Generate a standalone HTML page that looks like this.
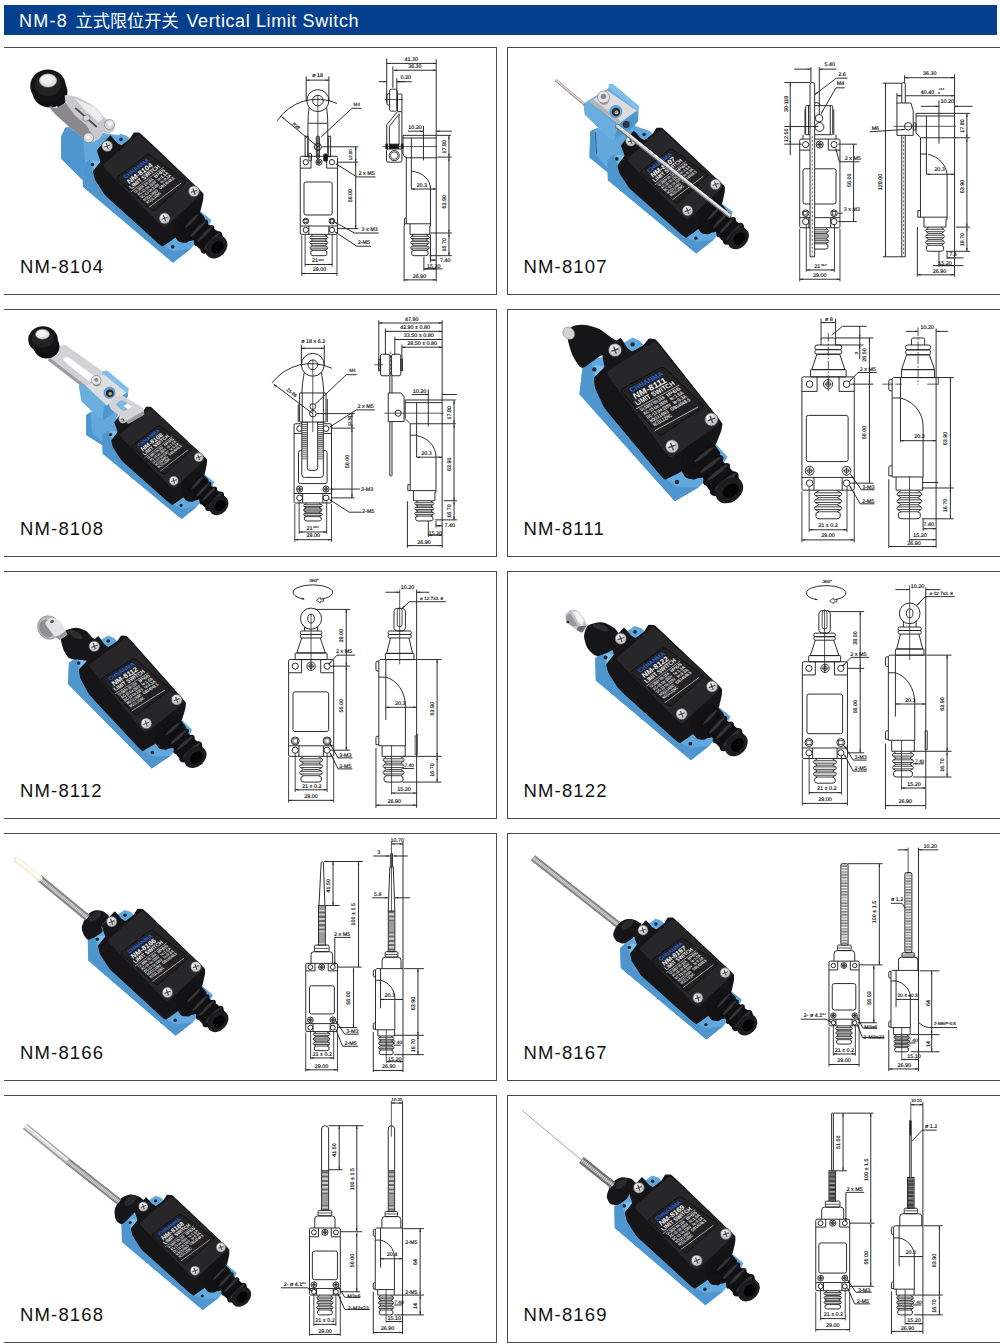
<!DOCTYPE html>
<html lang="zh"><head><meta charset="utf-8"><title>NM-8 立式限位开关 Vertical Limit Switch</title>
<style>
html,body{margin:0;padding:0;background:#fff;}
body{width:1000px;height:1343px;position:relative;overflow:hidden;font-family:"Liberation Sans","Noto Sans CJK SC",sans-serif;}
.hd{position:absolute;left:4px;top:5px;width:993px;height:30px;background:#04408d;color:#fff;font-size:18px;line-height:30px;white-space:nowrap;}
.hd span{position:absolute;top:1px;}
.hd .a{left:15px;letter-spacing:1.25px;}
.hd .b{left:71.5px;font-size:17.2px;top:0.5px;}
.hd .c{left:182.5px;letter-spacing:0.6px;}
.card{position:absolute;height:246px;border-top:1px solid #4a4a4a;border-bottom:1.5px solid #4a4a4a;box-sizing:content-box;}
.card.l{left:4px;width:492px;border-right:1px solid #4a4a4a;}
.card.r{left:507px;width:493px;border-left:1px solid #4a4a4a;}
.nm{position:absolute;font-size:18.5px;line-height:20px;color:#111;letter-spacing:1.15px;white-space:nowrap;}
svg{position:absolute;overflow:visible;}
svg text{font-family:"Liberation Sans",sans-serif;text-rendering:geometricPrecision;}
</style></head>
<body>
<div class="hd"><span class="a">NM-8 </span><span class="b">立式限位开关 </span><span class="c">Vertical Limit Switch</span></div>
<div class="card l" style="top:47px"></div>
<div class="card r" style="top:47px"></div>
<div class="card l" style="top:309px"></div>
<div class="card r" style="top:309px"></div>
<div class="card l" style="top:571px"></div>
<div class="card r" style="top:571px"></div>
<div class="card l" style="top:833px"></div>
<div class="card r" style="top:833px"></div>
<div class="card l" style="top:1095px"></div>
<div class="card r" style="top:1095px"></div>
<svg width="1000" height="1343" style="left:0;top:0" viewBox="0 0 1000 1343">
<polygon points="65.5,127.5 83.8,124.5 100.0,132.5 117.5,135.0 125.0,143.0 96.2,155.0 91.2,175.0 82.5,180.0 61.2,158.8 61.2,136.2" fill="#62a8dd" />
<polygon points="65.5,127.5 61.2,136.2 61.2,158.8 82.5,180.0 85.0,160.0 82.5,135.0" fill="#4f96cf" />
<polygon points="82.5,165.3 92.5,155.0 101.4,152.8 113.7,138.8 120.5,133.8 126.6,135.7 198.2,201.2 200.6,211.3 211.3,220.0 209.1,225.6 191.1,248.5 173.0,262.8 82.9,186.7" fill="#62a8dd" />
<polygon points="82.5,165.3 89.8,159.6 92.8,173.3 95.1,180.5 112.9,200.5 165.2,247.1 173.2,250.9 191.1,248.5 173.0,262.8 82.9,186.7" fill="#4f96cf" />
<polygon points="92.4,160.4 100.9,161.3 94.9,173.0 97.9,182.6 105.2,193.3 163.2,244.9 165.1,246.3 112.6,198.8 94.8,178.1" fill="#80bee9" />
<circle cx="92.4" cy="164.5" r="1.8" fill="#1c2a3a"/>
<circle cx="121.0" cy="139.4" r="1.8" fill="#1c2a3a"/>
<circle cx="172.7" cy="246.8" r="1.8" fill="#1c2a3a"/>
<path d="M93.0,172.0 Q92.8,171.2 93.6,170.2 L99.8,162.5 Q100.5,161.5 100.2,160.4 L97.1,151.5 Q96.7,150.3 98.1,148.8 L109.0,136.8 Q110.4,135.3 110.7,135.6 L113.4,138.4 Q113.7,138.8 114.0,139.2 L116.8,142.6 Q117.1,143.0 117.5,143.2 L120.8,145.1 Q121.3,145.4 122.1,144.7 L128.8,139.7 Q129.6,139.1 130.0,138.5 L133.3,133.2 Q133.7,132.5 134.3,132.5 L139.0,132.5 Q139.6,132.5 146.0,138.5 L197.1,187.2 Q203.5,193.3 203.5,193.9 L203.3,198.6 Q203.3,199.1 203.0,200.3 L200.8,209.8 Q200.5,210.9 199.0,212.8 L186.9,228.0 Q185.4,229.9 184.0,231.0 L172.7,239.5 Q171.3,240.5 170.4,241.2 L163.0,246.3 Q162.1,246.9 156.4,241.7 L110.5,200.2 Q104.8,195.0 103.8,193.4 L95.8,181.0 Q94.8,179.4 94.6,178.6 Z" fill="#161618" />
<path d="M105.8,169.4 Q102.1,165.6 104.3,163.7 L136.7,135.6 Q138.9,133.7 142.7,137.3 L198.3,189.4 Q202.1,193.0 199.8,195.1 L166.4,226.4 Q164.2,228.5 160.4,224.7 Z" fill="#27272a" />
<path d="M174.0,223.2 Q173.9,219.1 177.7,216.0 L185.2,209.9 Q189.0,206.8 191.1,207.5 L195.5,209.0 Q197.7,209.7 199.9,212.1 L204.3,216.9 Q206.5,219.2 201.9,225.2 L192.6,237.0 Q188.0,242.9 185.8,242.8 L181.3,242.6 Q179.1,242.5 177.9,240.8 L175.4,237.4 Q174.2,235.7 174.1,231.6 Z" fill="#131315" />
<path d="M188.0,230.8 Q184.7,225.0 187.3,222.5 L192.5,217.6 Q195.1,215.1 201.3,219.6 L213.9,228.6 Q220.1,233.1 221.6,234.8 L224.6,238.1 Q226.0,239.8 226.0,242.3 L225.8,247.3 Q225.7,249.9 223.6,251.4 L219.5,254.6 Q217.4,256.1 215.0,255.6 L210.3,254.7 Q207.9,254.2 205.4,252.7 L200.4,249.6 Q197.9,248.1 194.6,242.3 Z" fill="#0e0e10" />
<ellipse cx="191.1" cy="222.7" rx="12.3" ry="5.0" fill="#111113" transform="rotate(-46.1 191.1 222.7)"/>
<ellipse cx="191.7" cy="221.1" rx="9.8" ry="1.5" fill="#343437" transform="rotate(-46.1 191.7 221.1)"/>
<ellipse cx="197.7" cy="230.3" rx="13.9" ry="5.3" fill="#111113" transform="rotate(-46.1 197.7 230.3)"/>
<ellipse cx="198.3" cy="228.7" rx="11.1" ry="1.6" fill="#343437" transform="rotate(-46.1 198.3 228.7)"/>
<ellipse cx="204.2" cy="235.6" rx="13.6" ry="5.3" fill="#111113" transform="rotate(-46.1 204.2 235.6)"/>
<ellipse cx="204.9" cy="234.0" rx="10.9" ry="1.6" fill="#343437" transform="rotate(-46.1 204.9 234.0)"/>
<ellipse cx="211.5" cy="242.4" rx="14.2" ry="6.6" fill="#111113" transform="rotate(-46.1 211.5 242.4)"/>
<ellipse cx="212.1" cy="240.8" rx="11.4" ry="2.0" fill="#343437" transform="rotate(-46.1 212.1 240.8)"/>
<ellipse cx="216.5" cy="247.4" rx="12.4" ry="9.5" fill="#1d1d20" transform="rotate(-46.1 216.5 247.4)"/>
<ellipse cx="217.2" cy="248.2" rx="7.1" ry="5.3" fill="#050506" transform="rotate(-46.1 216.5 247.4)"/>
<path d="M118.0,180.3 Q115.7,178.3 117.7,176.8 L146.4,155.2 Q148.3,153.8 150.6,155.4 L184.5,179.8 Q186.9,181.5 184.9,183.3 L155.6,209.7 Q153.7,211.5 151.4,209.5 Z" fill="#222225" stroke="#0a0a0b" stroke-width="0.75"/>
<g transform="matrix(0.7988 -0.6017 0.7526 0.6585 115.71 178.31)">
<text x="6.1" y="6.6" font-size="5.55" fill="#2a66d0" textLength="30.6" lengthAdjust="spacingAndGlyphs" font-weight="bold">CHNANMA</text>
<text x="4.9" y="13.1" font-size="7.06" fill="#f4f4f4" textLength="30.2" lengthAdjust="spacingAndGlyphs" font-weight="bold" font-style="italic">NM-8104</text>
<text x="2.4" y="18.4" font-size="5.80" fill="#f0f0f0" textLength="36.3" lengthAdjust="spacingAndGlyphs" font-weight="bold">LIMIT SWITCH</text>
<line x1="0.0" y1="20.4" x2="40.8" y2="20.4" stroke="#d8d8d8" stroke-width="0.60"/>
<text x="2.0" y="24.5" font-size="4.13" fill="#e4e4e4" textLength="22.5" lengthAdjust="spacingAndGlyphs" font-weight="bold">Ui:380V Ith:10A</text>
<text x="26.9" y="24.5" font-size="4.13" fill="#e4e4e4" textLength="12.7" lengthAdjust="spacingAndGlyphs" font-weight="bold">IP65</text>
<text x="2.0" y="28.5" font-size="4.13" fill="#e4e4e4" textLength="22.5" lengthAdjust="spacingAndGlyphs" font-weight="bold">AC-15 Ue:250V</text>
<text x="26.9" y="28.5" font-size="4.13" fill="#e4e4e4" textLength="12.7" lengthAdjust="spacingAndGlyphs" font-weight="bold">Ie:1.5A</text>
<text x="2.0" y="32.5" font-size="4.13" fill="#e4e4e4" textLength="22.5" lengthAdjust="spacingAndGlyphs" font-weight="bold">DC-13 Ue:220V</text>
<text x="26.9" y="32.5" font-size="4.13" fill="#e4e4e4" textLength="12.7" lengthAdjust="spacingAndGlyphs" font-weight="bold">Ie:0.3A</text>
<text x="2.0" y="36.6" font-size="4.13" fill="#e4e4e4" textLength="17.1" lengthAdjust="spacingAndGlyphs" font-weight="bold">NO(13,14)NO</text>
<text x="21.6" y="36.6" font-size="4.13" fill="#e4e4e4" textLength="18.0" lengthAdjust="spacingAndGlyphs" font-weight="bold">GB14048.5</text>
<text x="2.0" y="40.6" font-size="4.13" fill="#e4e4e4" textLength="17.1" lengthAdjust="spacingAndGlyphs" font-weight="bold">NC(11,12)NC</text>
<line x1="0.0" y1="44.1" x2="40.8" y2="44.1" stroke="#d8d8d8" stroke-width="0.60"/>
</g>
<circle cx="107.2" cy="146.1" r="5.5" fill="#c4c4c6" stroke="#3a3a3a" stroke-width="0.6"/>
<circle cx="106.4" cy="145.3" r="3.4" fill="#ededee"/>
<path d="M104.1,147.2 L110.2,145.0 M106.1,143.1 L108.2,149.1" stroke="#4a4a4a" stroke-width="1.2" fill="none"/>
<circle cx="193.9" cy="191.3" r="5.5" fill="#c4c4c6" stroke="#3a3a3a" stroke-width="0.6"/>
<circle cx="193.1" cy="190.5" r="3.4" fill="#ededee"/>
<path d="M190.9,192.4 L196.9,190.2 M192.8,188.3 L195.0,194.3" stroke="#4a4a4a" stroke-width="1.2" fill="none"/>
<circle cx="164.6" cy="218.3" r="5.5" fill="#c4c4c6" stroke="#3a3a3a" stroke-width="0.6"/>
<circle cx="163.9" cy="217.4" r="3.4" fill="#ededee"/>
<path d="M161.6,219.3 L167.6,217.2 M163.5,215.3 L165.7,221.3" stroke="#4a4a4a" stroke-width="1.2" fill="none"/>
<ellipse cx="50.0" cy="92.0" rx="17.5" ry="15.5" fill="#0f0f11" transform="rotate(0 50.0 92.0)" />
<polygon points="56.2,103.8 65.5,95.0 75.0,100.0 72.5,112.5 60.0,112.5" fill="#121214" />
<path d="M64.7,96.2 Q64.5,94.5 67.1,95.0 L74.9,96.5 Q77.5,97.0 80.9,98.8 L91.1,104.2 Q94.5,106.0 96.4,108.3 L102.1,115.2 Q104.0,117.5 106.2,118.7 L112.6,122.3 Q114.8,123.5 114.8,124.7 L114.8,128.3 Q114.8,129.5 113.5,130.4 L110.0,133.3 Q108.8,134.2 107.8,133.8 L105.0,132.2 Q104.0,131.8 103.0,133.2 L100.2,137.6 Q99.2,139.0 97.8,139.7 L93.5,141.8 Q92.0,142.5 90.1,141.6 L84.4,138.7 Q82.5,137.8 79.6,135.3 L70.9,128.2 Q68.0,125.8 65.3,123.3 L57.4,116.2 Q54.8,113.8 53.5,112.2 L50.0,107.8 Q48.8,106.2 50.3,106.6 L55.0,107.7 Q56.5,108.0 58.3,107.0 L63.7,104.0 Q65.5,103.0 65.3,101.3 Z" fill="#c9c9cb" />
<polygon points="48.8,106.2 56.5,108.0 65.5,103.0 75.0,115.5 86.2,125.0 93.0,136.2 82.5,137.8 68.0,125.8 54.8,113.8" fill="#8a8a8e" />
<polygon points="75.0,98.8 94.5,107.0 103.0,118.0 98.8,122.5 85.0,110.0" fill="#ececee" />
<line x1="75.2" y1="107.8" x2="96.8" y2="127.0" stroke="#4a4a4e" stroke-width="1.75" />
<ellipse cx="86.5" cy="118.0" rx="3.8" ry="3.0" fill="#d8d4cc" transform="rotate(-30 86.5 118.0)" stroke="#555" stroke-width="0.5"/>
<circle cx="109.5" cy="124.5" r="5.0" fill="#d9d9db" stroke="#777" stroke-width="0.6"/>
<circle cx="110.0" cy="123.5" r="2.2" fill="#f6f6f6" />
<circle cx="88.5" cy="137.8" r="5.0" fill="#d9d9db" stroke="#777" stroke-width="0.6"/>
<circle cx="88.0" cy="137.2" r="2.2" fill="#f6f6f6" />
<ellipse cx="48.0" cy="86.0" rx="17.8" ry="16.5" fill="#141416" transform="rotate(0 48.0 86.0)" />
<ellipse cx="48.0" cy="85.0" rx="13.0" ry="11.0" fill="#232326" transform="rotate(0 48.0 85.0)" />
<ellipse cx="48.0" cy="80.5" rx="8.8" ry="6.8" fill="#e2dfdc" transform="rotate(0 48.0 80.5)" stroke="#777" stroke-width="0.5"/>
<ellipse cx="47.0" cy="79.5" rx="6.0" ry="4.2" fill="#f4f2ee" transform="rotate(0 47.0 79.5)" />
</svg>
<svg x="0" y="0" width="220" height="240" style="left:260px;top:50px" viewBox="0 0 1000 1091">
<rect x="183" y="483" width="169" height="355" rx="6" fill="none" stroke="#222" stroke-width="4.3"/>
<polyline points="232,483 232,537 183,537" fill="none" stroke="#222" stroke-width="4.3"/>
<polyline points="303,483 303,537 352,537" fill="none" stroke="#222" stroke-width="4.3"/>
<circle cx="208" cy="510" r="12" fill="none" stroke="#222" stroke-width="4.3"/>
<circle cx="327" cy="510" r="12" fill="none" stroke="#222" stroke-width="4.3"/>
<circle cx="268" cy="510" r="14" fill="none" stroke="#222" stroke-width="4.3"/>
<circle cx="268" cy="510" r="7" fill="none" stroke="#222" stroke-width="3.44"/>
<line x1="257" y1="510" x2="278" y2="510" stroke="#222" stroke-width="3.87"/>
<line x1="268" y1="500" x2="268" y2="520" stroke="#222" stroke-width="3.87"/>
<rect x="200" y="600" width="128" height="150" rx="9" fill="none" stroke="#222" stroke-width="4.3"/>
<circle cx="208" cy="778" r="13" fill="none" stroke="#222" stroke-width="4.3"/>
<rect x="200" y="771" width="14" height="14" rx="0" fill="none" stroke="#222" stroke-width="3.44"/>
<circle cx="208" cy="818" r="12" fill="none" stroke="#222" stroke-width="4.3"/>
<circle cx="327" cy="778" r="13" fill="none" stroke="#222" stroke-width="4.3"/>
<rect x="320" y="771" width="14" height="14" rx="0" fill="none" stroke="#222" stroke-width="3.44"/>
<circle cx="327" cy="818" r="12" fill="none" stroke="#222" stroke-width="4.3"/>
<line x1="183" y1="800" x2="352" y2="800" stroke="#222" stroke-width="4.3"/>
<line x1="222" y1="800" x2="222" y2="838" stroke="#222" stroke-width="4.3"/>
<line x1="313" y1="800" x2="313" y2="838" stroke="#222" stroke-width="4.3"/>
<path d="M240,840 L230,847 Q223,852 230,857 L240,864 M295,840 L305,847 Q312,852 305,857 L295,864 M240,864 L295,864 M230,847 L305,847 M230,857 L305,857 M240,864 L230,870 Q223,876 230,881 L240,888 M295,864 L305,870 Q312,876 305,881 L295,888 M240,888 L295,888 M230,871 L305,871 M230,880 L305,880 M240,888 L230,894 Q223,899 230,905 L240,911 M295,888 L305,894 Q312,899 305,905 L295,911 M240,911 L295,911 M230,895 L305,895 M230,904 L305,904 " fill="none" stroke="#222" stroke-width="3.87"/>
<path d="M240,911 L231,916 L231,928 Q231,935 243,935 L292,935 Q304,935 304,928 L304,916 L295,911" fill="none" stroke="#222" stroke-width="4.3"/>
<circle cx="263" cy="230" r="50" fill="none" stroke="#222" stroke-width="4.3"/>
<circle cx="263" cy="230" r="24" fill="none" stroke="#222" stroke-width="4.3"/>
<path d="M223,262 Q218,300 218,333 L218,485" fill="none" stroke="#222" stroke-width="4.3"/>
<path d="M303,262 Q308,300 308,333 L308,470" fill="none" stroke="#222" stroke-width="4.3"/>
<line x1="218" y1="333" x2="308" y2="333" stroke="#222" stroke-width="4.3"/>
<rect x="205" y="392" width="13" height="93" rx="0" fill="none" stroke="#222" stroke-width="4.3"/>
<rect x="310" y="392" width="11" height="93" rx="0" fill="none" stroke="#222" stroke-width="4.3"/>
<line x1="263" y1="205" x2="263" y2="520" stroke="#222" stroke-width="3.44"/>
<rect x="256" y="392" width="14" height="100" rx="4" fill="none" stroke="#222" stroke-width="4.3"/>
<line x1="263" y1="395" x2="263" y2="490" stroke="#222" stroke-width="8" stroke-dasharray="3 3"/>
<circle cx="263" cy="440" r="16" fill="none" stroke="#222" stroke-width="4.3"/>
<line x1="252" y1="450" x2="274" y2="430" stroke="#222" stroke-width="4.3"/>
<rect x="290" y="473" width="17" height="32" rx="3" fill="#111" stroke="#222" stroke-width="4.3"/>
<rect x="222" y="470" width="12" height="34" rx="5" fill="none" stroke="#222" stroke-width="4.3"/>
<path d="M78,322 A218,218 0 0 1 350,243" fill="none" stroke="#222" stroke-width="4.3"/>
<line x1="98" y1="303" x2="263" y2="440" stroke="#222" stroke-width="4.3"/>
<polygon points="98,303 111.6,310.1 107.5,315.0" fill="#222"/>
<text x="160" y="350" font-size="20" text-anchor="middle" fill="#111" stroke="#111" stroke-width="0.7" transform="rotate(40 160 350)">R38</text>
<line x1="210" y1="120" x2="210" y2="232" stroke="#222" stroke-width="4.3"/>
<line x1="313" y1="120" x2="313" y2="232" stroke="#222" stroke-width="4.3"/>
<line x1="210" y1="137" x2="313" y2="137" stroke="#222" stroke-width="4.3"/>
<polygon points="210,137 225.0,133.8 225.0,140.2" fill="#222"/>
<polygon points="313,137 298.0,140.2 298.0,133.8" fill="#222"/>
<text x="262" y="125" font-size="24.5" text-anchor="middle" fill="#111" stroke="#111" stroke-width="0.7">ø 18</text>
<polyline points="460,265 418,265 278,395" fill="none" stroke="#222" stroke-width="4.3"/>
<text x="440" y="255" font-size="21" text-anchor="middle" fill="#111" stroke="#111" stroke-width="0.7">M4</text>
<line x1="280" y1="440" x2="447" y2="440" stroke="#222" stroke-width="4.3"/>
<line x1="350" y1="510" x2="447" y2="510" stroke="#222" stroke-width="4.3"/>
<line x1="435" y1="440" x2="435" y2="510" stroke="#222" stroke-width="4.3"/>
<polygon points="435,440 438.2,455.0 431.8,455.0" fill="#222"/>
<polygon points="435,510 431.8,495.0 438.2,495.0" fill="#222"/>
<text x="420" y="476" font-size="20" text-anchor="middle" fill="#111" stroke="#111" stroke-width="0.7" transform="rotate(-90 420 476)">12.50</text>
<polyline points="345,517 440,577 525,577" fill="none" stroke="#222" stroke-width="4.3"/>
<polygon points="345,517 357.6,521.4 354.4,526.5" fill="#222"/>
<text x="485" y="568" font-size="24.5" text-anchor="middle" fill="#111" stroke="#111" stroke-width="0.7">2 x M5</text>
<line x1="435" y1="512" x2="435" y2="812" stroke="#222" stroke-width="4.3"/>
<polygon points="435,512 438.2,527.0 431.8,527.0" fill="#222"/>
<polygon points="435,812 431.8,797.0 438.2,797.0" fill="#222"/>
<text x="420" y="662" font-size="24.5" text-anchor="middle" fill="#111" stroke="#111" stroke-width="0.7" transform="rotate(-90 420 662)">56.00</text>
<line x1="350" y1="812" x2="447" y2="812" stroke="#222" stroke-width="4.3"/>
<polyline points="340,783 430,832 540,832" fill="none" stroke="#222" stroke-width="4.3"/>
<polygon points="340,783 352.9,786.6 350.0,791.9" fill="#222"/>
<text x="498" y="823" font-size="24.5" text-anchor="middle" fill="#111" stroke="#111" stroke-width="0.7">3 x M3</text>
<polyline points="340,826 440,892 505,892" fill="none" stroke="#222" stroke-width="4.3"/>
<polygon points="340,826 352.5,830.7 349.2,835.7" fill="#222"/>
<text x="472" y="883" font-size="24.5" text-anchor="middle" fill="#111" stroke="#111" stroke-width="0.7">2-M5</text>
<line x1="205" y1="840" x2="205" y2="985" stroke="#222" stroke-width="3.87"/>
<line x1="328" y1="840" x2="328" y2="985" stroke="#222" stroke-width="3.87"/>
<line x1="205" y1="975" x2="328" y2="975" stroke="#222" stroke-width="4.3"/>
<polygon points="205,975 220.0,971.8 220.0,978.2" fill="#222"/>
<polygon points="328,975 313.0,978.2 313.0,971.8" fill="#222"/>
<text x="250" y="965" font-size="24.5" text-anchor="middle" fill="#111" stroke="#111" stroke-width="0.7">21</text>
<text x="278" y="958" font-size="13" text-anchor="middle" fill="#111" stroke="#111" stroke-width="0.7">±0.2</text>
<line x1="190" y1="842" x2="190" y2="1027" stroke="#222" stroke-width="3.87"/>
<line x1="350" y1="842" x2="350" y2="1027" stroke="#222" stroke-width="3.87"/>
<line x1="190" y1="1016" x2="350" y2="1016" stroke="#222" stroke-width="4.3"/>
<polygon points="190,1016 205.0,1012.8 205.0,1019.2" fill="#222"/>
<polygon points="350,1016 335.0,1019.2 335.0,1012.8" fill="#222"/>
<text x="270" y="1005" font-size="24.5" text-anchor="middle" fill="#111" stroke="#111" stroke-width="0.7">29.00</text>
<line x1="801" y1="42" x2="801" y2="1052" stroke="#222" stroke-width="4.3"/>
<line x1="576" y1="38" x2="576" y2="240" stroke="#222" stroke-width="4.3"/>
<line x1="576" y1="61" x2="801" y2="61" stroke="#222" stroke-width="4.3"/>
<polygon points="576,61 591.0,57.8 591.0,64.2" fill="#222"/>
<polygon points="801,61 786.0,64.2 786.0,57.8" fill="#222"/>
<text x="688" y="50" font-size="24.5" text-anchor="middle" fill="#111" stroke="#111" stroke-width="0.7">41.30</text>
<line x1="604" y1="75" x2="604" y2="172" stroke="#222" stroke-width="4.3"/>
<line x1="608" y1="92" x2="801" y2="92" stroke="#222" stroke-width="4.3"/>
<polygon points="608,92 623.0,88.8 623.0,95.2" fill="#222"/>
<polygon points="801,92 786.0,95.2 786.0,88.8" fill="#222"/>
<text x="704" y="82" font-size="24.5" text-anchor="middle" fill="#111" stroke="#111" stroke-width="0.7">36.30</text>
<line x1="622" y1="128" x2="622" y2="270" stroke="#222" stroke-width="4.3"/>
<line x1="540" y1="144" x2="576" y2="144" stroke="#222" stroke-width="4.3"/>
<line x1="622" y1="144" x2="658" y2="144" stroke="#222" stroke-width="4.3"/>
<polygon points="576,144 561.0,147.2 561.0,140.8" fill="#222"/>
<polygon points="622,144 637.0,140.8 637.0,147.2" fill="#222"/>
<text x="662" y="133" font-size="24.5" text-anchor="middle" fill="#111" stroke="#111" stroke-width="0.7">0.20</text>
<line x1="622" y1="144" x2="690" y2="144" stroke="#222" stroke-width="4.3"/>
<rect x="589" y="178" width="35" height="100" rx="9" fill="none" stroke="#222" stroke-width="4.3"/>
<path d="M589,200 L581,200 Q577,200 577,205 L577,245 Q577,250 581,250 L589,250" fill="none" stroke="#222" stroke-width="4.3"/>
<rect x="625" y="200" width="20" height="80" rx="3" fill="none" stroke="#222" stroke-width="4.3"/>
<line x1="567" y1="225" x2="650" y2="225" stroke="#222" stroke-width="3.44"/>
<line x1="645" y1="280" x2="645" y2="430" stroke="#222" stroke-width="4.3"/>
<line x1="632" y1="288" x2="632" y2="430" stroke="#222" stroke-width="4.3"/>
<polyline points="625,280 576,340 576,430" fill="none" stroke="#222" stroke-width="4.3"/>
<polyline points="632,292 588,347 588,430" fill="none" stroke="#222" stroke-width="4.3"/>
<rect x="588" y="428" width="43" height="20" rx="0" fill="#111" stroke="#222" stroke-width="4.3"/>
<rect x="572" y="428" width="8" height="20" rx="0" fill="#111" stroke="#222" stroke-width="4.3"/>
<rect x="642" y="428" width="8" height="20" rx="0" fill="#111" stroke="#222" stroke-width="4.3"/>
<rect x="575" y="450" width="70" height="60" rx="8" fill="none" stroke="#222" stroke-width="4.3"/>
<circle cx="610" cy="480" r="23" fill="none" stroke="#222" stroke-width="4.3"/>
<circle cx="610" cy="480" r="17" fill="none" stroke="#222" stroke-width="3.44"/>
<line x1="557" y1="439" x2="805" y2="439" stroke="#222" stroke-width="3.44"/>
<line x1="650" y1="388" x2="868" y2="388" stroke="#222" stroke-width="4.3"/>
<line x1="650" y1="400" x2="801" y2="400" stroke="#222" stroke-width="4.3"/>
<path d="M650,388 L650,470 Q652,488 668,490" fill="none" stroke="#222" stroke-width="4.3"/>
<line x1="665" y1="490" x2="665" y2="790" stroke="#222" stroke-width="4.3"/>
<line x1="688" y1="400" x2="688" y2="632" stroke="#222" stroke-width="4.3"/>
<line x1="665" y1="490" x2="803" y2="490" stroke="#222" stroke-width="4.3"/>
<line x1="743" y1="345" x2="743" y2="502" stroke="#222" stroke-width="4.3"/>
<line x1="672" y1="369" x2="743" y2="369" stroke="#222" stroke-width="4.3"/>
<polygon points="743,369 728.0,372.2 728.0,365.8" fill="#222"/>
<line x1="801" y1="369" x2="872" y2="369" stroke="#222" stroke-width="4.3"/>
<polygon points="801,369 816.0,365.8 816.0,372.2" fill="#222"/>
<text x="705" y="358" font-size="24.5" text-anchor="middle" fill="#111" stroke="#111" stroke-width="0.7">10.20</text>
<line x1="805" y1="487" x2="872" y2="487" stroke="#222" stroke-width="4.3"/>
<line x1="859" y1="390" x2="859" y2="487" stroke="#222" stroke-width="4.3"/>
<polygon points="859,390 862.2,405.0 855.8,405.0" fill="#222"/>
<polygon points="859,487 855.8,472.0 862.2,472.0" fill="#222"/>
<text x="845" y="440" font-size="24.5" text-anchor="middle" fill="#111" stroke="#111" stroke-width="0.7" transform="rotate(-90 845 440)">17.80</text>
<path d="M688,550 C740,556 775,590 775,632" fill="none" stroke="#222" stroke-width="4.3"/>
<line x1="775" y1="632" x2="775" y2="800" stroke="#222" stroke-width="4.3"/>
<line x1="688" y1="632" x2="801" y2="632" stroke="#222" stroke-width="4.3"/>
<polygon points="688,632 703.0,628.8 703.0,635.2" fill="#222"/>
<polygon points="801,632 786.0,635.2 786.0,628.8" fill="#222"/>
<text x="735" y="622" font-size="24.5" text-anchor="middle" fill="#111" stroke="#111" stroke-width="0.7">20.3</text>
<polyline points="665,765 657,765 657,790 775,790" fill="none" stroke="#222" stroke-width="4.3"/>
<line x1="657" y1="790" x2="657" y2="800" stroke="#222" stroke-width="4.3"/>
<polyline points="682,790 682,838 772,838 772,800 775,800" fill="none" stroke="#222" stroke-width="4.3"/>
<path d="M699,840 L688,847 Q682,852 688,857 L699,864 M755,840 L766,847 Q772,852 766,857 L755,864 M699,864 L755,864 M688,847 L766,847 M688,857 L766,857 M699,864 L688,870 Q682,876 688,881 L699,888 M755,864 L766,870 Q772,876 766,881 L755,888 M699,888 L755,888 M688,871 L766,871 M688,880 L766,880 M699,888 L688,894 Q682,899 688,905 L699,911 M755,888 L766,894 Q772,899 766,905 L755,911 M699,911 L755,911 M688,895 L766,895 M688,904 L766,904 " fill="none" stroke="#222" stroke-width="3.87"/>
<path d="M699,911 L690,916 L690,928 Q690,935 702,935 L752,935 Q764,935 764,928 L764,916 L755,911" fill="none" stroke="#222" stroke-width="4.3"/>
<line x1="775" y1="832" x2="872" y2="832" stroke="#222" stroke-width="4.3"/>
<line x1="770" y1="935" x2="872" y2="935" stroke="#222" stroke-width="4.3"/>
<line x1="859" y1="489" x2="859" y2="832" stroke="#222" stroke-width="4.3"/>
<polygon points="859,489 862.2,504.0 855.8,504.0" fill="#222"/>
<polygon points="859,832 855.8,817.0 862.2,817.0" fill="#222"/>
<text x="845" y="690" font-size="24.5" text-anchor="middle" fill="#111" stroke="#111" stroke-width="0.7" transform="rotate(-90 845 690)">63.90</text>
<line x1="859" y1="834" x2="859" y2="935" stroke="#222" stroke-width="4.3"/>
<polygon points="859,834 862.2,849.0 855.8,849.0" fill="#222"/>
<polygon points="859,935 855.8,920.0 862.2,920.0" fill="#222"/>
<text x="845" y="885" font-size="24.5" text-anchor="middle" fill="#111" stroke="#111" stroke-width="0.7" transform="rotate(-90 845 885)">16.70</text>
<line x1="775" y1="838" x2="775" y2="965" stroke="#222" stroke-width="4.3"/>
<line x1="775" y1="955" x2="801" y2="955" stroke="#222" stroke-width="4.3"/>
<polygon points="775,955 790.0,951.8 790.0,958.2" fill="#222"/>
<polygon points="801,955 786.0,958.2 786.0,951.8" fill="#222"/>
<text x="842" y="962" font-size="24.5" text-anchor="middle" fill="#111" stroke="#111" stroke-width="0.7">7.40</text>
<line x1="745" y1="940" x2="745" y2="1003" stroke="#222" stroke-width="4.3"/>
<line x1="745" y1="995" x2="801" y2="995" stroke="#222" stroke-width="4.3"/>
<polygon points="745,995 760.0,991.8 760.0,998.2" fill="#222"/>
<polygon points="801,995 786.0,998.2 786.0,991.8" fill="#222"/>
<text x="790" y="993" font-size="24.5" text-anchor="middle" fill="#111" stroke="#111" stroke-width="0.7">15.20</text>
<line x1="745" y1="995" x2="830" y2="995" stroke="#222" stroke-width="4.3"/>
<line x1="655" y1="800" x2="655" y2="1052" stroke="#222" stroke-width="4.3"/>
<line x1="655" y1="1045" x2="801" y2="1045" stroke="#222" stroke-width="4.3"/>
<polygon points="655,1045 670.0,1041.8 670.0,1048.2" fill="#222"/>
<polygon points="801,1045 786.0,1048.2 786.0,1041.8" fill="#222"/>
<text x="725" y="1035" font-size="24.5" text-anchor="middle" fill="#111" stroke="#111" stroke-width="0.7">26.90</text>
</svg>
<svg width="1000" height="1343" style="left:0;top:0" viewBox="0 0 1000 1343">
<polygon points="590.2,131.2 598.0,127.5 614.5,139.5 624.5,136.2 635.8,126.2 647.0,130.0 657.0,140.0 627.0,167.5 617.0,180.0 589.5,157.5" fill="#62a8dd" />
<polygon points="590.2,131.2 595.0,129.5 596.0,155.0 617.0,180.0 589.5,157.5" fill="#4f96cf" />
<line x1="595.5" y1="132.5" x2="596.5" y2="153.8" stroke="#2f4a66" stroke-width="0.75" />
<polygon points="613.0,139.0 622.0,134.2 634.0,126.0 637.0,126.2 625.8,137.5 615.0,141.5" fill="#62a8dd" />
<polygon points="607.2,159.7 616.8,149.6 625.3,147.5 637.1,133.9 643.6,129.0 649.6,130.9 719.9,194.0 722.3,203.7 732.9,212.1 730.7,217.5 713.7,239.7 696.3,253.6 607.9,180.3" fill="#62a8dd" />
<polygon points="607.2,159.7 614.2,154.1 617.3,167.4 619.7,174.3 637.2,193.5 688.5,238.4 696.4,242.1 713.7,239.7 696.3,253.6 607.9,180.3" fill="#4f96cf" />
<polygon points="616.7,154.8 625.0,155.7 619.4,167.1 622.4,176.3 629.6,186.6 686.6,236.3 688.4,237.7 636.9,192.0 619.3,171.9" fill="#80bee9" />
<circle cx="616.9" cy="158.9" r="1.8" fill="#1c2a3a"/>
<circle cx="644.1" cy="134.5" r="1.8" fill="#1c2a3a"/>
<circle cx="695.8" cy="238.2" r="1.8" fill="#1c2a3a"/>
<path d="M617.5,166.1 Q617.3,165.3 618.1,164.3 L623.9,156.8 Q624.7,155.9 624.3,154.8 L621.2,146.2 Q620.8,145.1 622.1,143.7 L632.5,132.0 Q633.8,130.5 634.1,130.9 L636.7,133.6 Q637.1,133.9 637.4,134.3 L640.1,137.5 Q640.4,138.0 640.8,138.2 L644.1,140.0 Q644.5,140.3 645.3,139.6 L651.7,134.8 Q652.5,134.2 652.9,133.5 L656.0,128.4 Q656.4,127.8 657.0,127.8 L661.5,127.7 Q662.1,127.7 668.3,133.6 L718.6,180.4 Q724.9,186.3 724.9,186.8 L724.8,191.4 Q724.8,192.0 724.5,193.1 L722.5,202.2 Q722.3,203.4 720.8,205.2 L709.3,219.9 Q707.9,221.7 706.5,222.8 L695.7,231.0 Q694.4,232.1 693.5,232.7 L686.5,237.6 Q685.6,238.2 680.0,233.2 L634.9,193.3 Q629.2,188.3 628.3,186.8 L620.3,174.7 Q619.4,173.2 619.1,172.4 Z" fill="#161618" />
<path d="M629.9,163.5 Q626.2,159.9 628.4,158.0 L659.3,130.8 Q661.4,128.9 665.2,132.4 L719.8,182.6 Q723.5,186.0 721.4,188.1 L689.5,218.4 Q687.3,220.5 683.6,216.9 Z" fill="#27272a" />
<path d="M696.7,215.3 Q696.6,211.3 700.2,208.3 L707.4,202.4 Q711.0,199.4 713.1,200.1 L717.4,201.5 Q719.5,202.2 721.7,204.5 L726.0,209.1 Q728.2,211.4 723.8,217.1 L715.0,228.6 Q710.6,234.3 708.4,234.2 L704.1,234.1 Q702.0,234.0 700.7,232.3 L698.3,229.1 Q697.1,227.4 697.0,223.4 Z" fill="#131315" />
<path d="M710.4,222.6 Q707.2,217.0 709.6,214.6 L714.6,209.8 Q717.1,207.4 723.2,211.7 L735.4,220.4 Q741.6,224.8 743.0,226.4 L745.9,229.6 Q747.4,231.2 747.4,233.6 L747.3,238.5 Q747.3,240.9 745.3,242.4 L741.3,245.5 Q739.3,247.0 737.0,246.5 L732.4,245.6 Q730.1,245.1 727.6,243.7 L722.7,240.8 Q720.3,239.3 717.0,233.7 Z" fill="#0e0e10" />
<ellipse cx="713.3" cy="214.8" rx="11.9" ry="4.8" fill="#111113" transform="rotate(-46.6 713.3 214.8)"/>
<ellipse cx="713.9" cy="213.2" rx="9.5" ry="1.4" fill="#343437" transform="rotate(-46.6 713.9 213.2)"/>
<ellipse cx="719.8" cy="222.1" rx="13.5" ry="5.1" fill="#111113" transform="rotate(-46.6 719.8 222.1)"/>
<ellipse cx="720.3" cy="220.5" rx="10.8" ry="1.5" fill="#343437" transform="rotate(-46.6 720.3 220.5)"/>
<ellipse cx="726.2" cy="227.2" rx="13.1" ry="5.1" fill="#111113" transform="rotate(-46.6 726.2 227.2)"/>
<ellipse cx="726.8" cy="225.7" rx="10.5" ry="1.5" fill="#343437" transform="rotate(-46.6 726.8 225.7)"/>
<ellipse cx="733.4" cy="233.8" rx="13.8" ry="6.4" fill="#111113" transform="rotate(-46.6 733.4 233.8)"/>
<ellipse cx="733.9" cy="232.2" rx="11.0" ry="1.9" fill="#343437" transform="rotate(-46.6 733.9 232.2)"/>
<ellipse cx="738.3" cy="238.5" rx="12.0" ry="9.2" fill="#1d1d20" transform="rotate(-46.6 738.3 238.5)"/>
<ellipse cx="738.9" cy="239.3" rx="6.9" ry="5.1" fill="#050506" transform="rotate(-46.6 738.3 238.5)"/>
<path d="M641.8,174.0 Q639.6,172.1 641.5,170.7 L669.0,149.7 Q670.8,148.3 673.1,149.9 L706.3,173.4 Q708.6,175.0 706.7,176.7 L678.8,202.3 Q676.9,204.1 674.6,202.2 Z" fill="#222225" stroke="#0a0a0b" stroke-width="0.72"/>
<g transform="matrix(0.7948 -0.6069 0.7589 0.6512 639.60 172.11)">
<text x="5.9" y="6.4" font-size="5.40" fill="#2a66d0" textLength="29.5" lengthAdjust="spacingAndGlyphs" font-weight="bold">CHNANMA</text>
<text x="4.7" y="12.8" font-size="6.87" fill="#f4f4f4" textLength="29.1" lengthAdjust="spacingAndGlyphs" font-weight="bold" font-style="italic">NM-8107</text>
<text x="2.4" y="17.9" font-size="5.64" fill="#f0f0f0" textLength="35.0" lengthAdjust="spacingAndGlyphs" font-weight="bold">LIMIT SWITCH</text>
<line x1="0.0" y1="19.9" x2="39.3" y2="19.9" stroke="#d8d8d8" stroke-width="0.59"/>
<text x="2.0" y="23.8" font-size="4.02" fill="#e4e4e4" textLength="21.6" lengthAdjust="spacingAndGlyphs" font-weight="bold">Ui:380V Ith:10A</text>
<text x="25.9" y="23.8" font-size="4.02" fill="#e4e4e4" textLength="12.2" lengthAdjust="spacingAndGlyphs" font-weight="bold">IP65</text>
<text x="2.0" y="27.7" font-size="4.02" fill="#e4e4e4" textLength="21.6" lengthAdjust="spacingAndGlyphs" font-weight="bold">AC-15 Ue:250V</text>
<text x="25.9" y="27.7" font-size="4.02" fill="#e4e4e4" textLength="12.2" lengthAdjust="spacingAndGlyphs" font-weight="bold">Ie:1.5A</text>
<text x="2.0" y="31.7" font-size="4.02" fill="#e4e4e4" textLength="21.6" lengthAdjust="spacingAndGlyphs" font-weight="bold">DC-13 Ue:220V</text>
<text x="25.9" y="31.7" font-size="4.02" fill="#e4e4e4" textLength="12.2" lengthAdjust="spacingAndGlyphs" font-weight="bold">Ie:0.3A</text>
<text x="2.0" y="35.6" font-size="4.02" fill="#e4e4e4" textLength="16.5" lengthAdjust="spacingAndGlyphs" font-weight="bold">NO(13,14)NO</text>
<text x="20.8" y="35.6" font-size="4.02" fill="#e4e4e4" textLength="17.3" lengthAdjust="spacingAndGlyphs" font-weight="bold">GB14048.5</text>
<text x="2.0" y="39.5" font-size="4.02" fill="#e4e4e4" textLength="16.5" lengthAdjust="spacingAndGlyphs" font-weight="bold">NC(11,12)NC</text>
<line x1="0.0" y1="42.9" x2="39.3" y2="42.9" stroke="#d8d8d8" stroke-width="0.59"/>
</g>
<circle cx="630.8" cy="141.0" r="5.3" fill="#c4c4c6" stroke="#3a3a3a" stroke-width="0.6"/>
<circle cx="630.1" cy="140.2" r="3.3" fill="#ededee"/>
<path d="M627.9,142.1 L633.8,140.0 M629.8,138.1 L631.9,143.9" stroke="#4a4a4a" stroke-width="1.2" fill="none"/>
<circle cx="715.5" cy="184.4" r="5.3" fill="#c4c4c6" stroke="#3a3a3a" stroke-width="0.6"/>
<circle cx="714.8" cy="183.6" r="3.3" fill="#ededee"/>
<path d="M712.6,185.5 L718.4,183.4 M714.5,181.5 L716.6,187.4" stroke="#4a4a4a" stroke-width="1.2" fill="none"/>
<circle cx="687.6" cy="210.6" r="5.3" fill="#c4c4c6" stroke="#3a3a3a" stroke-width="0.6"/>
<circle cx="686.8" cy="209.8" r="3.3" fill="#ededee"/>
<path d="M684.6,211.6 L690.5,209.5 M686.5,207.7 L688.6,213.5" stroke="#4a4a4a" stroke-width="1.2" fill="none"/>
<polygon points="583.5,104.2 588.5,100.5 608.8,88.0 608.8,84.5 612.5,83.8 638.8,106.0 638.2,120.5 634.0,126.5 622.0,134.8 614.5,139.5 611.8,140.2 584.8,114.5" fill="#62a8dd" />
<polygon points="583.5,104.2 588.5,100.5 615.5,125.2 613.5,139.5 611.8,140.2 584.8,114.5" fill="#6aaee0" />
<polygon points="618.5,124.0 636.5,110.8 638.2,120.5 634.0,126.5 622.0,134.8 614.5,139.5" fill="#4f96cf" />
<polygon points="608.8,84.5 612.5,83.8 638.8,106.0 638.2,111.5 636.5,110.8 608.8,88.0" fill="#80bee9" />
<polygon points="589.5,101.5 607.5,90.5 636.5,110.8 618.5,124.0" fill="#dcdcde" />
<polygon points="589.5,101.5 593.2,99.2 620.8,121.2 618.5,124.0" fill="#b4b4b8" />
<circle cx="604.0" cy="100.0" r="5.0" fill="#9a9a9e" />
<circle cx="603.5" cy="97.0" r="6.0" fill="#e6e6e8" stroke="#777" stroke-width="0.6"/>
<circle cx="603.5" cy="96.5" r="2.8" fill="#8a8a8e" />
<circle cx="615.8" cy="111.5" r="6.5" fill="#5a9fd5" />
<circle cx="616.0" cy="112.0" r="4.2" fill="#2a2a2c" />
<circle cx="616.5" cy="112.5" r="2.0" fill="#c9a86a" />
<circle cx="626.2" cy="124.5" r="3.5" fill="#2a3848" />
<line x1="556.5" y1="80.8" x2="583.5" y2="103.5" stroke="#8a7f78" stroke-width="2.75" stroke-linecap="round"/>
<line x1="556.5" y1="80.5" x2="583.5" y2="103.2" stroke="#e6dcd2" stroke-width="1.50" stroke-linecap="round"/>
<line x1="617.2" y1="126.5" x2="729.5" y2="215.8" stroke="#6e6e72" stroke-width="4.25" stroke-linecap="round"/>
<line x1="617.2" y1="126.0" x2="729.5" y2="215.2" stroke="#d8d8da" stroke-width="2.50" stroke-linecap="round"/>
<line x1="618.0" y1="125.2" x2="729.0" y2="214.2" stroke="#fafafa" stroke-width="0.88" />
</svg>
<svg x="0" y="0" width="220" height="240" style="left:770px;top:50px" viewBox="0 0 1000 1091">
<rect x="135" y="405" width="183" height="403" rx="6" fill="none" stroke="#222" stroke-width="4.3"/>
<polyline points="188,405 188,455 135,455" fill="none" stroke="#222" stroke-width="4.3"/>
<polyline points="265,405 265,455 318,455" fill="none" stroke="#222" stroke-width="4.3"/>
<circle cx="162" cy="430" r="14" fill="none" stroke="#222" stroke-width="4.3"/>
<circle cx="291" cy="430" r="14" fill="none" stroke="#222" stroke-width="4.3"/>
<circle cx="226" cy="430" r="16" fill="none" stroke="#222" stroke-width="4.3"/>
<circle cx="226" cy="430" r="8" fill="none" stroke="#222" stroke-width="3.44"/>
<line x1="214" y1="430" x2="238" y2="430" stroke="#222" stroke-width="3.87"/>
<line x1="226" y1="418" x2="226" y2="442" stroke="#222" stroke-width="3.87"/>
<rect x="150" y="540" width="150" height="160" rx="9" fill="none" stroke="#222" stroke-width="4.3"/>
<circle cx="162" cy="742" r="15" fill="none" stroke="#222" stroke-width="4.3"/>
<rect x="153" y="734" width="16" height="16" rx="0" fill="none" stroke="#222" stroke-width="3.44"/>
<circle cx="162" cy="780" r="14" fill="none" stroke="#222" stroke-width="4.3"/>
<circle cx="291" cy="742" r="15" fill="none" stroke="#222" stroke-width="4.3"/>
<rect x="283" y="734" width="16" height="16" rx="0" fill="none" stroke="#222" stroke-width="3.44"/>
<circle cx="291" cy="780" r="14" fill="none" stroke="#222" stroke-width="4.3"/>
<line x1="135" y1="762" x2="318" y2="762" stroke="#222" stroke-width="4.3"/>
<line x1="177" y1="762" x2="177" y2="808" stroke="#222" stroke-width="4.3"/>
<line x1="276" y1="762" x2="276" y2="808" stroke="#222" stroke-width="4.3"/>
<path d="M199,810 L189,817 Q182,822 189,827 L199,834 M254,810 L264,817 Q271,822 264,827 L254,834 M199,834 L254,834 M189,817 L264,817 M189,827 L264,827 M199,834 L189,840 Q182,846 189,851 L199,858 M254,834 L264,840 Q271,846 264,851 L254,858 M199,858 L254,858 M189,841 L264,841 M189,850 L264,850 M199,858 L189,864 Q182,869 189,875 L199,881 M254,858 L264,864 Q271,869 264,875 L254,881 M199,881 L254,881 M189,865 L264,865 M189,874 L264,874 " fill="none" stroke="#222" stroke-width="3.87"/>
<path d="M199,881 L190,886 L190,898 Q190,905 202,905 L251,905 Q263,905 263,898 L263,886 L254,881" fill="none" stroke="#222" stroke-width="4.3"/>
<rect x="162" y="253" width="123" height="132" rx="4" fill="none" stroke="#222" stroke-width="4.3"/>
<line x1="175" y1="253" x2="175" y2="385" stroke="#222" stroke-width="4.3"/>
<line x1="274" y1="253" x2="274" y2="385" stroke="#222" stroke-width="4.3"/>
<path d="M190,253 Q210,225 232,253" fill="none" stroke="#222" stroke-width="4.3"/>
<circle cx="223" cy="310" r="17" fill="none" stroke="#222" stroke-width="4.3"/>
<circle cx="225" cy="350" r="20" fill="none" stroke="#222" stroke-width="4.3"/>
<line x1="159" y1="270" x2="159" y2="385" stroke="#222" stroke-width="4.3"/>
<line x1="290" y1="270" x2="290" y2="385" stroke="#222" stroke-width="4.3"/>
<line x1="150" y1="385" x2="150" y2="405" stroke="#222" stroke-width="4.3"/>
<line x1="300" y1="385" x2="300" y2="405" stroke="#222" stroke-width="4.3"/>
<path d="M182,940 L182,156 Q182,148 192,148 Q203,148 203,156 L203,940 Z" fill="#fff" stroke="#222" stroke-width="4.3"/>
<line x1="192" y1="390" x2="192" y2="935" stroke="#777" stroke-width="5" stroke-dasharray="10 8"/>
<line x1="186" y1="78" x2="186" y2="148" stroke="#222" stroke-width="4.3"/>
<line x1="224" y1="78" x2="224" y2="293" stroke="#222" stroke-width="4.3"/>
<line x1="110" y1="87" x2="186" y2="87" stroke="#222" stroke-width="4.3"/>
<polygon points="186,87 171.0,90.2 171.0,83.8" fill="#222"/>
<line x1="224" y1="87" x2="302" y2="87" stroke="#222" stroke-width="4.3"/>
<polygon points="224,87 239.0,83.8 239.0,90.2" fill="#222"/>
<text x="272" y="75" font-size="24.5" text-anchor="middle" fill="#111" stroke="#111" stroke-width="0.7">5.40</text>
<polyline points="352,128 302,128 203,203" fill="none" stroke="#222" stroke-width="4.3"/>
<polygon points="203,203 213.0,191.4 216.9,196.5" fill="#222"/>
<text x="327" y="118" font-size="24.5" text-anchor="middle" fill="#111" stroke="#111" stroke-width="0.7">2.6</text>
<polyline points="340,172 300,172 232,290" fill="none" stroke="#222" stroke-width="4.3"/>
<polygon points="232,290 236.7,275.4 242.3,278.6" fill="#222"/>
<text x="320" y="160" font-size="24.5" text-anchor="middle" fill="#111" stroke="#111" stroke-width="0.7">M4</text>
<line x1="65" y1="148" x2="182" y2="148" stroke="#222" stroke-width="4.3"/>
<line x1="65" y1="348" x2="220" y2="348" stroke="#222" stroke-width="4.3"/>
<line x1="65" y1="428" x2="145" y2="428" stroke="#222" stroke-width="4.3"/>
<line x1="92" y1="148" x2="92" y2="348" stroke="#222" stroke-width="4.3"/>
<polygon points="92,148 95.2,163.0 88.8,163.0" fill="#222"/>
<polygon points="92,348 88.8,333.0 95.2,333.0" fill="#222"/>
<text x="84" y="245" font-size="24.5" text-anchor="middle" fill="#111" stroke="#111" stroke-width="0.7" transform="rotate(-90 84 245)">30-118</text>
<line x1="92" y1="348" x2="92" y2="428" stroke="#222" stroke-width="4.3"/>
<polygon points="92,348 95.2,363.0 88.8,363.0" fill="#222"/>
<polygon points="92,428 88.8,413.0 95.2,413.0" fill="#222"/>
<text x="84" y="388" font-size="24.5" text-anchor="middle" fill="#111" stroke="#111" stroke-width="0.7" transform="rotate(-90 84 388)">12.50</text>
<line x1="92" y1="428" x2="92" y2="478" stroke="#222" stroke-width="4.3"/>
<polyline points="299,448 315,508 407,508" fill="none" stroke="#222" stroke-width="4.3"/>
<polygon points="299,448 306.0,461.7 299.8,463.3" fill="#222"/>
<text x="377" y="498" font-size="24.5" text-anchor="middle" fill="#111" stroke="#111" stroke-width="0.7">2 x M5</text>
<line x1="310" y1="428" x2="395" y2="428" stroke="#222" stroke-width="4.3"/>
<line x1="310" y1="780" x2="395" y2="780" stroke="#222" stroke-width="4.3"/>
<line x1="380" y1="428" x2="380" y2="780" stroke="#222" stroke-width="4.3"/>
<polygon points="380,428 383.2,443.0 376.8,443.0" fill="#222"/>
<polygon points="380,780 376.8,765.0 383.2,765.0" fill="#222"/>
<text x="366" y="592" font-size="24.5" text-anchor="middle" fill="#111" stroke="#111" stroke-width="0.7" transform="rotate(-90 366 592)">56.00</text>
<text x="372" y="730" font-size="24.5" text-anchor="middle" fill="#111" stroke="#111" stroke-width="0.7">3 x M3</text>
<line x1="310" y1="742" x2="330" y2="742" stroke="#222" stroke-width="4.3"/>
<line x1="165" y1="795" x2="165" y2="1008" stroke="#222" stroke-width="3.87"/>
<line x1="293" y1="795" x2="293" y2="1008" stroke="#222" stroke-width="3.87"/>
<line x1="165" y1="1000" x2="293" y2="1000" stroke="#222" stroke-width="4.3"/>
<polygon points="165,1000 180.0,996.8 180.0,1003.2" fill="#222"/>
<polygon points="293,1000 278.0,1003.2 278.0,996.8" fill="#222"/>
<text x="215" y="990" font-size="24.5" text-anchor="middle" fill="#111" stroke="#111" stroke-width="0.7">21</text>
<text x="245" y="982" font-size="13" text-anchor="middle" fill="#111" stroke="#111" stroke-width="0.7">±0.2</text>
<line x1="135" y1="812" x2="135" y2="1052" stroke="#222" stroke-width="3.87"/>
<line x1="318" y1="812" x2="318" y2="1052" stroke="#222" stroke-width="3.87"/>
<line x1="135" y1="1042" x2="318" y2="1042" stroke="#222" stroke-width="4.3"/>
<polygon points="135,1042 150.0,1038.8 150.0,1045.2" fill="#222"/>
<polygon points="318,1042 303.0,1045.2 303.0,1038.8" fill="#222"/>
<text x="226" y="1032" font-size="24.5" text-anchor="middle" fill="#111" stroke="#111" stroke-width="0.7">29.00</text>
<line x1="839" y1="110" x2="839" y2="1030" stroke="#222" stroke-width="4.3"/>
<line x1="612" y1="115" x2="612" y2="150" stroke="#222" stroke-width="4.3"/>
<line x1="612" y1="126" x2="839" y2="126" stroke="#222" stroke-width="4.3"/>
<polygon points="612,126 627.0,122.8 627.0,129.2" fill="#222"/>
<polygon points="839,126 824.0,129.2 824.0,122.8" fill="#222"/>
<text x="726" y="115" font-size="24.5" text-anchor="middle" fill="#111" stroke="#111" stroke-width="0.7">36.30</text>
<line x1="577" y1="195" x2="577" y2="245" stroke="#222" stroke-width="4.3"/>
<line x1="577" y1="208" x2="839" y2="208" stroke="#222" stroke-width="4.3"/>
<polygon points="577,208 592.0,204.8 592.0,211.2" fill="#222"/>
<polygon points="839,208 824.0,211.2 824.0,204.8" fill="#222"/>
<text x="716" y="198" font-size="24.5" text-anchor="middle" fill="#111" stroke="#111" stroke-width="0.7">40.40</text>
<text x="780" y="184" font-size="13" text-anchor="middle" fill="#111" stroke="#111" stroke-width="0.7">+0.1</text>
<text x="768" y="200" font-size="13" text-anchor="middle" fill="#111" stroke="#111" stroke-width="0.7">0</text>
<line x1="768" y1="230" x2="768" y2="426" stroke="#222" stroke-width="4.3"/>
<line x1="686" y1="256" x2="768" y2="256" stroke="#222" stroke-width="4.3"/>
<polygon points="768,256 753.0,259.2 753.0,252.8" fill="#222"/>
<line x1="839" y1="256" x2="921" y2="256" stroke="#222" stroke-width="4.3"/>
<polygon points="839,256 854.0,252.8 854.0,259.2" fill="#222"/>
<text x="806" y="243" font-size="24.5" text-anchor="middle" fill="#111" stroke="#111" stroke-width="0.7">10.20</text>
<path d="M599,940 L599,156 Q599,148 607,148 Q615,148 615,156 L615,940 Z" fill="#fff" stroke="#222" stroke-width="4.3"/>
<line x1="607" y1="395" x2="607" y2="935" stroke="#777" stroke-width="5" stroke-dasharray="10 8"/>
<line x1="512" y1="151" x2="599" y2="151" stroke="#222" stroke-width="4.3"/>
<line x1="512" y1="940" x2="599" y2="940" stroke="#222" stroke-width="4.3"/>
<line x1="525" y1="151" x2="525" y2="940" stroke="#222" stroke-width="4.3"/>
<polygon points="525,151 528.2,166.0 521.8,166.0" fill="#222"/>
<polygon points="525,940 521.8,925.0 528.2,925.0" fill="#222"/>
<text x="511" y="600" font-size="24.5" text-anchor="middle" fill="#111" stroke="#111" stroke-width="0.7" transform="rotate(-90 511 600)">128.00</text>
<polygon points="577,241 640,241 651,275 651,388 577,388" fill="#fff" stroke="#222" stroke-width="4.3"/>
<circle cx="628" cy="347" r="17" fill="none" stroke="#222" stroke-width="4.3"/>
<line x1="561" y1="347" x2="845" y2="347" stroke="#222" stroke-width="3.44"/>
<rect x="652" y="331" width="12" height="33" rx="5" fill="none" stroke="#222" stroke-width="4.3"/>
<polyline points="454,372 613,361" fill="none" stroke="#222" stroke-width="4.3"/>
<polygon points="613,361 598.3,365.2 597.8,358.8" fill="#222"/>
<text x="479" y="362" font-size="24.5" text-anchor="middle" fill="#111" stroke="#111" stroke-width="0.7">M6</text>
<line x1="664" y1="288" x2="910" y2="288" stroke="#222" stroke-width="4.3"/>
<line x1="664" y1="300" x2="839" y2="300" stroke="#222" stroke-width="4.3"/>
<polyline points="664,288 664,377 684,399" fill="none" stroke="#222" stroke-width="4.3"/>
<line x1="684" y1="399" x2="910" y2="399" stroke="#222" stroke-width="4.3"/>
<line x1="684" y1="399" x2="684" y2="760" stroke="#222" stroke-width="4.3"/>
<line x1="711" y1="300" x2="711" y2="565" stroke="#222" stroke-width="4.3"/>
<line x1="684" y1="473" x2="711" y2="473" stroke="#222" stroke-width="4.3"/>
<path d="M719,474 C765,485 800,520 805,565" fill="none" stroke="#222" stroke-width="4.3"/>
<line x1="805" y1="565" x2="805" y2="770" stroke="#222" stroke-width="4.3"/>
<line x1="711" y1="565" x2="839" y2="565" stroke="#222" stroke-width="4.3"/>
<polygon points="711,565 726.0,561.8 726.0,568.2" fill="#222"/>
<polygon points="839,565 824.0,568.2 824.0,561.8" fill="#222"/>
<text x="771" y="552" font-size="24.5" text-anchor="middle" fill="#111" stroke="#111" stroke-width="0.7">20.3</text>
<line x1="895" y1="290" x2="895" y2="399" stroke="#222" stroke-width="4.3"/>
<polygon points="895,290 898.2,305.0 891.8,305.0" fill="#222"/>
<polygon points="895,399 891.8,384.0 898.2,384.0" fill="#222"/>
<text x="882" y="345" font-size="24.5" text-anchor="middle" fill="#111" stroke="#111" stroke-width="0.7" transform="rotate(-90 882 345)">17.80</text>
<line x1="895" y1="401" x2="895" y2="805" stroke="#222" stroke-width="4.3"/>
<polygon points="895,401 898.2,416.0 891.8,416.0" fill="#222"/>
<polygon points="895,805 891.8,790.0 898.2,790.0" fill="#222"/>
<text x="882" y="620" font-size="24.5" text-anchor="middle" fill="#111" stroke="#111" stroke-width="0.7" transform="rotate(-90 882 620)">63.90</text>
<line x1="895" y1="807" x2="895" y2="915" stroke="#222" stroke-width="4.3"/>
<polygon points="895,807 898.2,822.0 891.8,822.0" fill="#222"/>
<polygon points="895,915 891.8,900.0 898.2,900.0" fill="#222"/>
<text x="882" y="862" font-size="24.5" text-anchor="middle" fill="#111" stroke="#111" stroke-width="0.7" transform="rotate(-90 882 862)">16.70</text>
<line x1="845" y1="805" x2="910" y2="805" stroke="#222" stroke-width="4.3"/>
<line x1="800" y1="915" x2="910" y2="915" stroke="#222" stroke-width="4.3"/>
<polyline points="684,730 672,730 672,760 805,760" fill="none" stroke="#222" stroke-width="4.3"/>
<polyline points="700,760 700,805 800,805 800,770 805,770" fill="none" stroke="#222" stroke-width="4.3"/>
<path d="M721,807 L710,815 Q702,820 710,826 L721,834 M779,807 L790,815 Q798,820 790,826 L779,834 M721,834 L779,834 M710,815 L790,815 M710,826 L790,826 M721,834 L710,842 Q702,848 710,853 L721,861 M779,834 L790,842 Q798,848 790,853 L779,861 M721,861 L779,861 M710,842 L790,842 M710,853 L790,853 M721,861 L710,869 Q702,874 710,880 L721,888 M779,861 L790,869 Q798,874 790,880 L779,888 M721,888 L779,888 M710,869 L790,869 M710,880 L790,880 " fill="none" stroke="#222" stroke-width="3.87"/>
<path d="M721,888 L711,894 L711,907 Q711,915 724,915 L776,915 Q789,915 789,907 L789,894 L779,888" fill="none" stroke="#222" stroke-width="4.3"/>
<line x1="805" y1="915" x2="805" y2="950" stroke="#222" stroke-width="4.3"/>
<line x1="805" y1="945" x2="839" y2="945" stroke="#222" stroke-width="4.3"/>
<polygon points="805,945 820.0,941.8 820.0,948.2" fill="#222"/>
<polygon points="839,945 824.0,948.2 824.0,941.8" fill="#222"/>
<text x="815" y="938" font-size="24.5" text-anchor="start" fill="#111" stroke="#111" stroke-width="0.7">7.4</text>
<line x1="768" y1="915" x2="768" y2="985" stroke="#222" stroke-width="4.3"/>
<line x1="768" y1="980" x2="839" y2="980" stroke="#222" stroke-width="4.3"/>
<polygon points="768,980 783.0,976.8 783.0,983.2" fill="#222"/>
<polygon points="839,980 824.0,983.2 824.0,976.8" fill="#222"/>
<text x="795" y="978" font-size="24.5" text-anchor="middle" fill="#111" stroke="#111" stroke-width="0.7">15.20</text>
<line x1="740" y1="980" x2="880" y2="980" stroke="#222" stroke-width="4.3"/>
<line x1="670" y1="805" x2="670" y2="1030" stroke="#222" stroke-width="4.3"/>
<line x1="670" y1="1022" x2="839" y2="1022" stroke="#222" stroke-width="4.3"/>
<polygon points="670,1022 685.0,1018.8 685.0,1025.2" fill="#222"/>
<polygon points="839,1022 824.0,1025.2 824.0,1018.8" fill="#222"/>
<text x="770" y="1012" font-size="24.5" text-anchor="middle" fill="#111" stroke="#111" stroke-width="0.7">26.90</text>
<line x1="839" y1="945" x2="880" y2="945" stroke="#222" stroke-width="4.3"/>
</svg>
<svg width="1000" height="1343" style="left:0;top:0" viewBox="0 0 1000 1343">
<polygon points="86.2,415.0 91.2,411.2 110.0,420.0 130.0,412.5 140.0,417.5 120.0,440.0 110.0,450.0 86.2,435.0" fill="#62a8dd" />
<polygon points="86.2,415.0 90.5,413.0 92.0,432.5 110.0,450.0 86.2,435.0" fill="#4f96cf" />
<polygon points="102.1,435.3 110.5,426.4 118.2,424.5 128.6,412.3 134.5,408.0 139.8,409.6 202.6,465.9 204.8,474.5 214.2,482.0 212.3,486.8 197.1,506.6 181.6,519.1 102.7,453.7" fill="#62a8dd" />
<polygon points="102.1,435.3 108.3,430.3 111.1,442.2 113.2,448.4 128.8,465.5 174.7,505.5 181.7,508.8 197.1,506.6 181.6,519.1 102.7,453.7" fill="#4f96cf" />
<polygon points="110.5,431.0 117.9,431.8 112.9,441.9 115.6,450.2 122.1,459.3 172.9,503.6 174.5,504.8 128.6,464.1 112.9,446.3" fill="#80bee9" />
<circle cx="110.6" cy="434.6" r="1.6" fill="#1c2a3a"/>
<circle cx="134.9" cy="412.8" r="1.6" fill="#1c2a3a"/>
<circle cx="181.1" cy="505.3" r="1.6" fill="#1c2a3a"/>
<path d="M111.3,441.0 Q111.1,440.3 111.7,439.5 L117.0,432.8 Q117.6,432.0 117.3,431.0 L114.5,423.3 Q114.1,422.4 115.3,421.1 L124.6,410.6 Q125.7,409.3 126.0,409.6 L128.4,412.0 Q128.6,412.3 128.9,412.7 L131.4,415.6 Q131.7,415.9 132.0,416.1 L134.9,417.8 Q135.3,418.0 136.0,417.4 L141.7,413.1 Q142.4,412.6 142.8,412.0 L145.5,407.4 Q145.9,406.8 146.4,406.8 L150.4,406.8 Q150.9,406.8 156.5,412.0 L201.4,453.7 Q207.0,459.0 207.0,459.5 L206.9,463.5 Q206.9,464.0 206.7,465.0 L204.9,473.2 Q204.7,474.2 203.4,475.8 L193.2,489.0 Q191.9,490.6 190.7,491.5 L181.1,498.9 Q179.9,499.8 179.1,500.4 L172.8,504.8 Q172.0,505.4 167.0,500.9 L126.7,465.3 Q121.7,460.8 120.8,459.5 L113.8,448.8 Q112.9,447.4 112.7,446.7 Z" fill="#161618" />
<path d="M122.3,438.7 Q119.0,435.5 120.9,433.8 L148.5,409.5 Q150.4,407.9 153.7,410.9 L202.5,455.7 Q205.8,458.7 203.9,460.6 L175.5,487.7 Q173.5,489.5 170.2,486.3 Z" fill="#27272a" />
<path d="M181.9,484.9 Q181.8,481.3 185.0,478.6 L191.4,473.3 Q194.6,470.7 196.5,471.3 L200.3,472.5 Q202.3,473.1 204.2,475.2 L208.1,479.3 Q210.0,481.3 206.1,486.5 L198.3,496.7 Q194.3,501.8 192.4,501.7 L188.6,501.6 Q186.6,501.5 185.5,500.1 L183.4,497.2 Q182.3,495.7 182.2,492.1 Z" fill="#131315" />
<path d="M194.2,491.3 Q191.3,486.4 193.5,484.2 L197.9,479.9 Q200.1,477.8 205.5,481.7 L216.5,489.4 Q221.9,493.3 223.2,494.7 L225.9,497.5 Q227.2,499.0 227.1,501.2 L227.1,505.5 Q227.0,507.7 225.3,509.0 L221.7,511.7 Q219.9,513.1 217.9,512.7 L213.8,511.9 Q211.7,511.5 209.5,510.2 L205.1,507.6 Q203.0,506.3 200.0,501.3 Z" fill="#0e0e10" />
<ellipse cx="196.7" cy="484.4" rx="10.6" ry="4.3" fill="#111113" transform="rotate(-46.7 196.7 484.4)"/>
<ellipse cx="197.2" cy="483.0" rx="8.5" ry="1.3" fill="#343437" transform="rotate(-46.7 197.2 483.0)"/>
<ellipse cx="202.5" cy="490.9" rx="12.0" ry="4.6" fill="#111113" transform="rotate(-46.7 202.5 490.9)"/>
<ellipse cx="203.0" cy="489.5" rx="9.6" ry="1.4" fill="#343437" transform="rotate(-46.7 203.0 489.5)"/>
<ellipse cx="208.3" cy="495.5" rx="11.7" ry="4.6" fill="#111113" transform="rotate(-46.7 208.3 495.5)"/>
<ellipse cx="208.8" cy="494.1" rx="9.4" ry="1.4" fill="#343437" transform="rotate(-46.7 208.8 494.1)"/>
<ellipse cx="214.6" cy="501.3" rx="12.3" ry="5.7" fill="#111113" transform="rotate(-46.7 214.6 501.3)"/>
<ellipse cx="215.2" cy="499.9" rx="9.8" ry="1.7" fill="#343437" transform="rotate(-46.7 215.2 499.9)"/>
<ellipse cx="219.0" cy="505.6" rx="10.7" ry="8.2" fill="#1d1d20" transform="rotate(-46.7 219.0 505.6)"/>
<ellipse cx="219.6" cy="506.3" rx="6.1" ry="4.6" fill="#050506" transform="rotate(-46.7 219.0 505.6)"/>
<path d="M132.9,448.1 Q130.9,446.4 132.6,445.1 L157.1,426.4 Q158.8,425.1 160.8,426.5 L190.5,447.5 Q192.5,448.9 190.8,450.4 L165.9,473.3 Q164.2,474.9 162.2,473.2 Z" fill="#222225" stroke="#0a0a0b" stroke-width="0.64"/>
<g transform="matrix(0.7942 -0.6077 0.7596 0.6504 130.94 446.40)">
<text x="5.3" y="5.7" font-size="4.82" fill="#2a66d0" textLength="26.3" lengthAdjust="spacingAndGlyphs" font-weight="bold">CHNANMA</text>
<text x="4.2" y="11.4" font-size="6.13" fill="#f4f4f4" textLength="25.9" lengthAdjust="spacingAndGlyphs" font-weight="bold" font-style="italic">NM-8108</text>
<text x="2.1" y="16.0" font-size="5.04" fill="#f0f0f0" textLength="31.2" lengthAdjust="spacingAndGlyphs" font-weight="bold">LIMIT SWITCH</text>
<line x1="0.0" y1="17.7" x2="35.1" y2="17.7" stroke="#d8d8d8" stroke-width="0.53"/>
<text x="1.8" y="21.2" font-size="3.59" fill="#e4e4e4" textLength="19.3" lengthAdjust="spacingAndGlyphs" font-weight="bold">Ui:380V Ith:10A</text>
<text x="23.1" y="21.2" font-size="3.59" fill="#e4e4e4" textLength="10.9" lengthAdjust="spacingAndGlyphs" font-weight="bold">IP65</text>
<text x="1.8" y="24.7" font-size="3.59" fill="#e4e4e4" textLength="19.3" lengthAdjust="spacingAndGlyphs" font-weight="bold">AC-15 Ue:250V</text>
<text x="23.1" y="24.7" font-size="3.59" fill="#e4e4e4" textLength="10.9" lengthAdjust="spacingAndGlyphs" font-weight="bold">Ie:1.5A</text>
<text x="1.8" y="28.2" font-size="3.59" fill="#e4e4e4" textLength="19.3" lengthAdjust="spacingAndGlyphs" font-weight="bold">DC-13 Ue:220V</text>
<text x="23.1" y="28.2" font-size="3.59" fill="#e4e4e4" textLength="10.9" lengthAdjust="spacingAndGlyphs" font-weight="bold">Ie:0.3A</text>
<text x="1.8" y="31.7" font-size="3.59" fill="#e4e4e4" textLength="14.7" lengthAdjust="spacingAndGlyphs" font-weight="bold">NO(13,14)NO</text>
<text x="18.6" y="31.7" font-size="3.59" fill="#e4e4e4" textLength="15.4" lengthAdjust="spacingAndGlyphs" font-weight="bold">GB14048.5</text>
<text x="1.8" y="35.2" font-size="3.59" fill="#e4e4e4" textLength="14.7" lengthAdjust="spacingAndGlyphs" font-weight="bold">NC(11,12)NC</text>
<line x1="0.0" y1="38.3" x2="35.1" y2="38.3" stroke="#d8d8d8" stroke-width="0.53"/>
</g>
<circle cx="123.1" cy="418.7" r="4.7" fill="#c4c4c6" stroke="#3a3a3a" stroke-width="0.5"/>
<circle cx="122.5" cy="418.0" r="2.9" fill="#ededee"/>
<path d="M120.5,419.6 L125.7,417.7 M122.2,416.1 L124.0,421.3" stroke="#4a4a4a" stroke-width="1.1" fill="none"/>
<circle cx="198.7" cy="457.3" r="4.7" fill="#c4c4c6" stroke="#3a3a3a" stroke-width="0.5"/>
<circle cx="198.0" cy="456.6" r="2.9" fill="#ededee"/>
<path d="M196.1,458.3 L201.3,456.4 M197.7,454.7 L199.6,459.9" stroke="#4a4a4a" stroke-width="1.1" fill="none"/>
<circle cx="173.8" cy="480.7" r="4.7" fill="#c4c4c6" stroke="#3a3a3a" stroke-width="0.5"/>
<circle cx="173.1" cy="479.9" r="2.9" fill="#ededee"/>
<path d="M171.2,481.6 L176.4,479.7 M172.8,478.1 L174.7,483.2" stroke="#4a4a4a" stroke-width="1.1" fill="none"/>
<polygon points="57.8,346.0 65.5,345.0 105.0,373.0 83.8,388.0 48.0,360.5 50.0,352.5" fill="#d2d2d4" />
<polygon points="48.0,360.5 50.0,358.0 85.0,385.0 83.8,388.0" fill="#9c9ca0" />
<path d="M69.4,365.4 Q61.5,359.0 63.0,358.4 L66.0,357.1 Q67.5,356.5 75.5,362.4 L91.5,374.1 Q99.5,380.0 97.9,381.1 L94.6,383.4 Q93.0,384.5 85.1,378.1 Z" fill="#fff" />
<polygon points="78.8,385.0 85.8,385.8 102.5,375.2 102.5,371.8 106.8,370.5 128.5,388.5 127.8,396.2 120.0,407.5 110.0,416.2 102.5,420.8 81.5,401.2" fill="#62a8dd" />
<polygon points="78.8,385.0 85.8,385.8 106.8,405.5 104.0,405.5 102.5,420.8 81.5,401.2" fill="#6aaee0" />
<polygon points="102.5,371.8 106.8,370.5 128.5,388.5 127.8,392.8 126.5,392.8 102.5,375.2" fill="#80bee9" />
<polygon points="106.8,405.5 126.5,392.8 127.8,396.2 120.0,407.5 110.0,416.2 102.5,420.8 104.0,405.5" fill="#4f96cf" />
<polygon points="85.8,385.8 104.0,374.5 126.5,392.8 106.8,405.5" fill="#dededf" />
<circle cx="96.8" cy="382.5" r="4.0" fill="#9a9a9e" />
<circle cx="96.2" cy="380.2" r="4.8" fill="#e8e8ea" stroke="#777" stroke-width="0.6"/>
<circle cx="96.2" cy="379.8" r="2.0" fill="#8a8a8e" />
<circle cx="109.5" cy="392.8" r="6.0" fill="#5a9fd5" />
<circle cx="109.8" cy="393.2" r="3.8" fill="#2a2a2c" />
<circle cx="110.2" cy="393.8" r="1.8" fill="#c9a86a" />
<polygon points="102.0,420.2 110.0,416.0 120.0,407.0 123.0,410.0 111.2,423.0 103.8,424.5" fill="#62a8dd" />
<path d="M108.7,403.6 Q108.2,402.5 110.1,401.3 L118.9,395.5 Q120.8,394.2 124.1,396.4 L139.9,406.1 Q143.2,408.2 143.4,409.2 L144.3,413.6 Q144.5,414.5 142.0,415.9 L130.5,422.4 Q128.0,423.8 127.5,423.2 L125.5,420.6 Q125.0,420.0 122.9,418.4 L113.1,411.1 Q111.0,409.5 110.6,408.4 Z" fill="#d4d4d6" />
<polygon points="125.0,420.0 128.0,423.8 144.5,414.5 143.2,411.2 126.5,420.8" fill="#9c9ca0" />
<path d="M117.3,405.9 Q115.2,404.0 117.0,402.9 L120.5,400.8 Q122.2,399.8 124.7,401.3 L129.6,404.4 Q132.0,406.0 129.9,407.4 L125.6,410.3 Q123.5,411.8 121.4,409.8 Z" fill="#7fb6e2" />
<polygon points="123.5,406.0 127.5,403.5 132.0,406.5 128.0,409.0" fill="#fff" />
<ellipse cx="46.5" cy="346.5" rx="13.0" ry="12.0" fill="#0f0f11" transform="rotate(0 46.5 346.5)" />
<ellipse cx="43.0" cy="339.5" rx="14.8" ry="13.2" fill="#141416" transform="rotate(0 43.0 339.5)" />
<ellipse cx="42.8" cy="338.5" rx="11.0" ry="9.0" fill="#232326" transform="rotate(0 42.8 338.5)" />
<ellipse cx="42.5" cy="334.2" rx="7.0" ry="5.0" fill="#e2dfdc" transform="rotate(0 42.5 334.2)" stroke="#777" stroke-width="0.5"/>
<ellipse cx="41.8" cy="333.5" rx="4.8" ry="3.2" fill="#f4f2ee" transform="rotate(0 41.8 333.5)" />
</svg>
<svg x="0" y="0" width="220" height="240" style="left:260px;top:312px" viewBox="0 0 1000 1091">
<rect x="155" y="508" width="170" height="360" rx="6" fill="none" stroke="#222" stroke-width="4.3"/>
<polyline points="204,508 204,552 155,552" fill="none" stroke="#222" stroke-width="4.3"/>
<polyline points="276,508 276,552 325,552" fill="none" stroke="#222" stroke-width="4.3"/>
<circle cx="180" cy="530" r="13" fill="none" stroke="#222" stroke-width="4.3"/>
<circle cx="300" cy="530" r="13" fill="none" stroke="#222" stroke-width="4.3"/>
<circle cx="240" cy="530" r="15" fill="none" stroke="#222" stroke-width="4.3"/>
<circle cx="240" cy="530" r="8" fill="none" stroke="#222" stroke-width="3.44"/>
<line x1="229" y1="530" x2="251" y2="530" stroke="#222" stroke-width="3.87"/>
<line x1="240" y1="519" x2="240" y2="541" stroke="#222" stroke-width="3.87"/>
<rect x="175" y="630" width="130" height="150" rx="9" fill="none" stroke="#222" stroke-width="4.3"/>
<circle cx="180" cy="805" r="14" fill="none" stroke="#222" stroke-width="4.3"/>
<line x1="169" y1="805" x2="190" y2="805" stroke="#222" stroke-width="3.87"/>
<line x1="180" y1="794" x2="180" y2="816" stroke="#222" stroke-width="3.87"/>
<circle cx="180" cy="805" r="7" fill="none" stroke="#222" stroke-width="3.01"/>
<circle cx="180" cy="845" r="13" fill="none" stroke="#222" stroke-width="4.3"/>
<circle cx="300" cy="805" r="14" fill="none" stroke="#222" stroke-width="4.3"/>
<line x1="290" y1="805" x2="311" y2="805" stroke="#222" stroke-width="3.87"/>
<line x1="300" y1="794" x2="300" y2="816" stroke="#222" stroke-width="3.87"/>
<circle cx="300" cy="805" r="7" fill="none" stroke="#222" stroke-width="3.01"/>
<circle cx="300" cy="845" r="13" fill="none" stroke="#222" stroke-width="4.3"/>
<line x1="155" y1="825" x2="325" y2="825" stroke="#222" stroke-width="4.3"/>
<line x1="194" y1="825" x2="194" y2="868" stroke="#222" stroke-width="4.3"/>
<line x1="286" y1="825" x2="286" y2="868" stroke="#222" stroke-width="4.3"/>
<path d="M212,870 L200,876 Q194,880 200,884 L212,890 M268,870 L280,876 Q286,880 280,884 L268,890 M212,890 L268,890 M200,876 L280,876 M200,884 L280,884 M212,890 L200,896 Q194,900 200,904 L212,910 M268,890 L280,896 Q286,900 280,904 L268,910 M212,910 L268,910 M200,896 L280,896 M200,904 L280,904 M212,910 L200,916 Q194,920 200,924 L212,930 M268,910 L280,916 Q286,920 280,924 L268,930 M212,930 L268,930 M200,916 L280,916 M200,924 L280,924 " fill="none" stroke="#222" stroke-width="3.87"/>
<path d="M212,930 L202,934 L202,944 Q202,950 214,950 L266,950 Q278,950 278,944 L278,934 L268,930" fill="none" stroke="#222" stroke-width="4.3"/>
<path d="M190,500 L190,740 Q190,752 202,752 L276,752 Q288,752 288,740 L288,500" fill="#fff" stroke="#222" stroke-width="4.3"/>
<path d="M215,500 L215,708 Q215,720 227,720 L250,720 Q262,720 262,708 L262,500" fill="none" stroke="#222" stroke-width="4.3"/>
<line x1="202" y1="500" x2="202" y2="672" stroke="#333" stroke-width="22" stroke-dasharray="4 5"/>
<line x1="275" y1="500" x2="275" y2="672" stroke="#333" stroke-width="22" stroke-dasharray="4 5"/>
<rect x="180" y="368" width="120" height="132" rx="3" fill="#fff" stroke="#222" stroke-width="4.3"/>
<line x1="192" y1="368" x2="192" y2="500" stroke="#222" stroke-width="4.3"/>
<line x1="288" y1="368" x2="288" y2="500" stroke="#222" stroke-width="4.3"/>
<line x1="174" y1="420" x2="174" y2="500" stroke="#222" stroke-width="4.3"/>
<line x1="306" y1="395" x2="306" y2="500" stroke="#222" stroke-width="4.3"/>
<circle cx="240" cy="430" r="13" fill="none" stroke="#222" stroke-width="4.3"/>
<circle cx="240" cy="462" r="15" fill="none" stroke="#222" stroke-width="4.3"/>
<circle cx="240" cy="240" r="52" fill="none" stroke="#222" stroke-width="4.3"/>
<circle cx="240" cy="240" r="22" fill="none" stroke="#222" stroke-width="4.3"/>
<path d="M201,275 Q192,320 190,368" fill="none" stroke="#222" stroke-width="4.3"/>
<path d="M279,275 Q288,320 290,368" fill="none" stroke="#222" stroke-width="4.3"/>
<line x1="240" y1="215" x2="240" y2="545" stroke="#222" stroke-width="3.44"/>
<path d="M55,322 A222,222 0 0 1 327,256" fill="none" stroke="#222" stroke-width="4.3"/>
<line x1="62" y1="328" x2="240" y2="462" stroke="#222" stroke-width="4.3"/>
<polygon points="62,328 75.9,334.5 72.1,339.6" fill="#222"/>
<text x="140" y="372" font-size="20" text-anchor="middle" fill="#111" stroke="#111" stroke-width="0.7" transform="rotate(38 140 372)">25-89</text>
<line x1="188" y1="150" x2="188" y2="245" stroke="#222" stroke-width="4.3"/>
<line x1="292" y1="150" x2="292" y2="245" stroke="#222" stroke-width="4.3"/>
<line x1="188" y1="165" x2="292" y2="165" stroke="#222" stroke-width="4.3"/>
<polygon points="188,165 203.0,161.8 203.0,168.2" fill="#222"/>
<polygon points="292,165 277.0,168.2 277.0,161.8" fill="#222"/>
<text x="242" y="140" font-size="24.5" text-anchor="middle" fill="#111" stroke="#111" stroke-width="0.7">ø 18 x 6.2</text>
<polyline points="440,285 392,285 250,420" fill="none" stroke="#222" stroke-width="4.3"/>
<text x="420" y="275" font-size="21" text-anchor="middle" fill="#111" stroke="#111" stroke-width="0.7">M4</text>
<polyline points="522,445 438,445 316,524" fill="none" stroke="#222" stroke-width="4.3"/>
<polygon points="316,524 326.9,513.2 330.3,518.5" fill="#222"/>
<text x="480" y="436" font-size="24.5" text-anchor="middle" fill="#111" stroke="#111" stroke-width="0.7">2 x M5</text>
<line x1="258" y1="462" x2="430" y2="462" stroke="#222" stroke-width="4.3"/>
<line x1="322" y1="528" x2="430" y2="528" stroke="#222" stroke-width="4.3"/>
<line x1="418" y1="462" x2="418" y2="528" stroke="#222" stroke-width="4.3"/>
<polygon points="418,462 421.2,477.0 414.8,477.0" fill="#222"/>
<polygon points="418,528 414.8,513.0 421.2,513.0" fill="#222"/>
<text x="412" y="496" font-size="19" text-anchor="middle" fill="#111" stroke="#111" stroke-width="0.7" transform="rotate(-90 412 496)">12.50</text>
<line x1="418" y1="530" x2="418" y2="845" stroke="#222" stroke-width="4.3"/>
<polygon points="418,530 421.2,545.0 414.8,545.0" fill="#222"/>
<polygon points="418,845 414.8,830.0 421.2,830.0" fill="#222"/>
<text x="404" y="680" font-size="24.5" text-anchor="middle" fill="#111" stroke="#111" stroke-width="0.7" transform="rotate(-90 404 680)">56.00</text>
<line x1="322" y1="845" x2="430" y2="845" stroke="#222" stroke-width="4.3"/>
<polyline points="320,805 455,805" fill="none" stroke="#222" stroke-width="4.3"/>
<polygon points="320,805 333.0,802.0 333.0,808.0" fill="#222"/>
<text x="487" y="813" font-size="24.5" text-anchor="middle" fill="#111" stroke="#111" stroke-width="0.7">3-M3</text>
<polyline points="316,852 405,910 462,910" fill="none" stroke="#222" stroke-width="4.3"/>
<polygon points="316,852 328.5,856.6 325.3,861.6" fill="#222"/>
<text x="492" y="915" font-size="24.5" text-anchor="middle" fill="#111" stroke="#111" stroke-width="0.7">2-M5</text>
<line x1="178" y1="860" x2="178" y2="1008" stroke="#222" stroke-width="3.87"/>
<line x1="303" y1="860" x2="303" y2="1008" stroke="#222" stroke-width="3.87"/>
<line x1="178" y1="1000" x2="303" y2="1000" stroke="#222" stroke-width="4.3"/>
<polygon points="178,1000 193.0,996.8 193.0,1003.2" fill="#222"/>
<polygon points="303,1000 288.0,1003.2 288.0,996.8" fill="#222"/>
<text x="225" y="990" font-size="24.5" text-anchor="middle" fill="#111" stroke="#111" stroke-width="0.7">21</text>
<text x="255" y="982" font-size="13" text-anchor="middle" fill="#111" stroke="#111" stroke-width="0.7">±0.2</text>
<line x1="158" y1="872" x2="158" y2="1045" stroke="#222" stroke-width="3.87"/>
<line x1="325" y1="872" x2="325" y2="1045" stroke="#222" stroke-width="3.87"/>
<line x1="158" y1="1035" x2="325" y2="1035" stroke="#222" stroke-width="4.3"/>
<polygon points="158,1035 173.0,1031.8 173.0,1038.2" fill="#222"/>
<polygon points="325,1035 310.0,1038.2 310.0,1031.8" fill="#222"/>
<text x="242" y="1025" font-size="24.5" text-anchor="middle" fill="#111" stroke="#111" stroke-width="0.7">29.00</text>
<line x1="828" y1="38" x2="828" y2="1072" stroke="#222" stroke-width="4.3"/>
<line x1="540" y1="38" x2="540" y2="270" stroke="#222" stroke-width="4.3"/>
<line x1="540" y1="50" x2="828" y2="50" stroke="#222" stroke-width="4.3"/>
<polygon points="540,50 555.0,46.8 555.0,53.2" fill="#222"/>
<polygon points="828,50 813.0,53.2 813.0,46.8" fill="#222"/>
<text x="690" y="40" font-size="24.5" text-anchor="middle" fill="#111" stroke="#111" stroke-width="0.7">47.90</text>
<line x1="570" y1="75" x2="570" y2="195" stroke="#222" stroke-width="4.3"/>
<line x1="570" y1="88" x2="828" y2="88" stroke="#222" stroke-width="4.3"/>
<polygon points="570,88 585.0,84.8 585.0,91.2" fill="#222"/>
<polygon points="828,88 813.0,91.2 813.0,84.8" fill="#222"/>
<text x="705" y="78" font-size="24.5" text-anchor="middle" fill="#111" stroke="#111" stroke-width="0.7">42.90 ± 0.80</text>
<line x1="613" y1="112" x2="613" y2="195" stroke="#222" stroke-width="4.3"/>
<line x1="613" y1="125" x2="828" y2="125" stroke="#222" stroke-width="4.3"/>
<polygon points="613,125 628.0,121.8 628.0,128.2" fill="#222"/>
<polygon points="828,125 813.0,128.2 813.0,121.8" fill="#222"/>
<text x="722" y="115" font-size="24.5" text-anchor="middle" fill="#111" stroke="#111" stroke-width="0.7">33.50 ± 0.80</text>
<line x1="645" y1="148" x2="645" y2="270" stroke="#222" stroke-width="4.3"/>
<line x1="645" y1="160" x2="828" y2="160" stroke="#222" stroke-width="4.3"/>
<polygon points="645,160 660.0,156.8 660.0,163.2" fill="#222"/>
<polygon points="828,160 813.0,163.2 813.0,156.8" fill="#222"/>
<text x="737" y="150" font-size="24.5" text-anchor="middle" fill="#111" stroke="#111" stroke-width="0.7">28.50 ± 0.80</text>
<rect x="548" y="192" width="42" height="98" rx="8" fill="none" stroke="#222" stroke-width="4.3"/>
<rect x="598" y="192" width="42" height="98" rx="8" fill="none" stroke="#222" stroke-width="4.3"/>
<line x1="590" y1="200" x2="598" y2="200" stroke="#222" stroke-width="4.3"/>
<line x1="590" y1="282" x2="598" y2="282" stroke="#222" stroke-width="4.3"/>
<rect x="540" y="215" width="8" height="50" rx="0" fill="none" stroke="#222" stroke-width="4.3"/>
<rect x="640" y="215" width="8" height="50" rx="0" fill="none" stroke="#222" stroke-width="4.3"/>
<line x1="520" y1="240" x2="560" y2="240" stroke="#222" stroke-width="3.44"/>
<line x1="594" y1="180" x2="594" y2="300" stroke="#222" stroke-width="3.44" stroke-dasharray="12 6"/>
<rect x="590" y="290" width="10" height="455" rx="2" fill="#fff" stroke="#222" stroke-width="4.3"/>
<polygon points="583,368 640,368 655,385 655,498 583,498" fill="#fff" stroke="#222" stroke-width="4.3"/>
<circle cx="628" cy="460" r="14" fill="none" stroke="#222" stroke-width="4.3"/>
<line x1="565" y1="460" x2="835" y2="460" stroke="#222" stroke-width="3.44"/>
<line x1="660" y1="400" x2="890" y2="400" stroke="#222" stroke-width="4.3"/>
<line x1="660" y1="412" x2="828" y2="412" stroke="#222" stroke-width="4.3"/>
<polyline points="660,400 660,485 683,508" fill="none" stroke="#222" stroke-width="4.3"/>
<line x1="683" y1="508" x2="890" y2="508" stroke="#222" stroke-width="4.3"/>
<line x1="683" y1="508" x2="683" y2="810" stroke="#222" stroke-width="4.3"/>
<line x1="712" y1="412" x2="712" y2="660" stroke="#222" stroke-width="4.3"/>
<line x1="683" y1="560" x2="712" y2="560" stroke="#222" stroke-width="4.3"/>
<path d="M712,562 C765,572 800,610 800,660" fill="none" stroke="#222" stroke-width="4.3"/>
<line x1="800" y1="660" x2="800" y2="820" stroke="#222" stroke-width="4.3"/>
<line x1="712" y1="660" x2="828" y2="660" stroke="#222" stroke-width="4.3"/>
<polygon points="712,660 727.0,656.8 727.0,663.2" fill="#222"/>
<polygon points="828,660 813.0,663.2 813.0,656.8" fill="#222"/>
<text x="757" y="650" font-size="24.5" text-anchor="middle" fill="#111" stroke="#111" stroke-width="0.7">20.3</text>
<line x1="765" y1="352" x2="765" y2="520" stroke="#222" stroke-width="4.3"/>
<line x1="690" y1="375" x2="765" y2="375" stroke="#222" stroke-width="4.3"/>
<polygon points="765,375 750.0,378.2 750.0,371.8" fill="#222"/>
<line x1="828" y1="375" x2="895" y2="375" stroke="#222" stroke-width="4.3"/>
<polygon points="828,375 843.0,371.8 843.0,378.2" fill="#222"/>
<text x="725" y="368" font-size="24.5" text-anchor="middle" fill="#111" stroke="#111" stroke-width="0.7">10.20</text>
<line x1="882" y1="402" x2="882" y2="508" stroke="#222" stroke-width="4.3"/>
<polygon points="882,402 885.2,417.0 878.8,417.0" fill="#222"/>
<polygon points="882,508 878.8,493.0 885.2,493.0" fill="#222"/>
<text x="868" y="458" font-size="24.5" text-anchor="middle" fill="#111" stroke="#111" stroke-width="0.7" transform="rotate(-90 868 458)">17.80</text>
<line x1="882" y1="510" x2="882" y2="858" stroke="#222" stroke-width="4.3"/>
<polygon points="882,510 885.2,525.0 878.8,525.0" fill="#222"/>
<polygon points="882,858 878.8,843.0 885.2,843.0" fill="#222"/>
<text x="868" y="692" font-size="24.5" text-anchor="middle" fill="#111" stroke="#111" stroke-width="0.7" transform="rotate(-90 868 692)">63.90</text>
<line x1="882" y1="860" x2="882" y2="945" stroke="#222" stroke-width="4.3"/>
<polygon points="882,860 885.2,875.0 878.8,875.0" fill="#222"/>
<polygon points="882,945 878.8,930.0 885.2,930.0" fill="#222"/>
<text x="868" y="905" font-size="24.5" text-anchor="middle" fill="#111" stroke="#111" stroke-width="0.7" transform="rotate(-90 868 905)">16.70</text>
<line x1="835" y1="858" x2="895" y2="858" stroke="#222" stroke-width="4.3"/>
<line x1="795" y1="945" x2="895" y2="945" stroke="#222" stroke-width="4.3"/>
<polyline points="683,785 672,785 672,812 800,812" fill="none" stroke="#222" stroke-width="4.3"/>
<polyline points="698,812 698,858 795,858 795,820 800,820" fill="none" stroke="#222" stroke-width="4.3"/>
<path d="M718,860 L707,866 Q699,871 707,876 L718,882 M776,860 L787,866 Q795,871 787,876 L776,882 M718,882 L776,882 M707,867 L787,867 M707,876 L787,876 M718,882 L707,889 Q699,894 707,899 L718,905 M776,882 L787,889 Q795,894 787,899 L776,905 M718,905 L776,905 M707,889 L787,889 M707,898 L787,898 M718,905 L707,911 Q699,916 707,921 L718,928 M776,905 L787,911 Q795,916 787,921 L776,928 M718,928 L776,928 M707,912 L787,912 M707,921 L787,921 " fill="none" stroke="#222" stroke-width="3.87"/>
<path d="M718,928 L708,932 L708,943 Q708,950 721,950 L773,950 Q786,950 786,943 L786,932 L776,928" fill="none" stroke="#222" stroke-width="4.3"/>
<line x1="800" y1="950" x2="800" y2="980" stroke="#222" stroke-width="4.3"/>
<line x1="800" y1="972" x2="828" y2="972" stroke="#222" stroke-width="4.3"/>
<polygon points="800,972 815.0,968.8 815.0,975.2" fill="#222"/>
<polygon points="828,972 813.0,975.2 813.0,968.8" fill="#222"/>
<text x="862" y="978" font-size="24.5" text-anchor="middle" fill="#111" stroke="#111" stroke-width="0.7">7.40</text>
<line x1="765" y1="950" x2="765" y2="1022" stroke="#222" stroke-width="4.3"/>
<line x1="765" y1="1015" x2="828" y2="1015" stroke="#222" stroke-width="4.3"/>
<polygon points="765,1015 780.0,1011.8 780.0,1018.2" fill="#222"/>
<polygon points="828,1015 813.0,1018.2 813.0,1011.8" fill="#222"/>
<text x="797" y="1012" font-size="24.5" text-anchor="middle" fill="#111" stroke="#111" stroke-width="0.7">15.20</text>
<line x1="670" y1="860" x2="670" y2="1072" stroke="#222" stroke-width="4.3"/>
<line x1="670" y1="1062" x2="828" y2="1062" stroke="#222" stroke-width="4.3"/>
<polygon points="670,1062 685.0,1058.8 685.0,1065.2" fill="#222"/>
<polygon points="828,1062 813.0,1065.2 813.0,1058.8" fill="#222"/>
<text x="745" y="1055" font-size="24.5" text-anchor="middle" fill="#111" stroke="#111" stroke-width="0.7">26.90</text>
</svg>
<svg width="1000" height="1343" style="left:0;top:0" viewBox="0 0 1000 1343">
<polygon points="582.4,368.6 596.0,358.0 607.0,357.0 624.0,342.4 633.0,337.6 640.0,341.0 715.0,432.0 716.2,444.4 727.6,456.8 724.0,463.0 698.8,487.2 674.8,501.2 579.4,394.2" fill="#62a8dd" />
<polygon points="582.4,368.6 592.0,363.0 593.4,380.0 595.0,389.0 613.0,416.0 668.0,481.0 677.0,487.0 698.8,487.2 674.8,501.2 579.4,394.2" fill="#4f96cf" />
<polygon points="595.0,364.4 605.0,367.0 596.0,380.0 598.0,392.0 605.0,406.0 666.0,478.0 668.0,480.0 613.0,414.0 595.0,386.0" fill="#80bee9" />
<circle cx="594.4" cy="369.4" r="2.2" fill="#1c2a3a"/>
<circle cx="632.6" cy="344.4" r="2.2" fill="#1c2a3a"/>
<circle cx="677.0" cy="482.0" r="2.2" fill="#1c2a3a"/>
<path d="M567.5,337.0 Q567.0,334.0 568.5,331.5 L570.5,328.1 Q572.0,325.6 575.9,325.2 L581.1,324.8 Q585.0,324.4 589.5,325.8 L595.5,327.6 Q600.0,329.0 603.9,332.0 L609.1,336.0 Q613.0,339.0 615.7,340.0 L619.3,341.4 Q622.0,342.4 616.3,346.0 L608.7,350.8 Q603.0,354.4 601.5,355.4 L599.5,356.6 Q598.0,357.6 593.5,360.8 L587.5,365.2 Q583.0,368.4 581.8,367.8 L580.2,367.0 Q579.0,366.4 577.1,363.3 L574.5,359.1 Q572.6,356.0 571.4,352.4 L569.8,347.6 Q568.6,344.0 568.1,341.0 Z" fill="#161618" />
<path d="M593.9,378.4 Q593.8,377.4 594.9,376.4 L603.5,368.2 Q604.6,367.2 604.3,365.8 L602.1,354.6 Q601.8,353.2 603.7,351.6 L618.7,339.2 Q620.6,337.6 620.9,338.1 L623.7,341.9 Q624.0,342.4 624.3,343.0 L627.1,347.4 Q627.4,348.0 627.9,348.4 L631.5,351.2 Q632.0,351.6 633.1,351.0 L641.9,346.2 Q643.0,345.6 643.6,344.9 L648.4,339.1 Q649.0,338.4 649.7,338.5 L655.3,339.3 Q656.0,339.4 662.7,347.8 L715.9,415.0 Q722.6,423.4 722.5,424.1 L721.5,429.7 Q721.4,430.4 720.9,431.8 L716.7,442.6 Q716.2,444.0 714.1,446.0 L697.1,462.0 Q695.0,464.0 693.1,465.0 L678.3,473.2 Q676.4,474.2 675.2,474.8 L665.6,479.6 Q664.4,480.2 658.4,473.0 L610.2,415.2 Q604.2,408.0 603.3,406.0 L595.7,389.6 Q594.8,387.6 594.7,386.6 Z" fill="#161618" />
<path d="M609.6,377.6 Q605.8,372.4 608.8,370.5 L652.0,342.7 Q655.0,340.8 659.0,345.7 L717.0,417.9 Q721.0,422.8 717.9,424.9 L672.9,456.5 Q669.8,458.6 666.0,453.4 Z" fill="#27272a" />
<path d="M682.4,454.0 Q683.0,449.0 688.0,446.0 L698.0,440.0 Q703.0,437.0 705.5,438.2 L710.5,440.7 Q713.0,442.0 715.2,445.2 L719.7,451.7 Q722.0,455.0 715.5,461.2 L702.5,473.7 Q696.0,480.0 693.3,479.5 L688.0,478.5 Q685.4,478.0 684.2,475.7 L681.8,471.2 Q680.6,469.0 681.2,464.0 Z" fill="#131315" />
<path d="M698.0,465.5 Q695.0,458.0 698.5,455.5 L705.5,450.5 Q709.0,448.0 715.7,454.5 L729.2,467.5 Q736.0,474.0 737.5,476.2 L740.5,480.7 Q742.0,483.0 741.5,486.0 L740.5,492.0 Q740.0,495.0 737.2,496.5 L731.7,499.5 Q729.0,501.0 726.2,500.0 L720.7,498.0 Q718.0,497.0 715.2,494.7 L709.7,490.2 Q707.0,488.0 704.0,480.5 Z" fill="#0e0e10" />
<ellipse cx="703.0" cy="456.4" rx="14.8" ry="6.0" fill="#111113" transform="rotate(-38.0 703.0 456.4)"/>
<ellipse cx="704.0" cy="454.6" rx="11.8" ry="1.8" fill="#343437" transform="rotate(-38.0 704.0 454.6)"/>
<ellipse cx="709.6" cy="466.6" rx="16.8" ry="6.4" fill="#111113" transform="rotate(-38.0 709.6 466.6)"/>
<ellipse cx="710.6" cy="464.8" rx="13.4" ry="1.9" fill="#343437" transform="rotate(-38.0 710.6 464.8)"/>
<ellipse cx="716.6" cy="474.2" rx="16.4" ry="6.4" fill="#111113" transform="rotate(-38.0 716.6 474.2)"/>
<ellipse cx="717.6" cy="472.4" rx="13.1" ry="1.9" fill="#343437" transform="rotate(-38.0 717.6 472.4)"/>
<ellipse cx="724.2" cy="483.6" rx="17.2" ry="8.0" fill="#111113" transform="rotate(-38.0 724.2 483.6)"/>
<ellipse cx="725.2" cy="481.8" rx="13.8" ry="2.4" fill="#343437" transform="rotate(-38.0 725.2 481.8)"/>
<ellipse cx="729.4" cy="490.4" rx="15.0" ry="11.5" fill="#1d1d20" transform="rotate(-38.0 729.4 490.4)"/>
<ellipse cx="730.2" cy="491.4" rx="8.6" ry="6.4" fill="#050506" transform="rotate(-38.0 729.4 490.4)"/>
<path d="M622.4,392.8 Q620.0,390.0 622.6,388.6 L660.4,367.8 Q663.0,366.4 665.5,368.8 L702.1,404.0 Q704.6,406.4 701.9,408.2 L662.7,434.6 Q660.0,436.4 657.6,433.6 Z" fill="#222225" stroke="#0a0a0b" stroke-width="0.90"/>
<g transform="matrix(0.8766 -0.4811 0.6529 0.7574 620.00 390.00)">
<text x="7.4" y="8.0" font-size="6.74" fill="#2a66d0" textLength="36.8" lengthAdjust="spacingAndGlyphs" font-weight="bold">CHNANMA</text>
<text x="5.9" y="15.9" font-size="8.58" fill="#f4f4f4" textLength="36.3" lengthAdjust="spacingAndGlyphs" font-weight="bold" font-style="italic">NM-8111</text>
<text x="2.9" y="22.4" font-size="7.05" fill="#f0f0f0" textLength="43.7" lengthAdjust="spacingAndGlyphs" font-weight="bold">LIMIT SWITCH</text>
<line x1="0.0" y1="24.8" x2="49.1" y2="24.8" stroke="#d8d8d8" stroke-width="0.74"/>
<text x="2.5" y="29.7" font-size="5.02" fill="#e4e4e4" textLength="27.0" lengthAdjust="spacingAndGlyphs" font-weight="bold">Ui:380V Ith:10A</text>
<text x="32.4" y="29.7" font-size="5.02" fill="#e4e4e4" textLength="15.2" lengthAdjust="spacingAndGlyphs" font-weight="bold">IP65</text>
<text x="2.5" y="34.6" font-size="5.02" fill="#e4e4e4" textLength="27.0" lengthAdjust="spacingAndGlyphs" font-weight="bold">AC-15 Ue:250V</text>
<text x="32.4" y="34.6" font-size="5.02" fill="#e4e4e4" textLength="15.2" lengthAdjust="spacingAndGlyphs" font-weight="bold">Ie:1.5A</text>
<text x="2.5" y="39.5" font-size="5.02" fill="#e4e4e4" textLength="27.0" lengthAdjust="spacingAndGlyphs" font-weight="bold">DC-13 Ue:220V</text>
<text x="32.4" y="39.5" font-size="5.02" fill="#e4e4e4" textLength="15.2" lengthAdjust="spacingAndGlyphs" font-weight="bold">Ie:0.3A</text>
<text x="2.5" y="44.4" font-size="5.02" fill="#e4e4e4" textLength="20.6" lengthAdjust="spacingAndGlyphs" font-weight="bold">NO(13,14)NO</text>
<text x="26.0" y="44.4" font-size="5.02" fill="#e4e4e4" textLength="21.6" lengthAdjust="spacingAndGlyphs" font-weight="bold">GB14048.5</text>
<text x="2.5" y="49.3" font-size="5.02" fill="#e4e4e4" textLength="20.6" lengthAdjust="spacingAndGlyphs" font-weight="bold">NC(11,12)NC</text>
<line x1="0.0" y1="53.6" x2="49.1" y2="53.6" stroke="#d8d8d8" stroke-width="0.74"/>
</g>
<circle cx="615.0" cy="350.0" r="6.6" fill="#c4c4c6" stroke="#3a3a3a" stroke-width="0.7"/>
<circle cx="614.1" cy="349.0" r="4.1" fill="#ededee"/>
<path d="M611.4,351.3 L618.6,348.7 M613.7,346.4 L616.3,353.6" stroke="#4a4a4a" stroke-width="1.5" fill="none"/>
<circle cx="711.4" cy="419.4" r="6.6" fill="#c4c4c6" stroke="#3a3a3a" stroke-width="0.7"/>
<circle cx="710.5" cy="418.4" r="4.1" fill="#ededee"/>
<path d="M707.8,420.7 L715.0,418.1 M710.1,415.8 L712.7,423.0" stroke="#4a4a4a" stroke-width="1.5" fill="none"/>
<circle cx="672.0" cy="446.4" r="6.6" fill="#c4c4c6" stroke="#3a3a3a" stroke-width="0.7"/>
<circle cx="671.1" cy="445.4" r="4.1" fill="#ededee"/>
<path d="M668.4,447.7 L675.6,445.1 M670.7,442.8 L673.3,450.0" stroke="#4a4a4a" stroke-width="1.5" fill="none"/>
<ellipse cx="568.8" cy="333.2" rx="5.5" ry="6.5" fill="#d4d2d0" transform="rotate(-40 568.8 333.2)" stroke="#777" stroke-width="0.5"/>
</svg>
<svg x="0" y="0" width="220" height="240" style="left:770px;top:312px" viewBox="0 0 1000 1091">
<rect x="145" y="295" width="238" height="515" rx="6" fill="none" stroke="#222" stroke-width="4.3"/>
<polyline points="214,295 214,361 145,361" fill="none" stroke="#222" stroke-width="4.3"/>
<polyline points="314,295 314,361 383,361" fill="none" stroke="#222" stroke-width="4.3"/>
<circle cx="180" cy="328" r="15" fill="none" stroke="#222" stroke-width="4.3"/>
<circle cx="348" cy="328" r="15" fill="none" stroke="#222" stroke-width="4.3"/>
<circle cx="264" cy="328" r="21" fill="none" stroke="#222" stroke-width="4.3"/>
<circle cx="264" cy="328" r="11" fill="none" stroke="#222" stroke-width="3.44"/>
<line x1="248" y1="328" x2="280" y2="328" stroke="#222" stroke-width="3.87"/>
<line x1="264" y1="312" x2="264" y2="344" stroke="#222" stroke-width="3.87"/>
<rect x="165" y="470" width="190" height="210" rx="9" fill="none" stroke="#222" stroke-width="4.3"/>
<circle cx="180" cy="722" r="20" fill="none" stroke="#222" stroke-width="4.3"/>
<line x1="165" y1="722" x2="195" y2="722" stroke="#222" stroke-width="3.87"/>
<line x1="180" y1="707" x2="180" y2="737" stroke="#222" stroke-width="3.87"/>
<circle cx="180" cy="722" r="10" fill="none" stroke="#222" stroke-width="3.01"/>
<circle cx="180" cy="778" r="15" fill="none" stroke="#222" stroke-width="4.3"/>
<circle cx="348" cy="722" r="20" fill="none" stroke="#222" stroke-width="4.3"/>
<line x1="333" y1="722" x2="363" y2="722" stroke="#222" stroke-width="3.87"/>
<line x1="348" y1="707" x2="348" y2="737" stroke="#222" stroke-width="3.87"/>
<circle cx="348" cy="722" r="10" fill="none" stroke="#222" stroke-width="3.01"/>
<circle cx="348" cy="778" r="15" fill="none" stroke="#222" stroke-width="4.3"/>
<line x1="145" y1="752" x2="383" y2="752" stroke="#222" stroke-width="4.3"/>
<line x1="200" y1="752" x2="200" y2="810" stroke="#222" stroke-width="4.3"/>
<line x1="328" y1="752" x2="328" y2="810" stroke="#222" stroke-width="4.3"/>
<path d="M223,812 L206,821 Q196,828 206,835 L223,844 M305,812 L322,821 Q332,828 322,835 L305,844 M223,844 L305,844 M206,822 L322,822 M206,834 L322,834 M223,844 L206,853 Q196,860 206,867 L223,876 M305,844 L322,853 Q332,860 322,867 L305,876 M223,876 L305,876 M206,854 L322,854 M206,866 L322,866 M223,876 L206,885 Q196,892 206,899 L223,908 M305,876 L322,885 Q332,892 322,899 L305,908 M223,908 L305,908 M206,886 L322,886 M206,898 L322,898 " fill="none" stroke="#222" stroke-width="3.87"/>
<path d="M223,908 L209,915 L209,930 Q209,940 226,940 L302,940 Q319,940 319,930 L319,915 L305,908" fill="none" stroke="#222" stroke-width="4.3"/>
<path d="M232,150 L232,126 Q232,118 240,118 L290,118 Q298,118 298,126 L298,150" fill="none" stroke="#222" stroke-width="4.3"/>
<rect x="204" y="150" width="122" height="21" rx="9.450000000000001" fill="none" stroke="#222" stroke-width="4.3"/>
<rect x="204" y="171" width="122" height="21" rx="9.450000000000001" fill="none" stroke="#222" stroke-width="4.3"/>
<polyline points="213,192 190,262 340,262 317,192" fill="none" stroke="#222" stroke-width="4.3"/>
<line x1="213" y1="192" x2="317" y2="192" stroke="#222" stroke-width="4.3"/>
<rect x="184" y="262" width="162" height="33" rx="3" fill="none" stroke="#222" stroke-width="4.3"/>
<line x1="265" y1="95" x2="265" y2="360" stroke="#222" stroke-width="3.44" stroke-dasharray="40 8 8 8"/>
<text x="268" y="40" font-size="24.5" text-anchor="middle" fill="#111" stroke="#111" stroke-width="0.7">ø 8</text>
<line x1="232" y1="48" x2="298" y2="48" stroke="#222" stroke-width="4.3"/>
<polygon points="232,48 247.0,44.8 247.0,51.2" fill="#222"/>
<polygon points="298,48 283.0,51.2 283.0,44.8" fill="#222"/>
<line x1="232" y1="30" x2="232" y2="125" stroke="#222" stroke-width="4.3"/>
<line x1="298" y1="30" x2="298" y2="125" stroke="#222" stroke-width="4.3"/>
<polyline points="280,105 330,65 440,65" fill="none" stroke="#222" stroke-width="4.3"/>
<line x1="298" y1="118" x2="470" y2="118" stroke="#222" stroke-width="4.3"/>
<line x1="298" y1="150" x2="425" y2="150" stroke="#222" stroke-width="4.3"/>
<line x1="408" y1="65" x2="408" y2="215" stroke="#222" stroke-width="4.3"/>
<polygon points="408,118 404.8,103.0 411.2,103.0" fill="#222"/>
<polygon points="408,150 411.2,165.0 404.8,165.0" fill="#222"/>
<text x="400" y="188" font-size="20" text-anchor="middle" fill="#111" stroke="#111" stroke-width="0.7" transform="rotate(-90 400 188)">3</text>
<line x1="452" y1="118" x2="452" y2="328" stroke="#222" stroke-width="4.3"/>
<polygon points="452,118 455.2,133.0 448.8,133.0" fill="#222"/>
<polygon points="452,328 448.8,313.0 455.2,313.0" fill="#222"/>
<text x="438" y="195" font-size="24.5" text-anchor="middle" fill="#111" stroke="#111" stroke-width="0.7" transform="rotate(-90 438 195)">26.50</text>
<line x1="365" y1="328" x2="470" y2="328" stroke="#222" stroke-width="4.3"/>
<polyline points="360,318 400,275 485,275" fill="none" stroke="#222" stroke-width="4.3"/>
<polygon points="360,318 366.7,306.4 371.1,310.5" fill="#222"/>
<text x="445" y="266" font-size="24.5" text-anchor="middle" fill="#111" stroke="#111" stroke-width="0.7">2 x M5</text>
<line x1="452" y1="328" x2="452" y2="778" stroke="#222" stroke-width="4.3"/>
<polygon points="452,328 455.2,343.0 448.8,343.0" fill="#222"/>
<polygon points="452,778 448.8,763.0 455.2,763.0" fill="#222"/>
<text x="436" y="548" font-size="24.5" text-anchor="middle" fill="#111" stroke="#111" stroke-width="0.7" transform="rotate(-90 436 548)">56.00</text>
<line x1="365" y1="778" x2="470" y2="778" stroke="#222" stroke-width="4.3"/>
<polyline points="366,738 415,808 475,808" fill="none" stroke="#222" stroke-width="4.3"/>
<polygon points="366,738 375.9,746.9 371.0,750.4" fill="#222"/>
<text x="447" y="805" font-size="24.5" text-anchor="middle" fill="#111" stroke="#111" stroke-width="0.7">3-M3</text>
<polyline points="362,790 410,872 475,872" fill="none" stroke="#222" stroke-width="4.3"/>
<polygon points="362,790 371.2,799.7 366.0,802.7" fill="#222"/>
<text x="446" y="868" font-size="24.5" text-anchor="middle" fill="#111" stroke="#111" stroke-width="0.7">2-M5</text>
<line x1="178" y1="795" x2="178" y2="1000" stroke="#222" stroke-width="3.87"/>
<line x1="350" y1="795" x2="350" y2="1000" stroke="#222" stroke-width="3.87"/>
<line x1="178" y1="990" x2="350" y2="990" stroke="#222" stroke-width="4.3"/>
<polygon points="178,990 193.0,986.8 193.0,993.2" fill="#222"/>
<polygon points="350,990 335.0,993.2 335.0,986.8" fill="#222"/>
<text x="264" y="978" font-size="24.5" text-anchor="middle" fill="#111" stroke="#111" stroke-width="0.7">21 ± 0.2</text>
<line x1="145" y1="815" x2="145" y2="1048" stroke="#222" stroke-width="3.87"/>
<line x1="383" y1="815" x2="383" y2="1048" stroke="#222" stroke-width="3.87"/>
<line x1="145" y1="1036" x2="383" y2="1036" stroke="#222" stroke-width="4.3"/>
<polygon points="145,1036 160.0,1032.8 160.0,1039.2" fill="#222"/>
<polygon points="383,1036 368.0,1039.2 368.0,1032.8" fill="#222"/>
<text x="264" y="1025" font-size="24.5" text-anchor="middle" fill="#111" stroke="#111" stroke-width="0.7">29.00</text>
<polyline points="755,298 561,298 555,304 555,750 696,750 696,519" fill="none" stroke="#222" stroke-width="4.3"/>
<line x1="555" y1="391" x2="593" y2="391" stroke="#222" stroke-width="4.3"/>
<line x1="593" y1="298" x2="593" y2="592" stroke="#222" stroke-width="4.3"/>
<path d="M593,391 C649,404 696,455 696,519" fill="none" stroke="#222" stroke-width="4.3"/>
<path d="M555,307 L544,307 Q540,307 540,316 L540,352 Q540,359 555,359" fill="none" stroke="#222" stroke-width="4.3"/>
<path d="M555,700 L544,700 Q540,700 540,709 L540,745 L555,745" fill="none" stroke="#222" stroke-width="4.3"/>
<polyline points="573,750 573,810 694,810 694,750" fill="none" stroke="#222" stroke-width="4.3"/>
<path d="M596,812 L581,821 Q572,828 581,835 L596,844 M671,812 L686,821 Q695,828 686,835 L671,844 M596,844 L671,844 M581,822 L686,822 M581,834 L686,834 M596,844 L581,853 Q572,860 581,867 L596,876 M671,844 L686,853 Q695,860 686,867 L671,876 M596,876 L671,876 M581,854 L686,854 M581,866 L686,866 M596,876 L581,885 Q572,892 581,899 L596,908 M671,876 L686,885 Q695,892 686,899 L671,908 M596,908 L671,908 M581,886 L686,886 M581,898 L686,898 " fill="none" stroke="#222" stroke-width="3.87"/>
<path d="M596,908 L584,915 L584,930 Q584,940 599,940 L668,940 Q683,940 683,930 L683,915 L671,908" fill="none" stroke="#222" stroke-width="4.3"/>
<line x1="755" y1="75" x2="755" y2="1072" stroke="#222" stroke-width="4.3"/>
<polyline points="755,298 765,298 765,330" fill="none" stroke="#222" stroke-width="3.44"/>
<path d="M643,150 L643,126 Q643,118 651,118 L695,118 Q703,118 703,126 L703,150" fill="none" stroke="#222" stroke-width="4.3"/>
<rect x="616" y="150" width="114" height="22" rx="10.125" fill="none" stroke="#222" stroke-width="4.3"/>
<rect x="616" y="172" width="114" height="22" rx="10.125" fill="none" stroke="#222" stroke-width="4.3"/>
<polyline points="621,195 598,262 748,262 725,195" fill="none" stroke="#222" stroke-width="4.3"/>
<line x1="621" y1="195" x2="725" y2="195" stroke="#222" stroke-width="4.3"/>
<rect x="598" y="262" width="150" height="36" rx="3" fill="none" stroke="#222" stroke-width="4.3"/>
<line x1="673" y1="70" x2="673" y2="330" stroke="#222" stroke-width="3.44" stroke-dasharray="40 8 8 8"/>
<line x1="618" y1="88" x2="673" y2="88" stroke="#222" stroke-width="4.3"/>
<line x1="755" y1="88" x2="810" y2="88" stroke="#222" stroke-width="4.3"/>
<polygon points="673,88 658.5,91.2 658.5,84.8" fill="#222"/>
<polygon points="755,88 770.0,84.8 770.0,91.2" fill="#222"/>
<text x="715" y="78" font-size="24.5" text-anchor="middle" fill="#111" stroke="#111" stroke-width="0.7">10.20</text>
<line x1="510" y1="328" x2="600" y2="328" stroke="#222" stroke-width="3.44" stroke-dasharray="50 10"/>
<line x1="715" y1="328" x2="770" y2="328" stroke="#222" stroke-width="3.44" stroke-dasharray="50 10"/>
<line x1="593" y1="585" x2="755" y2="585" stroke="#222" stroke-width="4.3"/>
<polygon points="593,585 607.8,581.8 607.8,588.2" fill="#222"/>
<polygon points="755,585 740.0,588.2 740.0,581.8" fill="#222"/>
<text x="680" y="575" font-size="24.5" text-anchor="middle" fill="#111" stroke="#111" stroke-width="0.7">20.3</text>
<line x1="755" y1="298" x2="835" y2="298" stroke="#222" stroke-width="4.3"/>
<line x1="690" y1="800" x2="835" y2="800" stroke="#222" stroke-width="4.3"/>
<line x1="690" y1="940" x2="835" y2="940" stroke="#222" stroke-width="4.3"/>
<line x1="690" y1="775" x2="765" y2="775" stroke="#222" stroke-width="4.3"/>
<line x1="820" y1="298" x2="820" y2="800" stroke="#222" stroke-width="4.3"/>
<polygon points="820,298 823.2,313.0 816.8,313.0" fill="#222"/>
<polygon points="820,800 816.8,785.0 823.2,785.0" fill="#222"/>
<text x="805" y="575" font-size="24.5" text-anchor="middle" fill="#111" stroke="#111" stroke-width="0.7" transform="rotate(-90 805 575)">63.90</text>
<line x1="820" y1="800" x2="820" y2="940" stroke="#222" stroke-width="4.3"/>
<polygon points="820,800 823.2,815.0 816.8,815.0" fill="#222"/>
<polygon points="820,940 816.8,925.0 823.2,925.0" fill="#222"/>
<text x="805" y="880" font-size="24.5" text-anchor="middle" fill="#111" stroke="#111" stroke-width="0.7" transform="rotate(-90 805 880)">16.70</text>
<line x1="696" y1="940" x2="696" y2="995" stroke="#222" stroke-width="4.3"/>
<line x1="696" y1="985" x2="755" y2="985" stroke="#222" stroke-width="4.3"/>
<polygon points="696,985 710.9,981.8 710.9,988.2" fill="#222"/>
<polygon points="755,985 740.0,988.2 740.0,981.8" fill="#222"/>
<text x="722" y="975" font-size="24.5" text-anchor="middle" fill="#111" stroke="#111" stroke-width="0.7">7.40</text>
<line x1="634" y1="745" x2="634" y2="1045" stroke="#222" stroke-width="3.44"/>
<line x1="634" y1="1035" x2="755" y2="1035" stroke="#222" stroke-width="4.3"/>
<polygon points="634,1035 648.5,1031.8 648.5,1038.2" fill="#222"/>
<polygon points="755,1035 740.0,1038.2 740.0,1031.8" fill="#222"/>
<text x="682" y="1025" font-size="24.5" text-anchor="middle" fill="#111" stroke="#111" stroke-width="0.7">15.20</text>
<line x1="540" y1="760" x2="540" y2="1072" stroke="#222" stroke-width="4.3"/>
<line x1="540" y1="1066" x2="755" y2="1066" stroke="#222" stroke-width="4.3"/>
<polygon points="540,1066 555.0,1062.8 555.0,1069.2" fill="#222"/>
<polygon points="755,1066 740.0,1069.2 740.0,1062.8" fill="#222"/>
<text x="655" y="1060" font-size="24.5" text-anchor="middle" fill="#111" stroke="#111" stroke-width="0.7">26.90</text>
</svg>
<svg width="1000" height="1343" style="left:0;top:0" viewBox="0 0 1000 1343">
<polygon points="68.9,662.9 79.4,653.6 88.3,652.4 101.2,639.7 108.2,635.4 114.1,637.9 180.3,709.9 182.0,720.0 192.0,729.8 189.5,735.0 170.4,755.9 151.7,768.4 68.0,684.1" fill="#62a8dd" />
<polygon points="68.9,662.9 76.4,657.9 78.5,671.8 80.4,679.2 96.6,700.7 145.0,752.0 152.7,756.6 170.4,755.9 151.7,768.4 68.0,684.1" fill="#4f96cf" />
<polygon points="78.9,659.0 87.2,660.7 80.7,671.7 83.0,681.5 89.5,692.8 143.2,749.6 145.0,751.2 96.4,699.1 80.2,676.7" fill="#80bee9" />
<circle cx="78.7" cy="663.1" r="1.8" fill="#1c2a3a"/>
<circle cx="108.3" cy="641.0" r="1.8" fill="#1c2a3a"/>
<circle cx="152.4" cy="752.5" r="1.8" fill="#1c2a3a"/>
<path d="M60.9,640.5 Q59.8,636.2 60.9,634.6 L62.4,632.4 Q63.5,630.8 67.2,629.7 L72.2,628.3 Q76.0,627.2 79.2,628.3 L83.5,629.7 Q86.8,630.8 88.4,632.9 L90.6,635.8 Q92.2,638.0 95.0,639.0 L98.5,640.5 Q101.2,641.5 98.0,644.4 L93.7,648.1 Q90.5,651.0 89.9,653.9 L89.1,657.6 Q88.5,660.5 85.6,660.4 L81.7,660.1 Q78.8,660.0 75.8,659.6 L71.8,659.1 Q68.8,658.8 67.2,656.3 L65.1,653.0 Q63.5,650.5 62.4,646.2 Z" fill="#161618" />
<ellipse cx="75.0" cy="634.5" rx="8.5" ry="3.0" fill="#2e2e31" transform="rotate(28 75.0 634.5)" />
<path d="M78.9,670.5 Q78.7,669.7 79.5,668.8 L86.1,661.8 Q86.9,660.9 86.6,659.7 L84.1,650.6 Q83.8,649.5 85.2,648.1 L96.7,637.3 Q98.2,635.9 98.5,636.3 L100.9,639.3 Q101.2,639.7 101.5,640.2 L104.0,643.7 Q104.3,644.2 104.7,644.5 L107.9,646.7 Q108.3,647.0 109.1,646.4 L116.0,642.1 Q116.8,641.6 117.3,641.0 L120.8,636.1 Q121.3,635.4 121.9,635.5 L126.5,635.9 Q127.0,636.0 132.9,642.6 L180.1,695.8 Q186.0,702.5 186.0,703.1 L185.5,707.7 Q185.4,708.3 185.1,709.4 L182.4,718.5 Q182.0,719.7 180.4,721.4 L167.6,735.2 Q166.0,737.0 164.5,737.9 L152.9,745.2 Q151.4,746.1 150.5,746.6 L143.0,751.0 Q142.0,751.5 136.7,745.8 L94.3,700.2 Q88.9,694.5 88.1,692.8 L81.0,679.7 Q80.1,678.0 80.0,677.2 Z" fill="#161618" />
<path d="M91.6,669.2 Q88.2,665.1 90.5,663.4 L124.0,638.9 Q126.3,637.2 129.8,641.1 L181.2,698.2 Q184.7,702.1 182.3,703.9 L147.5,731.6 Q145.2,733.5 141.8,729.4 Z" fill="#27272a" />
<path d="M155.1,729.2 Q155.3,725.1 159.2,722.4 L167.0,717.1 Q170.9,714.4 173.0,715.4 L177.2,717.2 Q179.3,718.2 181.3,720.7 L185.3,725.9 Q187.4,728.5 182.5,733.9 L172.6,744.7 Q167.7,750.1 165.5,749.8 L161.2,749.2 Q159.0,748.9 157.9,747.1 L155.7,743.5 Q154.6,741.6 154.7,737.5 Z" fill="#131315" />
<path d="M168.5,738.1 Q165.6,732.0 168.3,729.8 L173.7,725.5 Q176.4,723.3 182.3,728.3 L194.0,738.5 Q199.8,743.6 201.2,745.4 L203.9,749.0 Q205.2,750.8 205.0,753.2 L204.5,758.2 Q204.3,760.7 202.2,762.1 L197.9,764.7 Q195.7,766.1 193.4,765.4 L188.9,763.9 Q186.6,763.2 184.2,761.5 L179.5,758.0 Q177.1,756.2 174.2,750.2 Z" fill="#0e0e10" />
<ellipse cx="172.0" cy="730.4" rx="12.1" ry="4.9" fill="#111113" transform="rotate(-41.4 172.0 730.4)"/>
<ellipse cx="172.7" cy="728.9" rx="9.7" ry="1.5" fill="#343437" transform="rotate(-41.4 172.7 728.9)"/>
<ellipse cx="178.0" cy="738.5" rx="13.8" ry="5.2" fill="#111113" transform="rotate(-41.4 178.0 738.5)"/>
<ellipse cx="178.7" cy="737.0" rx="11.0" ry="1.6" fill="#343437" transform="rotate(-41.4 178.7 737.0)"/>
<ellipse cx="184.1" cy="744.5" rx="13.4" ry="5.2" fill="#111113" transform="rotate(-41.4 184.1 744.5)"/>
<ellipse cx="184.8" cy="743.0" rx="10.7" ry="1.6" fill="#343437" transform="rotate(-41.4 184.8 743.0)"/>
<ellipse cx="190.8" cy="751.9" rx="14.1" ry="6.6" fill="#111113" transform="rotate(-41.4 190.8 751.9)"/>
<ellipse cx="191.5" cy="750.4" rx="11.3" ry="2.0" fill="#343437" transform="rotate(-41.4 191.5 750.4)"/>
<ellipse cx="195.4" cy="757.3" rx="12.3" ry="9.4" fill="#1d1d20" transform="rotate(-41.4 195.4 757.3)"/>
<ellipse cx="196.1" cy="758.2" rx="7.0" ry="5.2" fill="#050506" transform="rotate(-41.4 195.4 757.3)"/>
<path d="M102.8,681.2 Q100.7,679.0 102.7,677.8 L132.3,659.2 Q134.3,657.9 136.5,659.8 L168.2,687.3 Q170.4,689.2 168.3,690.8 L138.0,714.1 Q135.9,715.6 133.8,713.4 Z" fill="#222225" stroke="#0a0a0b" stroke-width="0.74"/>
<g transform="matrix(0.8465 -0.5324 0.6930 0.7209 100.74 679.03)">
<text x="5.9" y="6.6" font-size="5.59" fill="#2a66d0" textLength="29.7" lengthAdjust="spacingAndGlyphs" font-weight="bold">CHNANMA</text>
<text x="4.8" y="13.2" font-size="7.11" fill="#f4f4f4" textLength="29.3" lengthAdjust="spacingAndGlyphs" font-weight="bold" font-style="italic">NM-8112</text>
<text x="2.4" y="18.5" font-size="5.84" fill="#f0f0f0" textLength="35.3" lengthAdjust="spacingAndGlyphs" font-weight="bold">LIMIT SWITCH</text>
<line x1="0.0" y1="20.6" x2="39.6" y2="20.6" stroke="#d8d8d8" stroke-width="0.61"/>
<text x="2.0" y="24.6" font-size="4.16" fill="#e4e4e4" textLength="21.8" lengthAdjust="spacingAndGlyphs" font-weight="bold">Ui:380V Ith:10A</text>
<text x="26.2" y="24.6" font-size="4.16" fill="#e4e4e4" textLength="12.3" lengthAdjust="spacingAndGlyphs" font-weight="bold">IP65</text>
<text x="2.0" y="28.7" font-size="4.16" fill="#e4e4e4" textLength="21.8" lengthAdjust="spacingAndGlyphs" font-weight="bold">AC-15 Ue:250V</text>
<text x="26.2" y="28.7" font-size="4.16" fill="#e4e4e4" textLength="12.3" lengthAdjust="spacingAndGlyphs" font-weight="bold">Ie:1.5A</text>
<text x="2.0" y="32.7" font-size="4.16" fill="#e4e4e4" textLength="21.8" lengthAdjust="spacingAndGlyphs" font-weight="bold">DC-13 Ue:220V</text>
<text x="26.2" y="32.7" font-size="4.16" fill="#e4e4e4" textLength="12.3" lengthAdjust="spacingAndGlyphs" font-weight="bold">Ie:0.3A</text>
<text x="2.0" y="36.8" font-size="4.16" fill="#e4e4e4" textLength="16.6" lengthAdjust="spacingAndGlyphs" font-weight="bold">NO(13,14)NO</text>
<text x="21.0" y="36.8" font-size="4.16" fill="#e4e4e4" textLength="17.4" lengthAdjust="spacingAndGlyphs" font-weight="bold">GB14048.5</text>
<text x="2.0" y="40.9" font-size="4.16" fill="#e4e4e4" textLength="16.6" lengthAdjust="spacingAndGlyphs" font-weight="bold">NC(11,12)NC</text>
<line x1="0.0" y1="44.4" x2="39.6" y2="44.4" stroke="#d8d8d8" stroke-width="0.61"/>
</g>
<circle cx="94.3" cy="646.3" r="5.4" fill="#c4c4c6" stroke="#3a3a3a" stroke-width="0.6"/>
<circle cx="93.6" cy="645.5" r="3.4" fill="#ededee"/>
<path d="M91.4,647.4 L97.3,645.2 M93.3,643.3 L95.4,649.3" stroke="#4a4a4a" stroke-width="1.2" fill="none"/>
<circle cx="176.7" cy="699.6" r="5.4" fill="#c4c4c6" stroke="#3a3a3a" stroke-width="0.6"/>
<circle cx="175.9" cy="698.8" r="3.4" fill="#ededee"/>
<path d="M173.7,700.7 L179.7,698.6 M175.6,696.7 L177.8,702.6" stroke="#4a4a4a" stroke-width="1.2" fill="none"/>
<circle cx="146.3" cy="723.4" r="5.4" fill="#c4c4c6" stroke="#3a3a3a" stroke-width="0.6"/>
<circle cx="145.5" cy="722.6" r="3.4" fill="#ededee"/>
<path d="M143.3,724.5 L149.2,722.3 M145.2,720.4 L147.3,726.4" stroke="#4a4a4a" stroke-width="1.2" fill="none"/>
<ellipse cx="48.8" cy="627.5" rx="11.0" ry="12.0" fill="#b9b9bd" transform="rotate(-30 48.8 627.5)" stroke="#777" stroke-width="0.5"/>
<ellipse cx="47.0" cy="628.5" rx="7.5" ry="9.0" fill="#8f8f94" transform="rotate(-30 47.0 628.5)" />
<path d="M47.0,626.6 Q44.5,623.2 46.0,621.8 L49.0,618.9 Q50.5,617.5 52.9,618.1 L57.6,619.4 Q60.0,620.0 61.9,623.6 L65.6,630.9 Q67.5,634.5 65.6,635.9 L61.9,638.6 Q60.0,640.0 58.6,639.1 L55.9,637.4 Q54.5,636.5 52.0,633.2 Z" fill="#e4e4e6" />
<polygon points="54.5,636.5 60.0,640.0 67.5,634.5 65.5,631.0 59.0,635.5" fill="#9a9a9e" />
<ellipse cx="52.0" cy="621.5" rx="2.0" ry="1.5" fill="#55555a" transform="rotate(-30 52.0 621.5)" />
</svg>
<svg x="0" y="0" width="220" height="240" style="left:260px;top:572px" viewBox="0 0 1000 1091">
<rect x="130" y="398" width="205" height="440" rx="6" fill="none" stroke="#222" stroke-width="4.3"/>
<polyline points="189,398 189,458 130,458" fill="none" stroke="#222" stroke-width="4.3"/>
<polyline points="276,398 276,458 335,458" fill="none" stroke="#222" stroke-width="4.3"/>
<circle cx="160" cy="428" r="14" fill="none" stroke="#222" stroke-width="4.3"/>
<circle cx="305" cy="428" r="14" fill="none" stroke="#222" stroke-width="4.3"/>
<circle cx="232" cy="428" r="19" fill="none" stroke="#222" stroke-width="4.3"/>
<circle cx="232" cy="428" r="10" fill="none" stroke="#222" stroke-width="3.44"/>
<line x1="218" y1="428" x2="247" y2="428" stroke="#222" stroke-width="3.87"/>
<line x1="232" y1="414" x2="232" y2="442" stroke="#222" stroke-width="3.87"/>
<rect x="150" y="545" width="162" height="180" rx="9" fill="none" stroke="#222" stroke-width="4.3"/>
<circle cx="160" cy="768" r="18" fill="none" stroke="#222" stroke-width="4.3"/>
<rect x="150" y="758" width="20" height="20" rx="0" fill="none" stroke="#222" stroke-width="3.44"/>
<circle cx="160" cy="810" r="14" fill="none" stroke="#222" stroke-width="4.3"/>
<circle cx="305" cy="768" r="18" fill="none" stroke="#222" stroke-width="4.3"/>
<rect x="295" y="758" width="20" height="20" rx="0" fill="none" stroke="#222" stroke-width="3.44"/>
<circle cx="305" cy="810" r="14" fill="none" stroke="#222" stroke-width="4.3"/>
<line x1="130" y1="790" x2="335" y2="790" stroke="#222" stroke-width="4.3"/>
<line x1="177" y1="790" x2="177" y2="838" stroke="#222" stroke-width="4.3"/>
<line x1="288" y1="790" x2="288" y2="838" stroke="#222" stroke-width="4.3"/>
<path d="M198,840 L184,848 Q175,854 184,861 L198,869 M267,840 L281,848 Q290,854 281,861 L267,869 M198,869 L267,869 M184,849 L281,849 M184,860 L281,860 M198,869 L184,877 Q175,883 184,889 L198,898 M267,869 L281,877 Q290,883 281,889 L267,898 M198,898 L267,898 M184,877 L281,877 M184,889 L281,889 M198,898 L184,906 Q175,912 184,918 L198,926 M267,898 L281,906 Q290,912 281,918 L267,926 M198,926 L267,926 M184,906 L281,906 M184,918 L281,918 " fill="none" stroke="#222" stroke-width="3.87"/>
<path d="M198,926 L186,933 L186,946 Q186,955 201,955 L264,955 Q279,955 279,946 L279,933 L267,926" fill="none" stroke="#222" stroke-width="4.3"/>
<rect x="183" y="268" width="98" height="16" rx="7.2" fill="none" stroke="#222" stroke-width="4.3"/>
<rect x="183" y="284" width="98" height="16" rx="7.2" fill="none" stroke="#222" stroke-width="4.3"/>
<polyline points="190,300 167,368 297,368 274,300" fill="none" stroke="#222" stroke-width="4.3"/>
<rect x="160" y="368" width="145" height="30" rx="3" fill="none" stroke="#222" stroke-width="4.3"/>
<circle cx="232" cy="212" r="48" fill="none" stroke="#222" stroke-width="4.3"/>
<ellipse cx="232" cy="212" rx="15" ry="20" fill="none" stroke="#222" stroke-width="4.3"/>
<polyline points="202,249 202,268" fill="none" stroke="#222" stroke-width="4.3"/>
<polyline points="262,249 262,268" fill="none" stroke="#222" stroke-width="4.3"/>
<line x1="232" y1="190" x2="232" y2="445" stroke="#222" stroke-width="3.44"/>
<text x="245" y="46" font-size="21" text-anchor="middle" fill="#111" stroke="#111" stroke-width="0.7">360°</text>
<path d="M280,123 A90,34 0 1 0 200,123" fill="none" stroke="#222" stroke-width="4.3"/>
<polygon points="204,124 189.4,124.8 191.4,117.0" fill="#222"/>
<polygon points="256,129 274,115 276,125 290,121 288,133 276,133 274,141" fill="#fff" stroke="#222" stroke-width="3.44"/>
<line x1="250" y1="170" x2="410" y2="170" stroke="#222" stroke-width="4.3"/>
<line x1="320" y1="428" x2="410" y2="428" stroke="#222" stroke-width="4.3"/>
<line x1="320" y1="810" x2="410" y2="810" stroke="#222" stroke-width="4.3"/>
<line x1="392" y1="170" x2="392" y2="428" stroke="#222" stroke-width="4.3"/>
<polygon points="392,170 395.2,185.0 388.8,185.0" fill="#222"/>
<polygon points="392,428 388.8,413.0 395.2,413.0" fill="#222"/>
<text x="378" y="290" font-size="24.5" text-anchor="middle" fill="#111" stroke="#111" stroke-width="0.7" transform="rotate(-90 378 290)">38.00</text>
<line x1="392" y1="430" x2="392" y2="810" stroke="#222" stroke-width="4.3"/>
<polygon points="392,430 395.2,445.0 388.8,445.0" fill="#222"/>
<polygon points="392,810 388.8,795.0 395.2,795.0" fill="#222"/>
<text x="378" y="608" font-size="24.5" text-anchor="middle" fill="#111" stroke="#111" stroke-width="0.7" transform="rotate(-90 378 608)">56.00</text>
<polyline points="312,420 350,378 432,378" fill="none" stroke="#222" stroke-width="4.3"/>
<polygon points="312,420 318.5,408.3 322.9,412.4" fill="#222"/>
<text x="382" y="368" font-size="24.5" text-anchor="middle" fill="#111" stroke="#111" stroke-width="0.7">2 x M5</text>
<polyline points="318,780 355,845 420,845" fill="none" stroke="#222" stroke-width="4.3"/>
<polygon points="318,780 327.0,789.8 321.8,792.8" fill="#222"/>
<text x="388" y="840" font-size="24.5" text-anchor="middle" fill="#111" stroke="#111" stroke-width="0.7">3-M3</text>
<polyline points="318,822 355,895 420,895" fill="none" stroke="#222" stroke-width="4.3"/>
<polygon points="318,822 326.6,832.2 321.2,835.0" fill="#222"/>
<text x="388" y="890" font-size="24.5" text-anchor="middle" fill="#111" stroke="#111" stroke-width="0.7">2-M5</text>
<line x1="160" y1="825" x2="160" y2="1000" stroke="#222" stroke-width="3.87"/>
<line x1="305" y1="825" x2="305" y2="1000" stroke="#222" stroke-width="3.87"/>
<line x1="160" y1="990" x2="305" y2="990" stroke="#222" stroke-width="4.3"/>
<polygon points="160,990 175.0,986.8 175.0,993.2" fill="#222"/>
<polygon points="305,990 290.0,993.2 290.0,986.8" fill="#222"/>
<text x="235" y="980" font-size="24.5" text-anchor="middle" fill="#111" stroke="#111" stroke-width="0.7">21 ± 0.2</text>
<line x1="130" y1="842" x2="130" y2="1048" stroke="#222" stroke-width="3.87"/>
<line x1="335" y1="842" x2="335" y2="1048" stroke="#222" stroke-width="3.87"/>
<line x1="130" y1="1038" x2="335" y2="1038" stroke="#222" stroke-width="4.3"/>
<polygon points="130,1038 145.0,1034.8 145.0,1041.2" fill="#222"/>
<polygon points="335,1038 320.0,1041.2 320.0,1034.8" fill="#222"/>
<text x="232" y="1028" font-size="24.5" text-anchor="middle" fill="#111" stroke="#111" stroke-width="0.7">29.00</text>
<line x1="712" y1="80" x2="712" y2="1072" stroke="#222" stroke-width="4.3"/>
<polyline points="712,398 546,398 540,404 540,790 661,790 661,610" fill="none" stroke="#222" stroke-width="4.3"/>
<line x1="540" y1="478" x2="572" y2="478" stroke="#222" stroke-width="4.3"/>
<line x1="572" y1="398" x2="572" y2="673" stroke="#222" stroke-width="4.3"/>
<path d="M572,478 C621,491 661,544 661,610" fill="none" stroke="#222" stroke-width="4.3"/>
<path d="M540,406 L531,406 Q527,406 527,414 L527,445 Q527,451 540,451" fill="none" stroke="#222" stroke-width="4.3"/>
<path d="M540,747 L531,747 Q527,747 527,755 L527,785 L540,785" fill="none" stroke="#222" stroke-width="4.3"/>
<polyline points="555,790 555,838 660,838 660,790" fill="none" stroke="#222" stroke-width="4.3"/>
<path d="M575,840 L563,848 Q555,854 563,861 L575,869 M640,840 L652,848 Q660,854 652,861 L640,869 M575,869 L640,869 M563,849 L652,849 M563,860 L652,860 M575,869 L563,877 Q555,883 563,889 L575,898 M640,869 L652,877 Q660,883 652,889 L640,898 M575,898 L640,898 M563,877 L652,877 M563,889 L652,889 M575,898 L563,906 Q555,912 563,918 L575,926 M640,898 L652,906 Q660,912 652,918 L640,926 M575,926 L640,926 M563,906 L652,906 M563,918 L652,918 " fill="none" stroke="#222" stroke-width="3.87"/>
<path d="M575,926 L564,933 L564,946 Q564,955 578,955 L637,955 Q650,955 650,946 L650,933 L640,926" fill="none" stroke="#222" stroke-width="4.3"/>
<rect x="582" y="268" width="106" height="16" rx="7.2" fill="none" stroke="#222" stroke-width="4.3"/>
<rect x="582" y="284" width="106" height="16" rx="7.2" fill="none" stroke="#222" stroke-width="4.3"/>
<polyline points="593,300 576,370 694,370 677,300" fill="none" stroke="#222" stroke-width="4.3"/>
<rect x="570" y="370" width="130" height="28" rx="3" fill="none" stroke="#222" stroke-width="4.3"/>
<rect x="609" y="165" width="52" height="103" rx="18.2" fill="none" stroke="#222" stroke-width="4.3"/>
<rect x="624" y="165" width="22" height="84" rx="10.4" fill="none" stroke="#222" stroke-width="3.655"/>
<line x1="635" y1="80" x2="635" y2="420" stroke="#222" stroke-width="3.44"/>
<line x1="570" y1="92" x2="635" y2="92" stroke="#222" stroke-width="4.3"/>
<polygon points="635,92 620.0,95.2 620.0,88.8" fill="#222"/>
<line x1="712" y1="92" x2="770" y2="92" stroke="#222" stroke-width="4.3"/>
<polygon points="712,92 727.0,88.8 727.0,95.2" fill="#222"/>
<text x="670" y="78" font-size="24.5" text-anchor="middle" fill="#111" stroke="#111" stroke-width="0.7">10.20</text>
<polyline points="845,135 680,135 646,165" fill="none" stroke="#222" stroke-width="4.3"/>
<polygon points="646,165 655.1,152.7 659.4,157.5" fill="#222"/>
<text x="780" y="128" font-size="21" text-anchor="middle" fill="#111" stroke="#111" stroke-width="0.7">ø 12.7x3. 8</text>
<line x1="572" y1="615" x2="712" y2="615" stroke="#222" stroke-width="4.3"/>
<polygon points="572,615 587.4,611.8 587.4,618.2" fill="#222"/>
<polygon points="712,615 697.0,618.2 697.0,611.8" fill="#222"/>
<text x="637" y="604" font-size="24.5" text-anchor="middle" fill="#111" stroke="#111" stroke-width="0.7">20.3</text>
<line x1="715" y1="398" x2="825" y2="398" stroke="#222" stroke-width="4.3"/>
<line x1="650" y1="838" x2="825" y2="838" stroke="#222" stroke-width="4.3"/>
<line x1="650" y1="955" x2="825" y2="955" stroke="#222" stroke-width="4.3"/>
<line x1="805" y1="398" x2="805" y2="838" stroke="#222" stroke-width="4.3"/>
<polygon points="805,398 808.2,413.0 801.8,413.0" fill="#222"/>
<polygon points="805,838 801.8,823.0 808.2,823.0" fill="#222"/>
<text x="791" y="622" font-size="24.5" text-anchor="middle" fill="#111" stroke="#111" stroke-width="0.7" transform="rotate(-90 791 622)">63.90</text>
<line x1="805" y1="840" x2="805" y2="955" stroke="#222" stroke-width="4.3"/>
<polygon points="805,840 808.2,855.0 801.8,855.0" fill="#222"/>
<polygon points="805,955 801.8,940.0 808.2,940.0" fill="#222"/>
<text x="791" y="900" font-size="24.5" text-anchor="middle" fill="#111" stroke="#111" stroke-width="0.7" transform="rotate(-90 791 900)">16.70</text>
<line x1="712" y1="740" x2="720" y2="740" stroke="#222" stroke-width="4.3"/>
<rect x="705" y="745" width="10" height="85" rx="0" fill="none" stroke="#222" stroke-width="3.44"/>
<text x="678" y="888" font-size="22" text-anchor="middle" fill="#111" stroke="#111" stroke-width="0.7">7.40</text>
<line x1="650" y1="893" x2="700" y2="893" stroke="#222" stroke-width="4.3"/>
<polygon points="650,893 665.0,889.8 665.0,896.2" fill="#222"/>
<line x1="598" y1="790" x2="598" y2="1012" stroke="#222" stroke-width="3.44"/>
<line x1="598" y1="1005" x2="712" y2="1005" stroke="#222" stroke-width="4.3"/>
<polygon points="598,1005 613.0,1001.8 613.0,1008.2" fill="#222"/>
<polygon points="712,1005 697.0,1008.2 697.0,1001.8" fill="#222"/>
<text x="655" y="995" font-size="24.5" text-anchor="middle" fill="#111" stroke="#111" stroke-width="0.7">15.20</text>
<line x1="527" y1="800" x2="527" y2="1072" stroke="#222" stroke-width="4.3"/>
<line x1="527" y1="1060" x2="712" y2="1060" stroke="#222" stroke-width="4.3"/>
<polygon points="527,1060 542.0,1056.8 542.0,1063.2" fill="#222"/>
<polygon points="712,1060 697.0,1063.2 697.0,1056.8" fill="#222"/>
<text x="610" y="1052" font-size="24.5" text-anchor="middle" fill="#111" stroke="#111" stroke-width="0.7">26.90</text>
</svg>
<svg width="1000" height="1343" style="left:0;top:0" viewBox="0 0 1000 1343">
<polygon points="595.2,658.3 605.5,647.7 614.8,645.5 627.5,631.1 634.6,626.0 641.0,628.1 716.6,696.8 719.2,707.2 730.5,716.4 728.2,722.1 709.7,745.6 690.9,760.3 595.8,680.4" fill="#62a8dd" />
<polygon points="595.2,658.3 602.7,652.4 606.0,666.7 608.5,674.1 627.3,695.0 682.6,743.9 691.0,748.0 709.7,745.6 690.9,760.3 595.8,680.4" fill="#4f96cf" />
<polygon points="605.4,653.2 614.3,654.3 608.2,666.4 611.5,676.3 619.2,687.4 680.5,741.6 682.5,743.1 627.1,693.3 608.1,671.6" fill="#80bee9" />
<circle cx="605.5" cy="657.5" r="1.9" fill="#1c2a3a"/>
<circle cx="635.1" cy="631.8" r="1.9" fill="#1c2a3a"/>
<circle cx="690.4" cy="743.7" r="1.9" fill="#1c2a3a"/>
<path d="M584.5,639.8 Q583.5,636.0 584.5,632.8 L586.0,628.5 Q587.0,625.2 591.4,624.1 L597.1,622.6 Q601.5,621.5 605.2,623.1 L610.2,625.4 Q614.0,627.0 616.0,629.7 L618.5,633.3 Q620.5,636.0 619.4,639.4 L617.9,643.9 Q616.8,647.2 613.8,649.0 L609.8,651.5 Q606.8,653.2 603.5,654.3 L599.2,655.7 Q596.0,656.8 593.3,654.3 L589.7,651.0 Q587.0,648.5 586.0,644.8 Z" fill="#161618" />
<ellipse cx="600.8" cy="627.5" rx="8.5" ry="3.0" fill="#2e2e31" transform="rotate(20 600.8 627.5)" />
<path d="M606.2,665.3 Q606.0,664.4 606.8,663.4 L613.2,655.5 Q614.0,654.5 613.6,653.3 L610.2,644.1 Q609.8,642.9 611.2,641.4 L622.5,629.0 Q624.0,627.5 624.3,627.8 L627.1,630.8 Q627.5,631.1 627.8,631.6 L630.7,635.1 Q631.1,635.5 631.5,635.8 L635.0,637.8 Q635.5,638.0 636.3,637.4 L643.3,632.3 Q644.1,631.7 644.6,631.0 L647.9,625.5 Q648.4,624.8 649.0,624.8 L653.9,624.9 Q654.5,624.9 661.2,631.2 L715.3,682.2 Q722.1,688.6 722.0,689.2 L721.9,694.1 Q721.9,694.7 721.6,695.9 L719.4,705.6 Q719.2,706.9 717.6,708.8 L705.1,724.4 Q703.5,726.3 702.1,727.4 L690.4,736.1 Q688.9,737.2 688.0,737.8 L680.3,743.0 Q679.4,743.7 673.3,738.2 L624.8,694.7 Q618.8,689.2 617.7,687.6 L609.2,674.6 Q608.2,673.0 608.0,672.1 Z" fill="#161618" />
<path d="M619.6,662.7 Q615.7,658.8 618.0,656.8 L651.5,628.1 Q653.8,626.2 657.8,629.9 L716.6,684.5 Q720.6,688.3 718.2,690.5 L683.7,722.5 Q681.3,724.7 677.4,720.7 Z" fill="#27272a" />
<path d="M691.5,719.3 Q691.4,715.0 695.3,711.8 L703.1,705.6 Q707.0,702.4 709.3,703.2 L713.9,704.8 Q716.2,705.5 718.5,708.0 L723.2,713.0 Q725.5,715.5 720.7,721.6 L711.2,733.8 Q706.4,739.8 704.1,739.7 L699.4,739.5 Q697.1,739.4 695.8,737.6 L693.2,734.0 Q691.8,732.3 691.7,727.9 Z" fill="#131315" />
<path d="M706.3,727.3 Q702.8,721.2 705.5,718.7 L710.8,713.6 Q713.5,711.1 720.1,715.8 L733.3,725.3 Q739.9,730.1 741.5,731.8 L744.6,735.3 Q746.2,737.0 746.1,739.7 L746.0,744.9 Q746.0,747.5 743.8,749.1 L739.5,752.3 Q737.3,753.9 734.8,753.3 L729.9,752.3 Q727.4,751.7 724.7,750.1 L719.5,747.0 Q716.8,745.4 713.3,739.3 Z" fill="#0e0e10" />
<ellipse cx="709.4" cy="718.9" rx="12.8" ry="5.2" fill="#111113" transform="rotate(-46.1 709.4 718.9)"/>
<ellipse cx="710.1" cy="717.3" rx="10.2" ry="1.6" fill="#343437" transform="rotate(-46.1 710.1 717.3)"/>
<ellipse cx="716.4" cy="726.9" rx="14.5" ry="5.5" fill="#111113" transform="rotate(-46.1 716.4 726.9)"/>
<ellipse cx="717.0" cy="725.2" rx="11.6" ry="1.7" fill="#343437" transform="rotate(-46.1 717.0 725.2)"/>
<ellipse cx="723.3" cy="732.5" rx="14.1" ry="5.5" fill="#111113" transform="rotate(-46.1 723.3 732.5)"/>
<ellipse cx="723.9" cy="730.9" rx="11.3" ry="1.7" fill="#343437" transform="rotate(-46.1 723.9 730.9)"/>
<ellipse cx="731.0" cy="739.6" rx="14.8" ry="6.9" fill="#111113" transform="rotate(-46.1 731.0 739.6)"/>
<ellipse cx="731.6" cy="738.0" rx="11.9" ry="2.1" fill="#343437" transform="rotate(-46.1 731.6 738.0)"/>
<ellipse cx="736.3" cy="744.8" rx="12.9" ry="9.9" fill="#1d1d20" transform="rotate(-46.1 736.3 744.8)"/>
<ellipse cx="737.0" cy="745.7" rx="7.4" ry="5.5" fill="#050506" transform="rotate(-46.1 736.3 744.8)"/>
<path d="M632.4,674.2 Q630.0,672.1 632.1,670.6 L661.8,648.5 Q663.9,647.0 666.3,648.8 L702.1,674.5 Q704.5,676.2 702.4,678.1 L672.2,705.1 Q670.1,706.9 667.7,704.8 Z" fill="#222225" stroke="#0a0a0b" stroke-width="0.78"/>
<g transform="matrix(0.8035 -0.5953 0.7548 0.6559 630.04 672.09)">
<text x="6.3" y="6.9" font-size="5.84" fill="#2a66d0" textLength="31.6" lengthAdjust="spacingAndGlyphs" font-weight="bold">CHNANMA</text>
<text x="5.1" y="13.8" font-size="7.43" fill="#f4f4f4" textLength="31.2" lengthAdjust="spacingAndGlyphs" font-weight="bold" font-style="italic">NM-8122</text>
<text x="2.5" y="19.4" font-size="6.11" fill="#f0f0f0" textLength="37.5" lengthAdjust="spacingAndGlyphs" font-weight="bold">LIMIT SWITCH</text>
<line x1="0.0" y1="21.5" x2="42.1" y2="21.5" stroke="#d8d8d8" stroke-width="0.64"/>
<text x="2.1" y="25.8" font-size="4.35" fill="#e4e4e4" textLength="23.2" lengthAdjust="spacingAndGlyphs" font-weight="bold">Ui:380V Ith:10A</text>
<text x="27.8" y="25.8" font-size="4.35" fill="#e4e4e4" textLength="13.1" lengthAdjust="spacingAndGlyphs" font-weight="bold">IP65</text>
<text x="2.1" y="30.0" font-size="4.35" fill="#e4e4e4" textLength="23.2" lengthAdjust="spacingAndGlyphs" font-weight="bold">AC-15 Ue:250V</text>
<text x="27.8" y="30.0" font-size="4.35" fill="#e4e4e4" textLength="13.1" lengthAdjust="spacingAndGlyphs" font-weight="bold">Ie:1.5A</text>
<text x="2.1" y="34.2" font-size="4.35" fill="#e4e4e4" textLength="23.2" lengthAdjust="spacingAndGlyphs" font-weight="bold">DC-13 Ue:220V</text>
<text x="27.8" y="34.2" font-size="4.35" fill="#e4e4e4" textLength="13.1" lengthAdjust="spacingAndGlyphs" font-weight="bold">Ie:0.3A</text>
<text x="2.1" y="38.5" font-size="4.35" fill="#e4e4e4" textLength="17.7" lengthAdjust="spacingAndGlyphs" font-weight="bold">NO(13,14)NO</text>
<text x="22.3" y="38.5" font-size="4.35" fill="#e4e4e4" textLength="18.5" lengthAdjust="spacingAndGlyphs" font-weight="bold">GB14048.5</text>
<text x="2.1" y="42.7" font-size="4.35" fill="#e4e4e4" textLength="17.7" lengthAdjust="spacingAndGlyphs" font-weight="bold">NC(11,12)NC</text>
<line x1="0.0" y1="46.5" x2="42.1" y2="46.5" stroke="#d8d8d8" stroke-width="0.64"/>
</g>
<circle cx="620.7" cy="638.6" r="5.7" fill="#c4c4c6" stroke="#3a3a3a" stroke-width="0.6"/>
<circle cx="619.9" cy="637.8" r="3.5" fill="#ededee"/>
<path d="M617.6,639.8 L623.8,637.5 M619.6,635.5 L621.9,641.8" stroke="#4a4a4a" stroke-width="1.3" fill="none"/>
<circle cx="712.0" cy="686.5" r="5.7" fill="#c4c4c6" stroke="#3a3a3a" stroke-width="0.6"/>
<circle cx="711.2" cy="685.6" r="3.5" fill="#ededee"/>
<path d="M708.8,687.6 L715.1,685.4 M710.8,683.4 L713.1,689.6" stroke="#4a4a4a" stroke-width="1.3" fill="none"/>
<circle cx="681.6" cy="714.0" r="5.7" fill="#c4c4c6" stroke="#3a3a3a" stroke-width="0.6"/>
<circle cx="680.9" cy="713.2" r="3.5" fill="#ededee"/>
<path d="M678.5,715.2 L684.8,712.9 M680.5,710.9 L682.8,717.2" stroke="#4a4a4a" stroke-width="1.3" fill="none"/>
<path d="M565.3,617.1 Q564.8,614.8 566.5,613.2 L569.0,611.1 Q570.8,609.5 572.8,609.8 L575.5,610.2 Q577.5,610.5 579.6,613.0 L582.4,616.5 Q584.5,619.0 585.4,621.2 L586.6,624.2 Q587.5,626.5 585.9,628.4 L583.8,630.9 Q582.2,632.8 580.5,631.9 L578.0,630.6 Q576.2,629.8 573.3,627.6 L569.4,624.7 Q566.5,622.5 566.0,620.2 Z" fill="#c4c4c8" />
<polygon points="572.5,611.5 578.0,612.0 584.0,620.0 582.0,625.8 578.2,622.0" fill="#f4f4f6" />
<polygon points="566.0,616.5 570.0,613.0 577.5,625.5 572.5,626.5 567.0,622.0" fill="#98989c" />
<polygon points="578.2,626.5 586.5,625.5 582.2,632.8 576.5,630.0" fill="#6c6c72" />
<ellipse cx="567.8" cy="622.0" rx="1.5" ry="1.2" fill="#333" transform="rotate(0 567.8 622.0)" />
</svg>
<svg x="0" y="0" width="220" height="240" style="left:770px;top:572px" viewBox="0 0 1000 1091">
<rect x="147" y="408" width="205" height="440" rx="6" fill="none" stroke="#222" stroke-width="4.3"/>
<polyline points="206,408 206,468 147,468" fill="none" stroke="#222" stroke-width="4.3"/>
<polyline points="293,408 293,468 352,468" fill="none" stroke="#222" stroke-width="4.3"/>
<circle cx="177" cy="438" r="14" fill="none" stroke="#222" stroke-width="4.3"/>
<circle cx="322" cy="438" r="14" fill="none" stroke="#222" stroke-width="4.3"/>
<circle cx="250" cy="438" r="19" fill="none" stroke="#222" stroke-width="4.3"/>
<circle cx="250" cy="438" r="10" fill="none" stroke="#222" stroke-width="3.44"/>
<line x1="235" y1="438" x2="264" y2="438" stroke="#222" stroke-width="3.87"/>
<line x1="250" y1="424" x2="250" y2="452" stroke="#222" stroke-width="3.87"/>
<rect x="168" y="555" width="162" height="180" rx="9" fill="none" stroke="#222" stroke-width="4.3"/>
<circle cx="177" cy="775" r="18" fill="none" stroke="#222" stroke-width="4.3"/>
<rect x="167" y="765" width="20" height="20" rx="0" fill="none" stroke="#222" stroke-width="3.44"/>
<circle cx="177" cy="822" r="14" fill="none" stroke="#222" stroke-width="4.3"/>
<circle cx="322" cy="775" r="18" fill="none" stroke="#222" stroke-width="4.3"/>
<rect x="312" y="765" width="20" height="20" rx="0" fill="none" stroke="#222" stroke-width="3.44"/>
<circle cx="322" cy="822" r="14" fill="none" stroke="#222" stroke-width="4.3"/>
<line x1="147" y1="800" x2="352" y2="800" stroke="#222" stroke-width="4.3"/>
<line x1="194" y1="800" x2="194" y2="848" stroke="#222" stroke-width="4.3"/>
<line x1="305" y1="800" x2="305" y2="848" stroke="#222" stroke-width="4.3"/>
<path d="M215,850 L201,858 Q192,864 201,870 L215,878 M284,850 L298,858 Q307,864 298,870 L284,878 M215,878 L284,878 M201,858 L298,858 M201,869 L298,869 M215,878 L201,885 Q192,891 201,897 L215,905 M284,878 L298,885 Q307,891 298,897 L284,905 M215,905 L284,905 M201,886 L298,886 M201,897 L298,897 M215,905 L201,913 Q192,919 201,925 L215,932 M284,905 L298,913 Q307,919 298,925 L284,932 M215,932 L284,932 M201,913 L298,913 M201,924 L298,924 " fill="none" stroke="#222" stroke-width="3.87"/>
<path d="M215,932 L203,939 L203,952 Q203,960 218,960 L281,960 Q296,960 296,952 L296,939 L284,932" fill="none" stroke="#222" stroke-width="4.3"/>
<rect x="199" y="278" width="98" height="16" rx="7.2" fill="none" stroke="#222" stroke-width="4.3"/>
<rect x="199" y="294" width="98" height="16" rx="7.2" fill="none" stroke="#222" stroke-width="4.3"/>
<polyline points="206,310 183,380 313,380 290,310" fill="none" stroke="#222" stroke-width="4.3"/>
<rect x="176" y="380" width="145" height="28" rx="3" fill="none" stroke="#222" stroke-width="4.3"/>
<rect x="222" y="175" width="52" height="103" rx="18.2" fill="none" stroke="#222" stroke-width="4.3"/>
<rect x="237" y="175" width="22" height="84" rx="10.4" fill="none" stroke="#222" stroke-width="3.655"/>
<line x1="248" y1="170" x2="248" y2="455" stroke="#222" stroke-width="3.44"/>
<text x="260" y="52" font-size="21" text-anchor="middle" fill="#111" stroke="#111" stroke-width="0.7">360°</text>
<path d="M296,126 A90,34 0 1 0 214,126" fill="none" stroke="#222" stroke-width="4.3"/>
<polygon points="219,127 204.4,127.8 206.4,120.0" fill="#222"/>
<polygon points="271,132 289,118 291,128 305,124 303,136 291,136 289,144" fill="#fff" stroke="#222" stroke-width="3.44"/>
<line x1="265" y1="180" x2="428" y2="180" stroke="#222" stroke-width="4.3"/>
<line x1="355" y1="438" x2="428" y2="438" stroke="#222" stroke-width="4.3"/>
<line x1="355" y1="822" x2="428" y2="822" stroke="#222" stroke-width="4.3"/>
<line x1="410" y1="180" x2="410" y2="438" stroke="#222" stroke-width="4.3"/>
<polygon points="410,180 413.2,195.0 406.8,195.0" fill="#222"/>
<polygon points="410,438 406.8,423.0 413.2,423.0" fill="#222"/>
<text x="396" y="300" font-size="24.5" text-anchor="middle" fill="#111" stroke="#111" stroke-width="0.7" transform="rotate(-90 396 300)">38.00</text>
<line x1="410" y1="440" x2="410" y2="822" stroke="#222" stroke-width="4.3"/>
<polygon points="410,440 413.2,455.0 406.8,455.0" fill="#222"/>
<polygon points="410,822 406.8,807.0 413.2,807.0" fill="#222"/>
<text x="396" y="612" font-size="24.5" text-anchor="middle" fill="#111" stroke="#111" stroke-width="0.7" transform="rotate(-90 396 612)">56.00</text>
<polyline points="330,428 368,388 450,388" fill="none" stroke="#222" stroke-width="4.3"/>
<polygon points="330,428 336.8,416.5 341.1,420.6" fill="#222"/>
<text x="402" y="380" font-size="24.5" text-anchor="middle" fill="#111" stroke="#111" stroke-width="0.7">2 x M5</text>
<polyline points="338,790 378,855 440,855" fill="none" stroke="#222" stroke-width="4.3"/>
<polygon points="338,790 347.4,799.5 342.3,802.6" fill="#222"/>
<text x="412" y="850" font-size="24.5" text-anchor="middle" fill="#111" stroke="#111" stroke-width="0.7">3-M3</text>
<polyline points="338,830 378,905 440,905" fill="none" stroke="#222" stroke-width="4.3"/>
<polygon points="338,830 346.8,840.1 341.5,842.9" fill="#222"/>
<text x="412" y="900" font-size="24.5" text-anchor="middle" fill="#111" stroke="#111" stroke-width="0.7">2-M5</text>
<line x1="178" y1="835" x2="178" y2="1012" stroke="#222" stroke-width="3.87"/>
<line x1="325" y1="835" x2="325" y2="1012" stroke="#222" stroke-width="3.87"/>
<line x1="178" y1="1003" x2="325" y2="1003" stroke="#222" stroke-width="4.3"/>
<polygon points="178,1003 193.0,999.8 193.0,1006.2" fill="#222"/>
<polygon points="325,1003 310.0,1006.2 310.0,999.8" fill="#222"/>
<text x="258" y="992" font-size="24.5" text-anchor="middle" fill="#111" stroke="#111" stroke-width="0.7">21 ± 0.2</text>
<line x1="147" y1="852" x2="147" y2="1062" stroke="#222" stroke-width="3.87"/>
<line x1="352" y1="852" x2="352" y2="1062" stroke="#222" stroke-width="3.87"/>
<line x1="147" y1="1052" x2="352" y2="1052" stroke="#222" stroke-width="4.3"/>
<polygon points="147,1052 162.0,1048.8 162.0,1055.2" fill="#222"/>
<polygon points="352,1052 337.0,1055.2 337.0,1048.8" fill="#222"/>
<text x="250" y="1040" font-size="24.5" text-anchor="middle" fill="#111" stroke="#111" stroke-width="0.7">29.00</text>
<line x1="708" y1="70" x2="708" y2="1078" stroke="#222" stroke-width="4.3"/>
<polyline points="708,378 544,378 538,384 538,765 658,765 658,595" fill="none" stroke="#222" stroke-width="4.3"/>
<line x1="538" y1="458" x2="570" y2="458" stroke="#222" stroke-width="4.3"/>
<line x1="570" y1="378" x2="570" y2="657" stroke="#222" stroke-width="4.3"/>
<path d="M570,458 C618,472 658,526 658,595" fill="none" stroke="#222" stroke-width="4.3"/>
<path d="M538,386 L529,386 Q525,386 525,393 L525,424 Q525,430 538,430" fill="none" stroke="#222" stroke-width="4.3"/>
<path d="M538,722 L529,722 Q525,722 525,730 L525,760 L538,760" fill="none" stroke="#222" stroke-width="4.3"/>
<polyline points="553,765 553,815 656,815 656,765" fill="none" stroke="#222" stroke-width="4.3"/>
<path d="M573,817 L560,825 Q552,831 560,838 L573,846 M636,817 L649,825 Q657,831 649,838 L636,846 M573,846 L636,846 M560,826 L649,826 M560,837 L649,837 M573,846 L560,854 Q552,860 560,866 L573,874 M636,846 L649,854 Q657,860 649,866 L636,874 M573,874 L636,874 M560,854 L649,854 M560,866 L649,866 M573,874 L560,883 Q552,889 560,895 L573,903 M636,874 L649,883 Q657,889 649,895 L636,903 M573,903 L636,903 M560,883 L649,883 M560,895 L649,895 " fill="none" stroke="#222" stroke-width="3.87"/>
<path d="M573,903 L562,910 L562,923 Q562,932 576,932 L634,932 Q647,932 647,923 L647,910 L636,903" fill="none" stroke="#222" stroke-width="4.3"/>
<rect x="582" y="250" width="106" height="16" rx="7.2" fill="none" stroke="#222" stroke-width="4.3"/>
<rect x="582" y="266" width="106" height="16" rx="7.2" fill="none" stroke="#222" stroke-width="4.3"/>
<polyline points="593,282 576,350 694,350 677,282" fill="none" stroke="#222" stroke-width="4.3"/>
<rect x="570" y="350" width="130" height="28" rx="3" fill="none" stroke="#222" stroke-width="4.3"/>
<circle cx="635" cy="188" r="47" fill="none" stroke="#222" stroke-width="4.3"/>
<ellipse cx="635" cy="188" rx="15" ry="20" fill="none" stroke="#222" stroke-width="4.3"/>
<polyline points="606,225 606,250" fill="none" stroke="#222" stroke-width="4.3"/>
<polyline points="664,225 664,250" fill="none" stroke="#222" stroke-width="4.3"/>
<line x1="635" y1="60" x2="635" y2="400" stroke="#222" stroke-width="3.44"/>
<line x1="570" y1="80" x2="635" y2="80" stroke="#222" stroke-width="4.3"/>
<polygon points="635,80 620.0,83.2 620.0,76.8" fill="#222"/>
<line x1="708" y1="80" x2="775" y2="80" stroke="#222" stroke-width="4.3"/>
<polygon points="708,80 723.0,76.8 723.0,83.2" fill="#222"/>
<text x="670" y="72" font-size="24.5" text-anchor="middle" fill="#111" stroke="#111" stroke-width="0.7">10.20</text>
<polyline points="840,112 705,112 668,152" fill="none" stroke="#222" stroke-width="4.3"/>
<polygon points="668,152 675.8,138.8 680.5,143.2" fill="#222"/>
<text x="778" y="106" font-size="21" text-anchor="middle" fill="#111" stroke="#111" stroke-width="0.7">ø 12.7x3. 8</text>
<line x1="570" y1="600" x2="708" y2="600" stroke="#222" stroke-width="4.3"/>
<polygon points="570,600 584.9,596.8 584.9,603.2" fill="#222"/>
<polygon points="708,600 693.0,603.2 693.0,596.8" fill="#222"/>
<text x="637" y="590" font-size="24.5" text-anchor="middle" fill="#111" stroke="#111" stroke-width="0.7">20.3</text>
<line x1="712" y1="378" x2="825" y2="378" stroke="#222" stroke-width="4.3"/>
<line x1="650" y1="815" x2="825" y2="815" stroke="#222" stroke-width="4.3"/>
<line x1="650" y1="932" x2="825" y2="932" stroke="#222" stroke-width="4.3"/>
<line x1="805" y1="378" x2="805" y2="815" stroke="#222" stroke-width="4.3"/>
<polygon points="805,378 808.2,393.0 801.8,393.0" fill="#222"/>
<polygon points="805,815 801.8,800.0 808.2,800.0" fill="#222"/>
<text x="791" y="600" font-size="24.5" text-anchor="middle" fill="#111" stroke="#111" stroke-width="0.7" transform="rotate(-90 791 600)">63.90</text>
<line x1="805" y1="817" x2="805" y2="932" stroke="#222" stroke-width="4.3"/>
<polygon points="805,817 808.2,832.0 801.8,832.0" fill="#222"/>
<polygon points="805,932 801.8,917.0 808.2,917.0" fill="#222"/>
<text x="791" y="877" font-size="24.5" text-anchor="middle" fill="#111" stroke="#111" stroke-width="0.7" transform="rotate(-90 791 877)">16.70</text>
<rect x="705" y="722" width="10" height="85" rx="0" fill="none" stroke="#222" stroke-width="3.44"/>
<text x="680" y="868" font-size="22" text-anchor="middle" fill="#111" stroke="#111" stroke-width="0.7">7.40</text>
<line x1="650" y1="872" x2="700" y2="872" stroke="#222" stroke-width="4.3"/>
<polygon points="650,872 665.0,868.8 665.0,875.2" fill="#222"/>
<line x1="598" y1="765" x2="598" y2="990" stroke="#222" stroke-width="3.44"/>
<line x1="598" y1="982" x2="708" y2="982" stroke="#222" stroke-width="4.3"/>
<polygon points="598,982 613.0,978.8 613.0,985.2" fill="#222"/>
<polygon points="708,982 693.0,985.2 693.0,978.8" fill="#222"/>
<text x="655" y="972" font-size="24.5" text-anchor="middle" fill="#111" stroke="#111" stroke-width="0.7">15.20</text>
<line x1="525" y1="780" x2="525" y2="1078" stroke="#222" stroke-width="4.3"/>
<line x1="525" y1="1062" x2="708" y2="1062" stroke="#222" stroke-width="4.3"/>
<polygon points="525,1062 540.0,1058.8 540.0,1065.2" fill="#222"/>
<polygon points="708,1062 693.0,1065.2 693.0,1058.8" fill="#222"/>
<text x="615" y="1052" font-size="24.5" text-anchor="middle" fill="#111" stroke="#111" stroke-width="0.7">26.90</text>
</svg>
<svg width="1000" height="1343" style="left:0;top:0" viewBox="0 0 1000 1343">
<polygon points="87.8,939.9 97.5,930.0 106.1,928.1 118.0,914.6 124.6,909.9 130.6,911.8 200.1,976.4 202.4,986.1 212.8,994.8 210.6,1000.1 193.2,1022.0 175.6,1035.7 88.2,960.6" fill="#62a8dd" />
<polygon points="87.8,939.9 94.8,934.4 97.8,947.8 100.0,954.8 117.3,974.4 168.0,1020.4 175.9,1024.2 193.2,1022.0 175.6,1035.7 88.2,960.6" fill="#4f96cf" />
<polygon points="97.4,935.2 105.6,936.2 99.9,947.5 102.8,956.9 109.8,967.3 166.1,1018.2 167.9,1019.6 117.1,972.8 99.7,952.4" fill="#80bee9" />
<circle cx="97.4" cy="939.3" r="1.8" fill="#1c2a3a"/>
<circle cx="125.1" cy="915.3" r="1.8" fill="#1c2a3a"/>
<circle cx="175.3" cy="1020.2" r="1.8" fill="#1c2a3a"/>
<path d="M81.9,929.6 Q81.2,927.5 82.8,923.8 L84.8,918.8 Q86.2,915.0 88.7,913.5 L92.0,911.5 Q94.5,910.0 97.0,910.2 L100.5,910.5 Q103.0,910.8 105.1,912.5 L107.9,914.8 Q110.0,916.5 107.4,919.4 L103.9,923.1 Q101.2,926.0 101.8,927.7 L102.5,930.0 Q103.0,931.8 100.5,933.5 L97.0,935.8 Q94.5,937.5 92.4,938.3 L89.6,939.4 Q87.5,940.2 86.3,938.5 L84.7,936.2 Q83.5,934.5 82.8,932.4 Z" fill="#161618" />
<ellipse cx="95.0" cy="916.5" rx="7.5" ry="3.5" fill="#2a2a2d" transform="rotate(-40 95.0 916.5)" />
<path d="M98.0,946.5 Q97.8,945.7 98.6,944.8 L104.6,937.4 Q105.3,936.4 104.9,935.4 L101.9,926.7 Q101.6,925.6 102.9,924.1 L113.5,912.6 Q114.8,911.2 115.1,911.5 L117.7,914.3 Q118.0,914.6 118.3,915.0 L121.0,918.3 Q121.3,918.7 121.7,919.0 L125.0,920.9 Q125.4,921.1 126.2,920.5 L132.7,915.8 Q133.5,915.2 133.9,914.5 L137.0,909.4 Q137.4,908.8 138.0,908.8 L142.5,908.9 Q143.1,908.9 149.3,914.8 L199.0,962.7 Q205.2,968.7 205.1,969.3 L205.0,973.8 Q205.0,974.4 204.7,975.5 L202.6,984.7 Q202.3,985.8 200.8,987.6 L189.1,1002.1 Q187.6,1004.0 186.3,1005.0 L175.3,1013.0 Q174.0,1014.1 173.1,1014.7 L166.0,1019.5 Q165.1,1020.1 159.5,1015.0 L115.0,974.1 Q109.4,969.0 108.5,967.5 L100.7,955.3 Q99.7,953.7 99.5,952.9 Z" fill="#161618" />
<path d="M110.4,944.2 Q106.8,940.5 109.0,938.6 L140.3,911.9 Q142.5,910.1 146.2,913.6 L200.1,964.9 Q203.8,968.4 201.6,970.4 L169.2,1000.3 Q167.0,1002.3 163.4,998.6 Z" fill="#27272a" />
<path d="M176.6,997.3 Q176.5,993.3 180.1,990.4 L187.4,984.5 Q191.1,981.6 193.2,982.3 L197.4,983.8 Q199.6,984.5 201.7,986.9 L206.0,991.6 Q208.1,993.9 203.6,999.6 L194.7,1010.9 Q190.2,1016.6 188.0,1016.5 L183.7,1016.3 Q181.5,1016.1 180.3,1014.5 L178.0,1011.1 Q176.8,1009.5 176.7,1005.4 Z" fill="#131315" />
<path d="M190.2,1004.8 Q187.0,999.2 189.5,996.8 L194.5,992.1 Q197.0,989.7 203.1,994.2 L215.2,1003.1 Q221.3,1007.6 222.7,1009.2 L225.6,1012.5 Q227.1,1014.1 227.0,1016.6 L226.8,1021.4 Q226.8,1023.9 224.7,1025.4 L220.7,1028.3 Q218.7,1029.8 216.4,1029.3 L211.8,1028.3 Q209.5,1027.8 207.1,1026.3 L202.2,1023.3 Q199.8,1021.8 196.6,1016.2 Z" fill="#0e0e10" />
<ellipse cx="193.2" cy="997.1" rx="11.9" ry="4.8" fill="#111113" transform="rotate(-45.7 193.2 997.1)"/>
<ellipse cx="193.8" cy="995.5" rx="9.5" ry="1.4" fill="#343437" transform="rotate(-45.7 193.8 995.5)"/>
<ellipse cx="199.5" cy="1004.5" rx="13.5" ry="5.1" fill="#111113" transform="rotate(-45.7 199.5 1004.5)"/>
<ellipse cx="200.1" cy="1003.0" rx="10.8" ry="1.5" fill="#343437" transform="rotate(-45.7 200.1 1003.0)"/>
<ellipse cx="205.9" cy="1009.8" rx="13.2" ry="5.1" fill="#111113" transform="rotate(-45.7 205.9 1009.8)"/>
<ellipse cx="206.5" cy="1008.3" rx="10.5" ry="1.5" fill="#343437" transform="rotate(-45.7 206.5 1008.3)"/>
<ellipse cx="213.0" cy="1016.5" rx="13.8" ry="6.4" fill="#111113" transform="rotate(-45.7 213.0 1016.5)"/>
<ellipse cx="213.6" cy="1014.9" rx="11.0" ry="1.9" fill="#343437" transform="rotate(-45.7 213.6 1014.9)"/>
<ellipse cx="217.8" cy="1021.4" rx="12.0" ry="9.2" fill="#1d1d20" transform="rotate(-45.7 217.8 1021.4)"/>
<ellipse cx="218.5" cy="1022.2" rx="6.9" ry="5.1" fill="#050506" transform="rotate(-45.7 217.8 1021.4)"/>
<path d="M122.2,954.9 Q120.0,953.0 121.9,951.6 L149.7,931.0 Q151.6,929.6 153.9,931.3 L186.8,955.4 Q189.0,957.1 187.1,958.8 L158.8,984.0 Q156.8,985.7 154.6,983.7 Z" fill="#222225" stroke="#0a0a0b" stroke-width="0.72"/>
<g transform="matrix(0.8042 -0.5943 0.7475 0.6642 120.02 952.97)">
<text x="5.9" y="6.4" font-size="5.42" fill="#2a66d0" textLength="29.5" lengthAdjust="spacingAndGlyphs" font-weight="bold">CHNANMA</text>
<text x="4.7" y="12.8" font-size="6.90" fill="#f4f4f4" textLength="29.1" lengthAdjust="spacingAndGlyphs" font-weight="bold" font-style="italic">NM-8166</text>
<text x="2.4" y="18.0" font-size="5.67" fill="#f0f0f0" textLength="35.0" lengthAdjust="spacingAndGlyphs" font-weight="bold">LIMIT SWITCH</text>
<line x1="0.0" y1="20.0" x2="39.3" y2="20.0" stroke="#d8d8d8" stroke-width="0.59"/>
<text x="2.0" y="23.9" font-size="4.04" fill="#e4e4e4" textLength="21.6" lengthAdjust="spacingAndGlyphs" font-weight="bold">Ui:380V Ith:10A</text>
<text x="25.9" y="23.9" font-size="4.04" fill="#e4e4e4" textLength="12.2" lengthAdjust="spacingAndGlyphs" font-weight="bold">IP65</text>
<text x="2.0" y="27.8" font-size="4.04" fill="#e4e4e4" textLength="21.6" lengthAdjust="spacingAndGlyphs" font-weight="bold">AC-15 Ue:250V</text>
<text x="25.9" y="27.8" font-size="4.04" fill="#e4e4e4" textLength="12.2" lengthAdjust="spacingAndGlyphs" font-weight="bold">Ie:1.5A</text>
<text x="2.0" y="31.8" font-size="4.04" fill="#e4e4e4" textLength="21.6" lengthAdjust="spacingAndGlyphs" font-weight="bold">DC-13 Ue:220V</text>
<text x="25.9" y="31.8" font-size="4.04" fill="#e4e4e4" textLength="12.2" lengthAdjust="spacingAndGlyphs" font-weight="bold">Ie:0.3A</text>
<text x="2.0" y="35.7" font-size="4.04" fill="#e4e4e4" textLength="16.5" lengthAdjust="spacingAndGlyphs" font-weight="bold">NO(13,14)NO</text>
<text x="20.8" y="35.7" font-size="4.04" fill="#e4e4e4" textLength="17.3" lengthAdjust="spacingAndGlyphs" font-weight="bold">GB14048.5</text>
<text x="2.0" y="39.7" font-size="4.04" fill="#e4e4e4" textLength="16.5" lengthAdjust="spacingAndGlyphs" font-weight="bold">NC(11,12)NC</text>
<line x1="0.0" y1="43.1" x2="39.3" y2="43.1" stroke="#d8d8d8" stroke-width="0.59"/>
</g>
<circle cx="111.7" cy="921.6" r="5.3" fill="#c4c4c6" stroke="#3a3a3a" stroke-width="0.6"/>
<circle cx="111.0" cy="920.8" r="3.3" fill="#ededee"/>
<path d="M108.8,922.7 L114.6,920.6 M110.6,918.7 L112.8,924.6" stroke="#4a4a4a" stroke-width="1.2" fill="none"/>
<circle cx="195.8" cy="966.7" r="5.3" fill="#c4c4c6" stroke="#3a3a3a" stroke-width="0.6"/>
<circle cx="195.1" cy="965.9" r="3.3" fill="#ededee"/>
<path d="M192.9,967.8 L198.7,965.6 M194.8,963.8 L196.9,969.6" stroke="#4a4a4a" stroke-width="1.2" fill="none"/>
<circle cx="167.5" cy="992.4" r="5.3" fill="#c4c4c6" stroke="#3a3a3a" stroke-width="0.6"/>
<circle cx="166.7" cy="991.6" r="3.3" fill="#ededee"/>
<path d="M164.5,993.4 L170.4,991.3 M166.4,989.5 L168.5,995.3" stroke="#4a4a4a" stroke-width="1.2" fill="none"/>
<line x1="39.2" y1="878.0" x2="87.5" y2="917.8" stroke="#8c8c8c" stroke-width="7.00" />
<line x1="39.2" y1="878.0" x2="87.5" y2="917.8" stroke="#d2d2d2" stroke-width="3.15" />
<line x1="39.2" y1="878.0" x2="87.5" y2="917.8" stroke="#555" stroke-width="7.00" stroke-dasharray="0.5 1.1" opacity="0.45"/>
<line x1="16.5" y1="859.8" x2="39.2" y2="878.0" stroke="#f4eedc" stroke-width="6.25" stroke-linecap="round"/>
<line x1="17.0" y1="859.2" x2="38.8" y2="877.0" stroke="#fffdf4" stroke-width="2.50" stroke-linecap="round"/>
</svg>
<svg x="0" y="0" width="220" height="240" style="left:260px;top:834px" viewBox="0 0 1000 1091">
<rect x="208" y="588" width="144" height="310" rx="6" fill="none" stroke="#222" stroke-width="4.3"/>
<polyline points="250,588 250,622 208,622" fill="none" stroke="#222" stroke-width="4.3"/>
<polyline points="310,588 310,622 352,622" fill="none" stroke="#222" stroke-width="4.3"/>
<circle cx="229" cy="605" r="11" fill="none" stroke="#222" stroke-width="4.3"/>
<circle cx="331" cy="605" r="11" fill="none" stroke="#222" stroke-width="4.3"/>
<circle cx="280" cy="605" r="14" fill="none" stroke="#222" stroke-width="4.3"/>
<circle cx="280" cy="605" r="7" fill="none" stroke="#222" stroke-width="3.44"/>
<line x1="270" y1="605" x2="290" y2="605" stroke="#222" stroke-width="3.87"/>
<line x1="280" y1="595" x2="280" y2="615" stroke="#222" stroke-width="3.87"/>
<rect x="225" y="690" width="113" height="128" rx="9" fill="none" stroke="#222" stroke-width="4.3"/>
<circle cx="229" cy="845" r="13" fill="none" stroke="#222" stroke-width="4.3"/>
<line x1="219" y1="845" x2="239" y2="845" stroke="#222" stroke-width="3.87"/>
<line x1="229" y1="835" x2="229" y2="855" stroke="#222" stroke-width="3.87"/>
<circle cx="229" cy="845" r="6" fill="none" stroke="#222" stroke-width="3.01"/>
<circle cx="229" cy="880" r="11" fill="none" stroke="#222" stroke-width="4.3"/>
<circle cx="331" cy="845" r="13" fill="none" stroke="#222" stroke-width="4.3"/>
<line x1="321" y1="845" x2="341" y2="845" stroke="#222" stroke-width="3.87"/>
<line x1="331" y1="835" x2="331" y2="855" stroke="#222" stroke-width="3.87"/>
<circle cx="331" cy="845" r="6" fill="none" stroke="#222" stroke-width="3.01"/>
<circle cx="331" cy="880" r="11" fill="none" stroke="#222" stroke-width="4.3"/>
<line x1="208" y1="862" x2="352" y2="862" stroke="#222" stroke-width="4.3"/>
<line x1="241" y1="862" x2="241" y2="898" stroke="#222" stroke-width="4.3"/>
<line x1="319" y1="862" x2="319" y2="898" stroke="#222" stroke-width="4.3"/>
<path d="M255,900 L245,906 Q239,911 245,915 L255,921 M305,900 L315,906 Q321,911 315,915 L305,921 M255,921 L305,921 M245,906 L315,906 M245,915 L315,915 M255,921 L245,927 Q239,932 245,937 L255,942 M305,921 L315,927 Q321,932 315,937 L305,942 M255,942 L305,942 M245,928 L315,928 M245,936 L315,936 M255,942 L245,948 Q239,953 245,958 L255,964 M305,942 L315,948 Q321,953 315,958 L305,964 M255,964 L305,964 M245,949 L315,949 M245,957 L315,957 " fill="none" stroke="#222" stroke-width="3.87"/>
<path d="M255,964 L247,968 L247,979 Q247,985 257,985 L303,985 Q313,985 313,979 L313,968 L305,964" fill="none" stroke="#222" stroke-width="4.3"/>
<path d="M232,588 L232,549 Q232,535 246,535 L316,535 Q330,535 330,549 L330,588" fill="none" stroke="#222" stroke-width="4.3"/>
<rect x="248" y="505" width="66" height="30" rx="5" fill="none" stroke="#222" stroke-width="4.3"/>
<line x1="251" y1="520" x2="311" y2="520" stroke="#222" stroke-width="3.44"/>
<rect x="266" y="325" width="31" height="180" rx="0" fill="#fff" stroke="#222" stroke-width="4.3"/>
<line x1="282" y1="325" x2="282" y2="505" stroke="#3a3a3a" stroke-width="29" stroke-dasharray="3 3"/>
<path d="M268,325 L278,130 Q283,122 288,130 L295,325" fill="none" stroke="#222" stroke-width="4.3"/>
<line x1="290" y1="125" x2="468" y2="125" stroke="#222" stroke-width="4.3"/>
<line x1="298" y1="325" x2="362" y2="325" stroke="#222" stroke-width="4.3"/>
<line x1="332" y1="125" x2="332" y2="325" stroke="#222" stroke-width="4.3"/>
<polygon points="332,125 335.2,140.0 328.8,140.0" fill="#222"/>
<polygon points="332,325 328.8,310.0 335.2,310.0" fill="#222"/>
<text x="318" y="235" font-size="24.5" text-anchor="middle" fill="#111" stroke="#111" stroke-width="0.7" transform="rotate(-90 318 235)">41.50</text>
<line x1="448" y1="125" x2="448" y2="605" stroke="#222" stroke-width="4.3"/>
<polygon points="448,125 451.2,140.0 444.8,140.0" fill="#222"/>
<polygon points="448,605 444.8,590.0 451.2,590.0" fill="#222"/>
<text x="434" y="365" font-size="24.5" text-anchor="middle" fill="#111" stroke="#111" stroke-width="0.7" transform="rotate(-90 434 365)">100 ± 1.5</text>
<line x1="350" y1="605" x2="462" y2="605" stroke="#222" stroke-width="4.3"/>
<polyline points="340,596 340,470 412,470" fill="none" stroke="#222" stroke-width="4.3"/>
<polygon points="340,596 336.8,581.0 343.2,581.0" fill="#222"/>
<text x="373" y="462" font-size="24.5" text-anchor="middle" fill="#111" stroke="#111" stroke-width="0.7">2 x M5</text>
<line x1="425" y1="610" x2="425" y2="880" stroke="#222" stroke-width="4.3"/>
<polygon points="425,610 428.2,625.0 421.8,625.0" fill="#222"/>
<polygon points="425,880 421.8,865.0 428.2,865.0" fill="#222"/>
<text x="411" y="745" font-size="24.5" text-anchor="middle" fill="#111" stroke="#111" stroke-width="0.7" transform="rotate(-90 411 745)">56.00</text>
<line x1="350" y1="880" x2="440" y2="880" stroke="#222" stroke-width="4.3"/>
<polyline points="345,850 385,910 450,910" fill="none" stroke="#222" stroke-width="4.3"/>
<polygon points="345,850 354.7,859.2 349.7,862.5" fill="#222"/>
<text x="420" y="905" font-size="24.5" text-anchor="middle" fill="#111" stroke="#111" stroke-width="0.7">3-M3</text>
<polyline points="345,888 375,965 445,965" fill="none" stroke="#222" stroke-width="4.3"/>
<polygon points="345,888 352.5,899.0 346.9,901.2" fill="#222"/>
<text x="412" y="960" font-size="24.5" text-anchor="middle" fill="#111" stroke="#111" stroke-width="0.7">2-M5</text>
<line x1="230" y1="895" x2="230" y2="1025" stroke="#222" stroke-width="3.87"/>
<line x1="335" y1="895" x2="335" y2="1025" stroke="#222" stroke-width="3.87"/>
<line x1="230" y1="1018" x2="335" y2="1018" stroke="#222" stroke-width="4.3"/>
<polygon points="230,1018 245.0,1014.8 245.0,1021.2" fill="#222"/>
<polygon points="335,1018 320.0,1021.2 320.0,1014.8" fill="#222"/>
<text x="283" y="1008" font-size="24.5" text-anchor="middle" fill="#111" stroke="#111" stroke-width="0.7">21 ± 0.2</text>
<line x1="208" y1="902" x2="208" y2="1080" stroke="#222" stroke-width="3.87"/>
<line x1="352" y1="902" x2="352" y2="1080" stroke="#222" stroke-width="3.87"/>
<line x1="208" y1="1072" x2="352" y2="1072" stroke="#222" stroke-width="4.3"/>
<polygon points="208,1072 223.0,1068.8 223.0,1075.2" fill="#222"/>
<polygon points="352,1072 337.0,1075.2 337.0,1068.8" fill="#222"/>
<text x="280" y="1062" font-size="24.5" text-anchor="middle" fill="#111" stroke="#111" stroke-width="0.7">29.00</text>
<line x1="650" y1="35" x2="650" y2="1082" stroke="#222" stroke-width="4.3"/>
<polyline points="650,612 531,612 525,618 525,890 613,890 613,748" fill="none" stroke="#222" stroke-width="4.3"/>
<line x1="525" y1="665" x2="548" y2="665" stroke="#222" stroke-width="4.3"/>
<line x1="548" y1="612" x2="548" y2="792" stroke="#222" stroke-width="4.3"/>
<path d="M548,665 C584,673 613,706 613,748" fill="none" stroke="#222" stroke-width="4.3"/>
<path d="M525,618 L519,618 Q515,618 515,623 L515,645 Q515,650 525,650" fill="none" stroke="#222" stroke-width="4.3"/>
<path d="M525,859 L519,859 Q515,859 515,865 L515,887 L525,887" fill="none" stroke="#222" stroke-width="4.3"/>
<polyline points="536,890 536,918 612,918 612,890" fill="none" stroke="#222" stroke-width="4.3"/>
<path d="M550,920 L541,926 Q535,930 541,935 L550,941 M597,920 L606,926 Q612,930 606,935 L597,941 M550,941 L597,941 M541,926 L606,926 M541,935 L606,935 M550,941 L541,947 Q535,951 541,956 L550,962 M597,941 L606,947 Q612,951 606,956 L597,962 M550,962 L597,962 M541,947 L606,947 M541,955 L606,955 M550,962 L541,967 Q535,972 541,976 L550,982 M597,962 L606,967 Q612,972 606,976 L597,982 M550,982 L597,982 M541,968 L606,968 M541,976 L606,976 " fill="none" stroke="#222" stroke-width="3.87"/>
<path d="M550,982 L542,987 L542,997 Q542,1003 552,1003 L595,1003 Q605,1003 605,997 L605,987 L597,982" fill="none" stroke="#222" stroke-width="4.3"/>
<line x1="598" y1="35" x2="598" y2="150" stroke="#222" stroke-width="3.44"/>
<line x1="598" y1="45" x2="650" y2="45" stroke="#222" stroke-width="4.3"/>
<polygon points="598,45 613.0,41.8 613.0,48.2" fill="#222"/>
<polygon points="650,45 635.0,48.2 635.0,41.8" fill="#222"/>
<text x="624" y="35" font-size="24.5" text-anchor="middle" fill="#111" stroke="#111" stroke-width="0.7">10.70</text>
<line x1="515" y1="100" x2="590" y2="100" stroke="#222" stroke-width="4.3"/>
<polygon points="590,100 575.0,103.2 575.0,96.8" fill="#222"/>
<line x1="606" y1="100" x2="672" y2="100" stroke="#222" stroke-width="4.3"/>
<polygon points="606,100 621.0,96.8 621.0,103.2" fill="#222"/>
<text x="540" y="92" font-size="24.5" text-anchor="middle" fill="#111" stroke="#111" stroke-width="0.7">3</text>
<line x1="510" y1="290" x2="583" y2="290" stroke="#222" stroke-width="4.3"/>
<polygon points="583,290 568.0,293.2 568.0,286.8" fill="#222"/>
<line x1="613" y1="290" x2="682" y2="290" stroke="#222" stroke-width="4.3"/>
<polygon points="613,290 628.0,286.8 628.0,293.2" fill="#222"/>
<text x="535" y="280" font-size="24.5" text-anchor="middle" fill="#111" stroke="#111" stroke-width="0.7">5.8</text>
<line x1="594" y1="88" x2="594" y2="150" stroke="#222" stroke-width="4.3"/>
<line x1="602" y1="88" x2="602" y2="150" stroke="#222" stroke-width="4.3"/>
<path d="M590,150 L583,350 M606,150 L613,350 M590,150 L606,150" fill="none" stroke="#222" stroke-width="4.3"/>
<line x1="598" y1="150" x2="598" y2="350" stroke="#222" stroke-width="3.44"/>
<rect x="583" y="350" width="30" height="185" rx="0" fill="#fff" stroke="#222" stroke-width="4.3"/>
<line x1="598" y1="350" x2="598" y2="535" stroke="#3a3a3a" stroke-width="28" stroke-dasharray="3 3"/>
<path d="M555,612 L555,574 Q555,560 569,560 L627,560 Q641,560 641,574 L641,612" fill="none" stroke="#222" stroke-width="4.3"/>
<rect x="569" y="535" width="58" height="25" rx="5" fill="none" stroke="#222" stroke-width="4.3"/>
<line x1="572" y1="548" x2="624" y2="548" stroke="#222" stroke-width="3.44"/>
<line x1="548" y1="752" x2="650" y2="752" stroke="#222" stroke-width="4.3"/>
<polygon points="548,752 563.1,748.8 563.1,755.2" fill="#222"/>
<polygon points="650,752 635.0,755.2 635.0,748.8" fill="#222"/>
<text x="590" y="742" font-size="24.5" text-anchor="middle" fill="#111" stroke="#111" stroke-width="0.7">20.3</text>
<line x1="655" y1="612" x2="745" y2="612" stroke="#222" stroke-width="4.3"/>
<line x1="610" y1="915" x2="745" y2="915" stroke="#222" stroke-width="4.3"/>
<line x1="610" y1="1003" x2="745" y2="1003" stroke="#222" stroke-width="4.3"/>
<line x1="718" y1="612" x2="718" y2="915" stroke="#222" stroke-width="4.3"/>
<polygon points="718,612 721.2,627.0 714.8,627.0" fill="#222"/>
<polygon points="718,915 714.8,900.0 721.2,900.0" fill="#222"/>
<text x="704" y="770" font-size="24.5" text-anchor="middle" fill="#111" stroke="#111" stroke-width="0.7" transform="rotate(-90 704 770)">63.90</text>
<line x1="718" y1="917" x2="718" y2="1003" stroke="#222" stroke-width="4.3"/>
<polygon points="718,917 721.2,932.0 714.8,932.0" fill="#222"/>
<polygon points="718,1003 714.8,988.0 721.2,988.0" fill="#222"/>
<text x="704" y="962" font-size="24.5" text-anchor="middle" fill="#111" stroke="#111" stroke-width="0.7" transform="rotate(-90 704 962)">16.70</text>
<text x="625" y="955" font-size="22" text-anchor="middle" fill="#111" stroke="#111" stroke-width="0.7">7.40</text>
<line x1="608" y1="960" x2="640" y2="960" stroke="#222" stroke-width="4.3"/>
<line x1="574" y1="890" x2="574" y2="1040" stroke="#222" stroke-width="3.44"/>
<line x1="574" y1="1035" x2="650" y2="1035" stroke="#222" stroke-width="4.3"/>
<polygon points="574,1035 588.7,1031.8 588.7,1038.2" fill="#222"/>
<polygon points="650,1035 635.0,1038.2 635.0,1031.8" fill="#222"/>
<text x="612" y="1030" font-size="24.5" text-anchor="middle" fill="#111" stroke="#111" stroke-width="0.7">15.20</text>
<line x1="515" y1="900" x2="515" y2="1082" stroke="#222" stroke-width="4.3"/>
<line x1="515" y1="1075" x2="650" y2="1075" stroke="#222" stroke-width="4.3"/>
<polygon points="515,1075 530.0,1071.8 530.0,1078.2" fill="#222"/>
<polygon points="650,1075 635.0,1078.2 635.0,1071.8" fill="#222"/>
<text x="585" y="1065" font-size="24.5" text-anchor="middle" fill="#111" stroke="#111" stroke-width="0.7">26.90</text>
</svg>
<svg width="1000" height="1343" style="left:0;top:0" viewBox="0 0 1000 1343">
<polygon points="620.1,948.2 629.3,938.5 637.7,936.5 649.1,923.4 655.4,918.7 661.2,920.5 729.3,982.0 731.7,991.4 741.8,999.6 739.8,1004.8 723.2,1026.2 706.4,1039.6 620.8,968.1" fill="#62a8dd" />
<polygon points="620.1,948.2 626.8,942.8 629.9,955.7 632.1,962.4 649.1,981.1 698.8,1024.9 706.4,1028.5 723.2,1026.2 706.4,1039.6 620.8,968.1" fill="#4f96cf" />
<polygon points="629.3,943.5 637.3,944.4 631.9,955.4 634.8,964.4 641.8,974.3 697.0,1022.8 698.7,1024.1 648.9,979.6 631.8,960.1" fill="#80bee9" />
<circle cx="629.4" cy="947.4" r="1.7" fill="#1c2a3a"/>
<circle cx="655.9" cy="924.0" r="1.7" fill="#1c2a3a"/>
<circle cx="705.9" cy="1024.6" r="1.7" fill="#1c2a3a"/>
<path d="M613.5,936.5 Q612.5,934.5 614.0,931.2 L616.0,926.8 Q617.5,923.5 620.4,922.0 L624.1,920.0 Q627.0,918.5 629.9,919.0 L633.6,919.7 Q636.5,920.2 638.3,921.7 L640.7,923.6 Q642.5,925.0 640.7,927.1 L638.3,929.9 Q636.5,932.0 635.6,933.7 L634.4,936.0 Q633.5,937.8 630.6,939.7 L626.7,942.3 Q623.8,944.2 621.4,943.3 L618.1,942.0 Q615.8,941.0 614.8,939.0 Z" fill="#161618" />
<ellipse cx="627.5" cy="924.5" rx="7.5" ry="3.5" fill="#2a2a2d" transform="rotate(-40 627.5 924.5)" />
<path d="M630.1,954.4 Q629.9,953.6 630.6,952.7 L636.3,945.5 Q637.0,944.6 636.6,943.5 L633.6,935.2 Q633.2,934.2 634.5,932.7 L644.6,921.5 Q645.9,920.1 646.2,920.4 L648.7,923.1 Q649.1,923.4 649.4,923.8 L652.0,926.9 Q652.3,927.3 652.7,927.5 L655.9,929.3 Q656.3,929.6 657.0,929.0 L663.2,924.3 Q664.0,923.7 664.4,923.1 L667.4,918.1 Q667.8,917.5 668.3,917.5 L672.7,917.5 Q673.3,917.5 679.4,923.2 L728.1,968.8 Q734.2,974.5 734.1,975.1 L734.0,979.5 Q734.0,980.1 733.8,981.2 L731.9,990.0 Q731.6,991.1 730.2,992.8 L719.0,1007.0 Q717.6,1008.8 716.3,1009.8 L705.8,1017.7 Q704.5,1018.7 703.7,1019.3 L696.8,1024.1 Q696.0,1024.7 690.5,1019.8 L646.9,980.8 Q641.4,976.0 640.4,974.5 L632.8,962.8 Q631.8,961.4 631.6,960.6 Z" fill="#161618" />
<path d="M642.1,952.0 Q638.5,948.5 640.6,946.7 L670.6,920.5 Q672.7,918.7 676.3,922.0 L729.2,970.9 Q732.9,974.3 730.7,976.3 L699.8,1005.5 Q697.6,1007.5 694.1,1003.9 Z" fill="#27272a" />
<path d="M706.8,1002.5 Q706.7,998.6 710.2,995.8 L717.2,990.0 Q720.7,987.2 722.7,987.9 L726.9,989.2 Q728.9,989.9 731.0,992.1 L735.2,996.6 Q737.3,998.9 733.1,1004.4 L724.5,1015.4 Q720.2,1021.0 718.1,1020.9 L714.0,1020.7 Q711.9,1020.6 710.7,1019.0 L708.3,1015.8 Q707.1,1014.3 707.0,1010.3 Z" fill="#131315" />
<path d="M720.1,1009.6 Q716.9,1004.2 719.3,1001.9 L724.1,997.3 Q726.5,995.0 732.5,999.2 L744.3,1007.7 Q750.3,1011.9 751.7,1013.5 L754.5,1016.6 Q755.9,1018.1 755.9,1020.5 L755.8,1025.2 Q755.8,1027.6 753.8,1029.0 L750.0,1031.9 Q748.0,1033.4 745.8,1032.9 L741.3,1032.0 Q739.1,1031.6 736.7,1030.1 L732.0,1027.3 Q729.6,1025.9 726.4,1020.5 Z" fill="#0e0e10" />
<ellipse cx="722.9" cy="1002.1" rx="11.5" ry="4.7" fill="#111113" transform="rotate(-46.4 722.9 1002.1)"/>
<ellipse cx="723.5" cy="1000.6" rx="9.2" ry="1.4" fill="#343437" transform="rotate(-46.4 723.5 1000.6)"/>
<ellipse cx="729.1" cy="1009.2" rx="13.0" ry="5.0" fill="#111113" transform="rotate(-46.4 729.1 1009.2)"/>
<ellipse cx="729.7" cy="1007.7" rx="10.4" ry="1.5" fill="#343437" transform="rotate(-46.4 729.7 1007.7)"/>
<ellipse cx="735.4" cy="1014.2" rx="12.7" ry="5.0" fill="#111113" transform="rotate(-46.4 735.4 1014.2)"/>
<ellipse cx="736.0" cy="1012.7" rx="10.2" ry="1.5" fill="#343437" transform="rotate(-46.4 736.0 1012.7)"/>
<ellipse cx="742.3" cy="1020.6" rx="13.4" ry="6.2" fill="#111113" transform="rotate(-46.4 742.3 1020.6)"/>
<ellipse cx="742.9" cy="1019.1" rx="10.7" ry="1.9" fill="#343437" transform="rotate(-46.4 742.9 1019.1)"/>
<ellipse cx="747.1" cy="1025.2" rx="11.6" ry="8.9" fill="#1d1d20" transform="rotate(-46.4 747.1 1025.2)"/>
<ellipse cx="747.7" cy="1026.0" rx="6.7" ry="5.0" fill="#050506" transform="rotate(-46.4 747.1 1025.2)"/>
<path d="M653.6,962.2 Q651.5,960.4 653.3,959.0 L680.0,938.8 Q681.8,937.4 684.0,939.0 L716.2,961.9 Q718.4,963.5 716.5,965.2 L689.4,989.8 Q687.5,991.5 685.4,989.7 Z" fill="#222225" stroke="#0a0a0b" stroke-width="0.70"/>
<g transform="matrix(0.7976 -0.6032 0.7570 0.6535 651.47 960.38)">
<text x="5.7" y="6.2" font-size="5.24" fill="#2a66d0" textLength="28.5" lengthAdjust="spacingAndGlyphs" font-weight="bold">CHNANMA</text>
<text x="4.6" y="12.4" font-size="6.67" fill="#f4f4f4" textLength="28.1" lengthAdjust="spacingAndGlyphs" font-weight="bold" font-style="italic">NM-8167</text>
<text x="2.3" y="17.4" font-size="5.48" fill="#f0f0f0" textLength="33.8" lengthAdjust="spacingAndGlyphs" font-weight="bold">LIMIT SWITCH</text>
<line x1="0.0" y1="19.3" x2="38.0" y2="19.3" stroke="#d8d8d8" stroke-width="0.57"/>
<text x="1.9" y="23.1" font-size="3.91" fill="#e4e4e4" textLength="20.9" lengthAdjust="spacingAndGlyphs" font-weight="bold">Ui:380V Ith:10A</text>
<text x="25.1" y="23.1" font-size="3.91" fill="#e4e4e4" textLength="11.8" lengthAdjust="spacingAndGlyphs" font-weight="bold">IP65</text>
<text x="1.9" y="26.9" font-size="3.91" fill="#e4e4e4" textLength="20.9" lengthAdjust="spacingAndGlyphs" font-weight="bold">AC-15 Ue:250V</text>
<text x="25.1" y="26.9" font-size="3.91" fill="#e4e4e4" textLength="11.8" lengthAdjust="spacingAndGlyphs" font-weight="bold">Ie:1.5A</text>
<text x="1.9" y="30.7" font-size="3.91" fill="#e4e4e4" textLength="20.9" lengthAdjust="spacingAndGlyphs" font-weight="bold">DC-13 Ue:220V</text>
<text x="25.1" y="30.7" font-size="3.91" fill="#e4e4e4" textLength="11.8" lengthAdjust="spacingAndGlyphs" font-weight="bold">Ie:0.3A</text>
<text x="1.9" y="34.6" font-size="3.91" fill="#e4e4e4" textLength="16.0" lengthAdjust="spacingAndGlyphs" font-weight="bold">NO(13,14)NO</text>
<text x="20.1" y="34.6" font-size="3.91" fill="#e4e4e4" textLength="16.7" lengthAdjust="spacingAndGlyphs" font-weight="bold">GB14048.5</text>
<text x="1.9" y="38.4" font-size="3.91" fill="#e4e4e4" textLength="16.0" lengthAdjust="spacingAndGlyphs" font-weight="bold">NC(11,12)NC</text>
<line x1="0.0" y1="41.7" x2="38.0" y2="41.7" stroke="#d8d8d8" stroke-width="0.57"/>
</g>
<circle cx="643.0" cy="930.2" r="5.1" fill="#c4c4c6" stroke="#3a3a3a" stroke-width="0.5"/>
<circle cx="642.3" cy="929.4" r="3.2" fill="#ededee"/>
<path d="M640.2,931.2 L645.8,929.2 M642.0,927.4 L644.0,933.0" stroke="#4a4a4a" stroke-width="1.2" fill="none"/>
<circle cx="725.1" cy="972.7" r="5.1" fill="#c4c4c6" stroke="#3a3a3a" stroke-width="0.5"/>
<circle cx="724.4" cy="971.9" r="3.2" fill="#ededee"/>
<path d="M722.3,973.7 L727.9,971.7 M724.1,969.9 L726.1,975.5" stroke="#4a4a4a" stroke-width="1.2" fill="none"/>
<circle cx="697.9" cy="997.9" r="5.1" fill="#c4c4c6" stroke="#3a3a3a" stroke-width="0.5"/>
<circle cx="697.2" cy="997.1" r="3.2" fill="#ededee"/>
<path d="M695.1,998.9 L700.7,996.8 M696.9,995.0 L698.9,1000.7" stroke="#4a4a4a" stroke-width="1.2" fill="none"/>
<line x1="533.0" y1="857.8" x2="617.8" y2="924.5" stroke="#8c8c8c" stroke-width="6.75" />
<line x1="533.0" y1="857.8" x2="617.8" y2="924.5" stroke="#d2d2d2" stroke-width="3.04" />
<line x1="533.0" y1="857.8" x2="617.8" y2="924.5" stroke="#555" stroke-width="6.75" stroke-dasharray="0.5 1.1" opacity="0.45"/>
</svg>
<svg x="0" y="0" width="220" height="240" style="left:770px;top:834px" viewBox="0 0 1000 1091">
<rect x="268" y="578" width="137" height="294" rx="6" fill="none" stroke="#222" stroke-width="4.3"/>
<polyline points="308,578 308,618 268,618" fill="none" stroke="#222" stroke-width="4.3"/>
<polyline points="365,578 365,618 405,618" fill="none" stroke="#222" stroke-width="4.3"/>
<circle cx="288" cy="598" r="10" fill="none" stroke="#222" stroke-width="4.3"/>
<circle cx="385" cy="598" r="10" fill="none" stroke="#222" stroke-width="4.3"/>
<circle cx="336" cy="598" r="13" fill="none" stroke="#222" stroke-width="4.3"/>
<circle cx="336" cy="598" r="7" fill="none" stroke="#222" stroke-width="3.44"/>
<line x1="327" y1="598" x2="346" y2="598" stroke="#222" stroke-width="3.87"/>
<line x1="336" y1="588" x2="336" y2="608" stroke="#222" stroke-width="3.87"/>
<rect x="283" y="680" width="107" height="120" rx="9" fill="none" stroke="#222" stroke-width="4.3"/>
<circle cx="288" cy="825" r="12" fill="none" stroke="#222" stroke-width="4.3"/>
<line x1="279" y1="825" x2="297" y2="825" stroke="#222" stroke-width="3.87"/>
<line x1="288" y1="816" x2="288" y2="834" stroke="#222" stroke-width="3.87"/>
<circle cx="288" cy="825" r="6" fill="none" stroke="#222" stroke-width="3.01"/>
<circle cx="288" cy="858" r="10" fill="none" stroke="#222" stroke-width="4.3"/>
<circle cx="385" cy="825" r="12" fill="none" stroke="#222" stroke-width="4.3"/>
<line x1="376" y1="825" x2="394" y2="825" stroke="#222" stroke-width="3.87"/>
<line x1="385" y1="816" x2="385" y2="834" stroke="#222" stroke-width="3.87"/>
<circle cx="385" cy="825" r="6" fill="none" stroke="#222" stroke-width="3.01"/>
<circle cx="385" cy="858" r="10" fill="none" stroke="#222" stroke-width="4.3"/>
<line x1="268" y1="842" x2="405" y2="842" stroke="#222" stroke-width="4.3"/>
<line x1="300" y1="842" x2="300" y2="872" stroke="#222" stroke-width="4.3"/>
<line x1="373" y1="842" x2="373" y2="872" stroke="#222" stroke-width="4.3"/>
<path d="M311,874 L302,880 Q295,884 302,889 L311,894 M362,874 L371,880 Q378,884 371,889 L362,894 M311,894 L362,894 M302,880 L371,880 M302,888 L371,888 M311,894 L302,900 Q295,904 302,909 L311,914 M362,894 L371,900 Q378,904 371,909 L362,914 M311,914 L362,914 M302,900 L371,900 M302,908 L371,908 M311,914 L302,920 Q295,925 302,929 L311,935 M362,914 L371,920 Q378,925 371,929 L362,935 M311,935 L362,935 M302,921 L371,921 M302,929 L371,929 " fill="none" stroke="#222" stroke-width="3.87"/>
<path d="M311,935 L303,939 L303,949 Q303,955 314,955 L359,955 Q370,955 370,949 L370,939 L362,935" fill="none" stroke="#222" stroke-width="4.3"/>
<path d="M291,578 L291,544 Q291,530 305,530 L371,530 Q385,530 385,544 L385,578" fill="none" stroke="#222" stroke-width="4.3"/>
<rect x="307" y="505" width="62" height="25" rx="5" fill="none" stroke="#222" stroke-width="4.3"/>
<line x1="310" y1="518" x2="366" y2="518" stroke="#222" stroke-width="3.44"/>
<rect x="322" y="135" width="33" height="370" rx="6" fill="#fff" stroke="#222" stroke-width="4.3"/>
<line x1="338" y1="140" x2="338" y2="505" stroke="#555" stroke-width="29" stroke-dasharray="3 4"/>
<line x1="355" y1="135" x2="512" y2="135" stroke="#222" stroke-width="4.3"/>
<line x1="405" y1="595" x2="512" y2="595" stroke="#222" stroke-width="4.3"/>
<line x1="497" y1="135" x2="497" y2="595" stroke="#222" stroke-width="4.3"/>
<polygon points="497,135 500.2,150.0 493.8,150.0" fill="#222"/>
<polygon points="497,595 493.8,580.0 500.2,580.0" fill="#222"/>
<text x="483" y="355" font-size="24.5" text-anchor="middle" fill="#111" stroke="#111" stroke-width="0.7" transform="rotate(-90 483 355)">100 ± 1.5</text>
<line x1="472" y1="598" x2="472" y2="858" stroke="#222" stroke-width="4.3"/>
<polygon points="472,598 475.2,613.0 468.8,613.0" fill="#222"/>
<polygon points="472,858 468.8,843.0 475.2,843.0" fill="#222"/>
<text x="458" y="745" font-size="24.5" text-anchor="middle" fill="#111" stroke="#111" stroke-width="0.7" transform="rotate(-90 458 745)">56.03</text>
<line x1="400" y1="858" x2="486" y2="858" stroke="#222" stroke-width="4.3"/>
<polyline points="140,842 255,842 280,858" fill="none" stroke="#222" stroke-width="4.3"/>
<polygon points="280,858 265.6,852.6 269.1,847.2" fill="#222"/>
<text x="195" y="832" font-size="24.5" text-anchor="middle" fill="#111" stroke="#111" stroke-width="0.7">2- ø 4.1</text>
<text x="243" y="822" font-size="11" text-anchor="middle" fill="#111" stroke="#111" stroke-width="0.7">+0.1</text>
<polyline points="397,832 422,882 485,882" fill="none" stroke="#222" stroke-width="4.3"/>
<polygon points="397,832 405.5,842.3 400.1,845.0" fill="#222"/>
<text x="458" y="888" font-size="24.5" text-anchor="middle" fill="#111" stroke="#111" stroke-width="0.7">M3x6</text>
<polyline points="397,865 420,925 520,925" fill="none" stroke="#222" stroke-width="4.3"/>
<polygon points="397,865 404.5,876.1 398.9,878.2" fill="#222"/>
<text x="472" y="930" font-size="24.5" text-anchor="middle" fill="#111" stroke="#111" stroke-width="0.7">2-M3x23</text>
<line x1="288" y1="870" x2="288" y2="1008" stroke="#222" stroke-width="3.87"/>
<line x1="388" y1="870" x2="388" y2="1008" stroke="#222" stroke-width="3.87"/>
<line x1="288" y1="1000" x2="388" y2="1000" stroke="#222" stroke-width="4.3"/>
<polygon points="288,1000 303.0,996.8 303.0,1003.2" fill="#222"/>
<polygon points="388,1000 373.0,1003.2 373.0,996.8" fill="#222"/>
<text x="338" y="990" font-size="24.5" text-anchor="middle" fill="#111" stroke="#111" stroke-width="0.7">21 ± 0.2</text>
<line x1="268" y1="878" x2="268" y2="1058" stroke="#222" stroke-width="3.87"/>
<line x1="405" y1="878" x2="405" y2="1058" stroke="#222" stroke-width="3.87"/>
<line x1="268" y1="1048" x2="405" y2="1048" stroke="#222" stroke-width="4.3"/>
<polygon points="268,1048 283.0,1044.8 283.0,1051.2" fill="#222"/>
<polygon points="405,1048 390.0,1051.2 390.0,1044.8" fill="#222"/>
<text x="336" y="1038" font-size="24.5" text-anchor="middle" fill="#111" stroke="#111" stroke-width="0.7">29.00</text>
<line x1="675" y1="62" x2="675" y2="1078" stroke="#222" stroke-width="4.3"/>
<polyline points="675,620 556,620 550,626 550,880 638,880 638,745" fill="none" stroke="#222" stroke-width="4.3"/>
<line x1="550" y1="668" x2="573" y2="668" stroke="#222" stroke-width="4.3"/>
<line x1="573" y1="620" x2="573" y2="787" stroke="#222" stroke-width="4.3"/>
<path d="M573,668 C609,676 638,706 638,745" fill="none" stroke="#222" stroke-width="4.3"/>
<path d="M550,625 L544,625 Q540,625 540,630 L540,651 Q540,655 550,655" fill="none" stroke="#222" stroke-width="4.3"/>
<path d="M550,851 L544,851 Q540,851 540,857 L540,877 L550,877" fill="none" stroke="#222" stroke-width="4.3"/>
<polyline points="561,880 561,912 637,912 637,880" fill="none" stroke="#222" stroke-width="4.3"/>
<path d="M575,914 L566,919 Q560,924 566,928 L575,933 M622,914 L631,919 Q637,924 631,928 L622,933 M575,933 L622,933 M566,920 L631,920 M566,927 L631,927 M575,933 L566,938 Q560,942 566,947 L575,952 M622,933 L631,938 Q637,942 631,947 L622,952 M575,952 L622,952 M566,939 L631,939 M566,946 L631,946 M575,952 L566,957 Q560,962 566,966 L575,971 M622,952 L631,957 Q637,962 631,966 L622,971 M575,971 L622,971 M566,958 L631,958 M566,965 L631,965 " fill="none" stroke="#222" stroke-width="3.87"/>
<path d="M575,971 L567,975 L567,984 Q567,990 577,990 L620,990 Q630,990 630,984 L630,975 L622,971" fill="none" stroke="#222" stroke-width="4.3"/>
<line x1="628" y1="62" x2="628" y2="200" stroke="#222" stroke-width="3.44"/>
<line x1="580" y1="72" x2="628" y2="72" stroke="#222" stroke-width="4.3"/>
<polygon points="628,72 613.0,75.2 613.0,68.8" fill="#222"/>
<line x1="675" y1="72" x2="765" y2="72" stroke="#222" stroke-width="4.3"/>
<polygon points="675,72 690.0,68.8 690.0,75.2" fill="#222"/>
<text x="728" y="62" font-size="24.5" text-anchor="middle" fill="#111" stroke="#111" stroke-width="0.7">10.20</text>
<rect x="613" y="175" width="32" height="365" rx="8" fill="#fff" stroke="#222" stroke-width="4.3"/>
<line x1="629" y1="180" x2="629" y2="540" stroke="#555" stroke-width="28" stroke-dasharray="3 4"/>
<polyline points="550,315 600,315 615,336" fill="none" stroke="#222" stroke-width="4.3"/>
<text x="578" y="305" font-size="24.5" text-anchor="middle" fill="#111" stroke="#111" stroke-width="0.7">ø 1.2</text>
<path d="M584,620 L584,574 Q584,560 598,560 L658,560 Q672,560 672,574 L672,620" fill="none" stroke="#222" stroke-width="4.3"/>
<rect x="600" y="540" width="56" height="20" rx="5" fill="none" stroke="#222" stroke-width="4.3"/>
<line x1="603" y1="550" x2="653" y2="550" stroke="#222" stroke-width="3.44"/>
<line x1="573" y1="752" x2="675" y2="752" stroke="#222" stroke-width="4.3"/>
<polygon points="573,752 588.1,748.8 588.1,755.2" fill="#222"/>
<polygon points="675,752 660.0,755.2 660.0,748.8" fill="#222"/>
<text x="625" y="740" font-size="22" text-anchor="middle" fill="#111" stroke="#111" stroke-width="0.7">20.4 ±0.3</text>
<line x1="680" y1="622" x2="770" y2="622" stroke="#222" stroke-width="4.3"/>
<line x1="640" y1="912" x2="770" y2="912" stroke="#222" stroke-width="4.3"/>
<line x1="640" y1="990" x2="770" y2="990" stroke="#222" stroke-width="4.3"/>
<line x1="735" y1="622" x2="735" y2="912" stroke="#222" stroke-width="4.3"/>
<polygon points="735,622 738.2,637.0 731.8,637.0" fill="#222"/>
<polygon points="735,912 731.8,897.0 738.2,897.0" fill="#222"/>
<text x="728" y="768" font-size="24.5" text-anchor="middle" fill="#111" stroke="#111" stroke-width="0.7" transform="rotate(-90 728 768)">64</text>
<line x1="735" y1="914" x2="735" y2="990" stroke="#222" stroke-width="4.3"/>
<polygon points="735,914 738.2,929.0 731.8,929.0" fill="#222"/>
<polygon points="735,990 731.8,975.0 738.2,975.0" fill="#222"/>
<text x="728" y="955" font-size="24.5" text-anchor="middle" fill="#111" stroke="#111" stroke-width="0.7" transform="rotate(-90 728 955)">14</text>
<path d="M677,858 Q700,880 722,880 L850,880" fill="none" stroke="#222" stroke-width="4.3"/>
<text x="795" y="870" font-size="20" text-anchor="middle" fill="#111" stroke="#111" stroke-width="0.7">2-M5/P-0.8</text>
<text x="650" y="945" font-size="22" text-anchor="middle" fill="#111" stroke="#111" stroke-width="0.7">7.40</text>
<line x1="632" y1="950" x2="662" y2="950" stroke="#222" stroke-width="4.3"/>
<line x1="599" y1="880" x2="599" y2="1030" stroke="#222" stroke-width="3.44"/>
<line x1="599" y1="1025" x2="675" y2="1025" stroke="#222" stroke-width="4.3"/>
<polygon points="599,1025 613.7,1021.8 613.7,1028.2" fill="#222"/>
<polygon points="675,1025 660.0,1028.2 660.0,1021.8" fill="#222"/>
<text x="655" y="1020" font-size="24.5" text-anchor="middle" fill="#111" stroke="#111" stroke-width="0.7">15.10</text>
<line x1="540" y1="890" x2="540" y2="1078" stroke="#222" stroke-width="4.3"/>
<line x1="540" y1="1068" x2="675" y2="1068" stroke="#222" stroke-width="4.3"/>
<polygon points="540,1068 555.0,1064.8 555.0,1071.2" fill="#222"/>
<polygon points="675,1068 660.0,1071.2 660.0,1064.8" fill="#222"/>
<text x="610" y="1060" font-size="24.5" text-anchor="middle" fill="#111" stroke="#111" stroke-width="0.7">26.90</text>
</svg>
<svg width="1000" height="1343" style="left:0;top:0" viewBox="0 0 1000 1343">
<polygon points="121.5,1223.2 130.3,1214.2 138.2,1212.4 149.1,1200.2 155.2,1195.8 160.6,1197.6 224.8,1256.1 227.0,1265.0 236.6,1272.8 234.6,1277.7 218.8,1297.7 202.7,1310.1 122.0,1242.0" fill="#62a8dd" />
<polygon points="121.5,1223.2 127.9,1218.2 130.7,1230.4 132.8,1236.7 148.8,1254.5 195.7,1296.2 202.9,1299.6 218.8,1297.7 202.7,1310.1 122.0,1242.0" fill="#4f96cf" />
<polygon points="130.2,1218.9 137.8,1219.8 132.6,1230.1 135.3,1238.6 141.9,1248.1 193.9,1294.2 195.6,1295.5 148.6,1253.1 132.5,1234.6" fill="#80bee9" />
<circle cx="130.3" cy="1222.6" r="1.6" fill="#1c2a3a"/>
<circle cx="155.6" cy="1200.8" r="1.6" fill="#1c2a3a"/>
<circle cx="202.3" cy="1296.0" r="1.6" fill="#1c2a3a"/>
<path d="M114.5,1212.6 Q114.0,1209.2 116.0,1205.9 L118.5,1201.4 Q120.5,1198.0 123.3,1196.8 L127.2,1195.2 Q130.0,1194.0 132.8,1194.8 L136.7,1195.8 Q139.5,1196.5 141.8,1198.4 L144.8,1200.9 Q147.0,1202.8 144.3,1204.8 L140.7,1207.7 Q138.0,1209.8 136.1,1211.5 L133.4,1213.8 Q131.5,1215.5 128.7,1218.4 L124.8,1222.3 Q122.0,1225.2 120.0,1223.8 L117.5,1221.9 Q115.5,1220.5 115.0,1217.1 Z" fill="#161618" />
<ellipse cx="130.5" cy="1200.5" rx="7.5" ry="3.5" fill="#2a2a2d" transform="rotate(-40 130.5 1200.5)" />
<path d="M130.9,1229.2 Q130.7,1228.5 131.4,1227.6 L136.9,1220.9 Q137.5,1220.0 137.2,1219.0 L134.4,1211.1 Q134.0,1210.2 135.2,1208.9 L144.9,1198.4 Q146.1,1197.0 146.4,1197.4 L148.8,1199.9 Q149.1,1200.2 149.4,1200.6 L151.8,1203.5 Q152.2,1203.9 152.5,1204.1 L155.5,1205.8 Q155.9,1206.1 156.6,1205.5 L162.5,1201.2 Q163.3,1200.6 163.6,1200.1 L166.5,1195.4 Q166.9,1194.8 167.4,1194.8 L171.6,1194.9 Q172.1,1194.9 177.8,1200.3 L223.7,1243.7 Q229.5,1249.2 229.4,1249.7 L229.3,1253.8 Q229.3,1254.3 229.1,1255.4 L227.2,1263.7 Q226.9,1264.7 225.6,1266.3 L214.9,1279.6 Q213.6,1281.2 212.3,1282.2 L202.3,1289.5 Q201.1,1290.4 200.3,1291.0 L193.8,1295.4 Q193.0,1295.9 187.8,1291.3 L146.7,1254.2 Q141.5,1249.6 140.6,1248.2 L133.4,1237.1 Q132.5,1235.7 132.3,1235.0 Z" fill="#161618" />
<path d="M142.3,1227.0 Q139.0,1223.7 140.9,1222.0 L169.6,1197.7 Q171.5,1196.0 174.9,1199.2 L224.8,1245.7 Q228.2,1248.9 226.2,1250.7 L196.6,1277.9 Q194.6,1279.8 191.3,1276.4 Z" fill="#27272a" />
<path d="M203.3,1275.2 Q203.3,1271.6 206.6,1268.9 L213.3,1263.6 Q216.6,1260.9 218.5,1261.6 L222.4,1262.9 Q224.4,1263.6 226.4,1265.7 L230.3,1270.0 Q232.3,1272.1 228.2,1277.2 L220.1,1287.6 Q216.0,1292.7 214.0,1292.6 L210.0,1292.4 Q208.0,1292.3 206.9,1290.8 L204.7,1287.8 Q203.6,1286.3 203.5,1282.6 Z" fill="#131315" />
<path d="M215.9,1282.0 Q212.9,1276.9 215.2,1274.7 L219.8,1270.4 Q222.1,1268.3 227.7,1272.3 L238.9,1280.4 Q244.5,1284.5 245.8,1285.9 L248.5,1288.9 Q249.8,1290.4 249.8,1292.6 L249.7,1297.1 Q249.6,1299.3 247.8,1300.6 L244.1,1303.3 Q242.2,1304.7 240.1,1304.2 L235.9,1303.3 Q233.8,1302.9 231.6,1301.5 L227.1,1298.8 Q224.8,1297.4 221.9,1292.3 Z" fill="#0e0e10" />
<ellipse cx="218.6" cy="1275.0" rx="10.9" ry="4.4" fill="#111113" transform="rotate(-45.9 218.6 1275.0)"/>
<ellipse cx="219.2" cy="1273.6" rx="8.7" ry="1.3" fill="#343437" transform="rotate(-45.9 219.2 1273.6)"/>
<ellipse cx="224.5" cy="1281.7" rx="12.3" ry="4.7" fill="#111113" transform="rotate(-45.9 224.5 1281.7)"/>
<ellipse cx="225.0" cy="1280.3" rx="9.9" ry="1.4" fill="#343437" transform="rotate(-45.9 225.0 1280.3)"/>
<ellipse cx="230.4" cy="1286.5" rx="12.0" ry="4.7" fill="#111113" transform="rotate(-45.9 230.4 1286.5)"/>
<ellipse cx="230.9" cy="1285.1" rx="9.6" ry="1.4" fill="#343437" transform="rotate(-45.9 230.9 1285.1)"/>
<ellipse cx="236.9" cy="1292.6" rx="12.6" ry="5.9" fill="#111113" transform="rotate(-45.9 236.9 1292.6)"/>
<ellipse cx="237.5" cy="1291.2" rx="10.1" ry="1.8" fill="#343437" transform="rotate(-45.9 237.5 1291.2)"/>
<ellipse cx="241.4" cy="1297.0" rx="11.0" ry="8.4" fill="#1d1d20" transform="rotate(-45.9 241.4 1297.0)"/>
<ellipse cx="242.0" cy="1297.7" rx="6.3" ry="4.7" fill="#050506" transform="rotate(-45.9 241.4 1297.0)"/>
<path d="M153.2,1236.8 Q151.1,1235.0 152.9,1233.7 L178.3,1215.0 Q180.0,1213.7 182.1,1215.2 L212.5,1237.1 Q214.6,1238.6 212.8,1240.2 L186.9,1263.1 Q185.2,1264.7 183.1,1262.9 Z" fill="#222225" stroke="#0a0a0b" stroke-width="0.66"/>
<g transform="matrix(0.8051 -0.5931 0.7536 0.6573 151.15 1235.01)">
<text x="5.4" y="5.9" font-size="4.97" fill="#2a66d0" textLength="26.9" lengthAdjust="spacingAndGlyphs" font-weight="bold">CHNANMA</text>
<text x="4.3" y="11.7" font-size="6.32" fill="#f4f4f4" textLength="26.5" lengthAdjust="spacingAndGlyphs" font-weight="bold" font-style="italic">NM-8168</text>
<text x="2.2" y="16.5" font-size="5.19" fill="#f0f0f0" textLength="31.9" lengthAdjust="spacingAndGlyphs" font-weight="bold">LIMIT SWITCH</text>
<line x1="0.0" y1="18.3" x2="35.9" y2="18.3" stroke="#d8d8d8" stroke-width="0.54"/>
<text x="1.8" y="21.9" font-size="3.70" fill="#e4e4e4" textLength="19.7" lengthAdjust="spacingAndGlyphs" font-weight="bold">Ui:380V Ith:10A</text>
<text x="23.7" y="21.9" font-size="3.70" fill="#e4e4e4" textLength="11.1" lengthAdjust="spacingAndGlyphs" font-weight="bold">IP65</text>
<text x="1.8" y="25.5" font-size="3.70" fill="#e4e4e4" textLength="19.7" lengthAdjust="spacingAndGlyphs" font-weight="bold">AC-15 Ue:250V</text>
<text x="23.7" y="25.5" font-size="3.70" fill="#e4e4e4" textLength="11.1" lengthAdjust="spacingAndGlyphs" font-weight="bold">Ie:1.5A</text>
<text x="1.8" y="29.1" font-size="3.70" fill="#e4e4e4" textLength="19.7" lengthAdjust="spacingAndGlyphs" font-weight="bold">DC-13 Ue:220V</text>
<text x="23.7" y="29.1" font-size="3.70" fill="#e4e4e4" textLength="11.1" lengthAdjust="spacingAndGlyphs" font-weight="bold">Ie:0.3A</text>
<text x="1.8" y="32.7" font-size="3.70" fill="#e4e4e4" textLength="15.1" lengthAdjust="spacingAndGlyphs" font-weight="bold">NO(13,14)NO</text>
<text x="19.0" y="32.7" font-size="3.70" fill="#e4e4e4" textLength="15.8" lengthAdjust="spacingAndGlyphs" font-weight="bold">GB14048.5</text>
<text x="1.8" y="36.3" font-size="3.70" fill="#e4e4e4" textLength="15.1" lengthAdjust="spacingAndGlyphs" font-weight="bold">NC(11,12)NC</text>
<line x1="0.0" y1="39.5" x2="35.9" y2="39.5" stroke="#d8d8d8" stroke-width="0.54"/>
</g>
<circle cx="143.3" cy="1206.6" r="4.8" fill="#c4c4c6" stroke="#3a3a3a" stroke-width="0.5"/>
<circle cx="142.7" cy="1205.8" r="3.0" fill="#ededee"/>
<path d="M140.7,1207.5 L146.0,1205.6 M142.4,1203.9 L144.3,1209.2" stroke="#4a4a4a" stroke-width="1.1" fill="none"/>
<circle cx="220.9" cy="1247.4" r="4.8" fill="#c4c4c6" stroke="#3a3a3a" stroke-width="0.5"/>
<circle cx="220.2" cy="1246.6" r="3.0" fill="#ededee"/>
<path d="M218.2,1248.3 L223.5,1246.4 M219.9,1244.7 L221.8,1250.0" stroke="#4a4a4a" stroke-width="1.1" fill="none"/>
<circle cx="195.0" cy="1270.7" r="4.8" fill="#c4c4c6" stroke="#3a3a3a" stroke-width="0.5"/>
<circle cx="194.3" cy="1270.0" r="3.0" fill="#ededee"/>
<path d="M192.3,1271.7 L197.6,1269.8 M194.0,1268.1 L195.9,1273.4" stroke="#4a4a4a" stroke-width="1.1" fill="none"/>
<line x1="67.5" y1="1161.2" x2="119.2" y2="1201.8" stroke="#8c8c8c" stroke-width="6.75" />
<line x1="67.5" y1="1161.2" x2="119.2" y2="1201.8" stroke="#d2d2d2" stroke-width="3.04" />
<line x1="67.5" y1="1161.2" x2="119.2" y2="1201.8" stroke="#555" stroke-width="6.75" stroke-dasharray="0.5 1.1" opacity="0.45"/>
<line x1="25.0" y1="1126.5" x2="67.5" y2="1161.2" stroke="#9a9a9e" stroke-width="6.75" stroke-linecap="butt"/>
<line x1="25.0" y1="1126.0" x2="67.5" y2="1160.8" stroke="#dcdcde" stroke-width="3.75" />
<line x1="25.8" y1="1125.5" x2="67.5" y2="1159.8" stroke="#fafafa" stroke-width="1.25" />
</svg>
<svg x="0" y="0" width="220" height="240" style="left:260px;top:1096px" viewBox="0 0 1000 1091">
<rect x="225" y="600" width="140" height="305" rx="6" fill="none" stroke="#222" stroke-width="4.3"/>
<polyline points="266,600 266,640 225,640" fill="none" stroke="#222" stroke-width="4.3"/>
<polyline points="324,600 324,640 365,640" fill="none" stroke="#222" stroke-width="4.3"/>
<circle cx="245" cy="620" r="11" fill="none" stroke="#222" stroke-width="4.3"/>
<circle cx="345" cy="620" r="11" fill="none" stroke="#222" stroke-width="4.3"/>
<circle cx="295" cy="620" r="14" fill="none" stroke="#222" stroke-width="4.3"/>
<circle cx="295" cy="620" r="7" fill="none" stroke="#222" stroke-width="3.44"/>
<line x1="285" y1="620" x2="305" y2="620" stroke="#222" stroke-width="3.87"/>
<line x1="295" y1="610" x2="295" y2="630" stroke="#222" stroke-width="3.87"/>
<rect x="238" y="705" width="114" height="130" rx="9" fill="none" stroke="#222" stroke-width="4.3"/>
<circle cx="245" cy="858" r="13" fill="none" stroke="#222" stroke-width="4.3"/>
<line x1="236" y1="858" x2="255" y2="858" stroke="#222" stroke-width="3.87"/>
<line x1="245" y1="848" x2="245" y2="868" stroke="#222" stroke-width="3.87"/>
<circle cx="245" cy="858" r="6" fill="none" stroke="#222" stroke-width="3.01"/>
<circle cx="245" cy="890" r="11" fill="none" stroke="#222" stroke-width="4.3"/>
<circle cx="345" cy="858" r="13" fill="none" stroke="#222" stroke-width="4.3"/>
<line x1="335" y1="858" x2="354" y2="858" stroke="#222" stroke-width="3.87"/>
<line x1="345" y1="848" x2="345" y2="868" stroke="#222" stroke-width="3.87"/>
<circle cx="345" cy="858" r="6" fill="none" stroke="#222" stroke-width="3.01"/>
<circle cx="345" cy="890" r="11" fill="none" stroke="#222" stroke-width="4.3"/>
<line x1="225" y1="875" x2="365" y2="875" stroke="#222" stroke-width="4.3"/>
<line x1="257" y1="875" x2="257" y2="905" stroke="#222" stroke-width="4.3"/>
<line x1="333" y1="875" x2="333" y2="905" stroke="#222" stroke-width="4.3"/>
<path d="M271,907 L261,913 Q255,918 261,923 L271,929 M319,907 L329,913 Q335,918 329,923 L319,929 M271,929 L319,929 M261,914 L329,914 M261,922 L329,922 M271,929 L261,935 Q255,940 261,945 L271,951 M319,929 L329,935 Q335,940 329,945 L319,951 M271,951 L319,951 M261,936 L329,936 M261,944 L329,944 M271,951 L261,957 Q255,962 261,967 L271,973 M319,951 L329,957 Q335,962 329,967 L319,973 M271,973 L319,973 M261,958 L329,958 M261,966 L329,966 " fill="none" stroke="#222" stroke-width="3.87"/>
<path d="M271,973 L262,978 L262,988 Q262,995 273,995 L317,995 Q328,995 328,988 L328,978 L319,973" fill="none" stroke="#222" stroke-width="4.3"/>
<path d="M249,600 L249,559 Q249,545 263,545 L327,545 Q341,545 341,559 L341,600" fill="none" stroke="#222" stroke-width="4.3"/>
<rect x="264" y="520" width="62" height="25" rx="5" fill="none" stroke="#222" stroke-width="4.3"/>
<line x1="267" y1="532" x2="323" y2="532" stroke="#222" stroke-width="3.44"/>
<rect x="280" y="340" width="32" height="180" rx="0" fill="#fff" stroke="#222" stroke-width="4.3"/>
<line x1="296" y1="340" x2="296" y2="520" stroke="#3a3a3a" stroke-width="30" stroke-dasharray="3 3"/>
<path d="M280,340 L280,150 Q280,135 296,135 Q312,135 312,150 L312,340" fill="none" stroke="#222" stroke-width="4.3"/>
<line x1="312" y1="135" x2="470" y2="135" stroke="#222" stroke-width="4.3"/>
<line x1="312" y1="335" x2="375" y2="335" stroke="#222" stroke-width="4.3"/>
<line x1="360" y1="135" x2="360" y2="335" stroke="#222" stroke-width="4.3"/>
<polygon points="360,135 363.2,150.0 356.8,150.0" fill="#222"/>
<polygon points="360,335 356.8,320.0 363.2,320.0" fill="#222"/>
<text x="346" y="245" font-size="24.5" text-anchor="middle" fill="#111" stroke="#111" stroke-width="0.7" transform="rotate(-90 346 245)">41.50</text>
<line x1="440" y1="135" x2="440" y2="615" stroke="#222" stroke-width="4.3"/>
<polygon points="440,135 443.2,150.0 436.8,150.0" fill="#222"/>
<polygon points="440,615 436.8,600.0 443.2,600.0" fill="#222"/>
<text x="426" y="378" font-size="24.5" text-anchor="middle" fill="#111" stroke="#111" stroke-width="0.7" transform="rotate(-90 426 378)">100 ± 1.5</text>
<line x1="365" y1="617" x2="465" y2="617" stroke="#222" stroke-width="4.3"/>
<line x1="440" y1="622" x2="440" y2="890" stroke="#222" stroke-width="4.3"/>
<polygon points="440,622 443.2,637.0 436.8,637.0" fill="#222"/>
<polygon points="440,890 436.8,875.0 443.2,875.0" fill="#222"/>
<text x="426" y="748" font-size="24.5" text-anchor="middle" fill="#111" stroke="#111" stroke-width="0.7" transform="rotate(-90 426 748)">56.00</text>
<line x1="365" y1="890" x2="455" y2="890" stroke="#222" stroke-width="4.3"/>
<polyline points="95,872 215,872 238,888" fill="none" stroke="#222" stroke-width="4.3"/>
<polygon points="238,888 223.9,882.1 227.5,876.8" fill="#222"/>
<text x="150" y="865" font-size="24.5" text-anchor="middle" fill="#111" stroke="#111" stroke-width="0.7">2- ø 4.1</text>
<text x="198" y="853" font-size="11" text-anchor="middle" fill="#111" stroke="#111" stroke-width="0.7">+0.1</text>
<polyline points="355,865 385,915 455,915" fill="none" stroke="#222" stroke-width="4.3"/>
<polygon points="355,865 364.3,874.6 359.1,877.7" fill="#222"/>
<text x="427" y="918" font-size="24.5" text-anchor="middle" fill="#111" stroke="#111" stroke-width="0.7">M3x6</text>
<polyline points="353,897 385,970 500,970" fill="none" stroke="#222" stroke-width="4.3"/>
<polygon points="353,897 361.0,907.7 355.5,910.1" fill="#222"/>
<text x="447" y="972" font-size="24.5" text-anchor="middle" fill="#111" stroke="#111" stroke-width="0.7">2-M3x23</text>
<line x1="245" y1="900" x2="245" y2="1045" stroke="#222" stroke-width="3.87"/>
<line x1="345" y1="900" x2="345" y2="1045" stroke="#222" stroke-width="3.87"/>
<line x1="245" y1="1038" x2="345" y2="1038" stroke="#222" stroke-width="4.3"/>
<polygon points="245,1038 260.0,1034.8 260.0,1041.2" fill="#222"/>
<polygon points="345,1038 330.0,1041.2 330.0,1034.8" fill="#222"/>
<text x="295" y="1028" font-size="24.5" text-anchor="middle" fill="#111" stroke="#111" stroke-width="0.7">21 ± 0.2</text>
<line x1="225" y1="910" x2="225" y2="1090" stroke="#222" stroke-width="3.87"/>
<line x1="365" y1="910" x2="365" y2="1090" stroke="#222" stroke-width="3.87"/>
<line x1="225" y1="1084" x2="365" y2="1084" stroke="#222" stroke-width="4.3"/>
<polygon points="225,1084 240.0,1080.8 240.0,1087.2" fill="#222"/>
<polygon points="365,1084 350.0,1087.2 350.0,1080.8" fill="#222"/>
<text x="295" y="1076" font-size="24.5" text-anchor="middle" fill="#111" stroke="#111" stroke-width="0.7">29.00</text>
<line x1="648" y1="22" x2="648" y2="1082" stroke="#222" stroke-width="4.3"/>
<polyline points="648,600 530,600 524,606 524,880 611,880 611,735" fill="none" stroke="#222" stroke-width="4.3"/>
<line x1="524" y1="655" x2="548" y2="655" stroke="#222" stroke-width="4.3"/>
<line x1="548" y1="600" x2="548" y2="780" stroke="#222" stroke-width="4.3"/>
<path d="M548,655 C583,663 611,695 611,735" fill="none" stroke="#222" stroke-width="4.3"/>
<path d="M524,606 L519,606 Q515,606 515,611 L515,634 Q515,638 524,638" fill="none" stroke="#222" stroke-width="4.3"/>
<path d="M524,849 L519,849 Q515,849 515,855 L515,877 L524,877" fill="none" stroke="#222" stroke-width="4.3"/>
<polyline points="535,880 535,905 610,905 610,880" fill="none" stroke="#222" stroke-width="4.3"/>
<path d="M550,907 L541,913 Q535,918 541,923 L550,929 M596,907 L605,913 Q611,918 605,923 L596,929 M550,929 L596,929 M541,914 L605,914 M541,922 L605,922 M550,929 L541,935 Q535,940 541,945 L550,951 M596,929 L605,935 Q611,940 605,945 L596,951 M550,951 L596,951 M541,936 L605,936 M541,944 L605,944 M550,951 L541,957 Q535,962 541,967 L550,973 M596,951 L605,957 Q611,962 605,967 L596,973 M550,973 L596,973 M541,958 L605,958 M541,966 L605,966 " fill="none" stroke="#222" stroke-width="3.87"/>
<path d="M550,973 L542,978 L542,988 Q542,995 552,995 L594,995 Q604,995 604,988 L604,978 L596,973" fill="none" stroke="#222" stroke-width="4.3"/>
<line x1="597" y1="22" x2="597" y2="185" stroke="#222" stroke-width="3.44"/>
<line x1="597" y1="32" x2="648" y2="32" stroke="#222" stroke-width="4.3"/>
<polygon points="597,32 612.0,28.8 612.0,35.2" fill="#222"/>
<polygon points="648,32 633.0,35.2 633.0,28.8" fill="#222"/>
<text x="622" y="23" font-size="19" text-anchor="middle" fill="#111" stroke="#111" stroke-width="0.7">10.20</text>
<path d="M583,340 L583,150 Q583,135 597,135 Q612,135 612,150 L612,340" fill="none" stroke="#222" stroke-width="4.3"/>
<rect x="583" y="340" width="29" height="185" rx="0" fill="#fff" stroke="#222" stroke-width="4.3"/>
<line x1="598" y1="340" x2="598" y2="525" stroke="#3a3a3a" stroke-width="27" stroke-dasharray="3 3"/>
<path d="M554,600 L554,562 Q554,548 568,548 L626,548 Q640,548 640,562 L640,600" fill="none" stroke="#222" stroke-width="4.3"/>
<rect x="569" y="525" width="56" height="23" rx="5" fill="none" stroke="#222" stroke-width="4.3"/>
<line x1="572" y1="536" x2="622" y2="536" stroke="#222" stroke-width="3.44"/>
<line x1="548" y1="740" x2="648" y2="740" stroke="#222" stroke-width="4.3"/>
<polygon points="548,740 562.6,736.8 562.6,743.2" fill="#222"/>
<polygon points="648,740 633.0,743.2 633.0,736.8" fill="#222"/>
<text x="600" y="728" font-size="24.5" text-anchor="middle" fill="#111" stroke="#111" stroke-width="0.7">20.4</text>
<line x1="652" y1="603" x2="745" y2="603" stroke="#222" stroke-width="4.3"/>
<line x1="610" y1="905" x2="745" y2="905" stroke="#222" stroke-width="4.3"/>
<line x1="610" y1="995" x2="745" y2="995" stroke="#222" stroke-width="4.3"/>
<line x1="728" y1="603" x2="728" y2="905" stroke="#222" stroke-width="4.3"/>
<polygon points="728,603 731.2,618.0 724.8,618.0" fill="#222"/>
<polygon points="728,905 724.8,890.0 731.2,890.0" fill="#222"/>
<text x="714" y="755" font-size="24.5" text-anchor="middle" fill="#111" stroke="#111" stroke-width="0.7" transform="rotate(-90 714 755)">64</text>
<line x1="728" y1="907" x2="728" y2="995" stroke="#222" stroke-width="4.3"/>
<polygon points="728,907 731.2,922.0 724.8,922.0" fill="#222"/>
<polygon points="728,995 724.8,980.0 731.2,980.0" fill="#222"/>
<text x="714" y="955" font-size="24.5" text-anchor="middle" fill="#111" stroke="#111" stroke-width="0.7" transform="rotate(-90 714 955)">14</text>
<text x="688" y="672" font-size="24.5" text-anchor="middle" fill="#111" stroke="#111" stroke-width="0.7">2-M5</text>
<text x="688" y="900" font-size="24.5" text-anchor="middle" fill="#111" stroke="#111" stroke-width="0.7">2-M5</text>
<text x="632" y="945" font-size="22" text-anchor="middle" fill="#111" stroke="#111" stroke-width="0.7">7.40</text>
<line x1="610" y1="950" x2="645" y2="950" stroke="#222" stroke-width="4.3"/>
<line x1="573" y1="880" x2="573" y2="1030" stroke="#222" stroke-width="3.44"/>
<line x1="573" y1="1025" x2="648" y2="1025" stroke="#222" stroke-width="4.3"/>
<polygon points="573,1025 587.8,1021.8 587.8,1028.2" fill="#222"/>
<polygon points="648,1025 633.0,1028.2 633.0,1021.8" fill="#222"/>
<text x="610" y="1020" font-size="24.5" text-anchor="middle" fill="#111" stroke="#111" stroke-width="0.7">15.10</text>
<line x1="515" y1="890" x2="515" y2="1082" stroke="#222" stroke-width="4.3"/>
<line x1="515" y1="1075" x2="648" y2="1075" stroke="#222" stroke-width="4.3"/>
<polygon points="515,1075 530.0,1071.8 530.0,1078.2" fill="#222"/>
<polygon points="648,1075 633.0,1078.2 633.0,1071.8" fill="#222"/>
<text x="580" y="1065" font-size="24.5" text-anchor="middle" fill="#111" stroke="#111" stroke-width="0.7">26.90</text>
</svg>
<svg width="1000" height="1343" style="left:0;top:0" viewBox="0 0 1000 1343">
<polygon points="614.3,1206.6 624.2,1196.4 633.1,1194.4 645.3,1180.5 652.1,1175.5 658.2,1177.5 730.2,1243.9 732.6,1254.0 743.4,1262.9 741.2,1268.4 723.4,1291.1 705.4,1305.2 614.8,1228.0" fill="#62a8dd" />
<polygon points="614.3,1206.6 621.5,1201.0 624.6,1214.8 627.0,1222.0 644.9,1242.1 697.4,1289.4 705.5,1293.3 723.4,1291.1 705.4,1305.2 614.8,1228.0" fill="#4f96cf" />
<polygon points="624.1,1201.8 632.6,1202.8 626.8,1214.5 629.8,1224.1 637.2,1234.8 695.5,1287.2 697.3,1288.6 644.6,1240.5 626.6,1219.5" fill="#80bee9" />
<circle cx="624.2" cy="1205.9" r="1.8" fill="#1c2a3a"/>
<circle cx="652.6" cy="1181.2" r="1.8" fill="#1c2a3a"/>
<circle cx="704.9" cy="1289.2" r="1.8" fill="#1c2a3a"/>
<path d="M607.2,1198.4 Q606.2,1196.0 607.7,1192.2 L609.6,1187.1 Q611.0,1183.2 613.9,1181.3 L617.6,1178.7 Q620.5,1176.8 623.9,1177.3 L628.4,1178.0 Q631.8,1178.5 633.5,1180.4 L635.8,1182.9 Q637.5,1184.8 635.3,1186.8 L632.4,1189.7 Q630.2,1191.8 629.3,1194.0 L628.0,1197.0 Q627.0,1199.2 624.1,1201.1 L620.4,1203.6 Q617.5,1205.5 615.1,1205.0 L611.9,1204.5 Q609.5,1204.0 608.5,1201.6 Z" fill="#161618" />
<ellipse cx="621.5" cy="1183.5" rx="7.5" ry="3.5" fill="#2a2a2d" transform="rotate(-40 621.5 1183.5)" />
<path d="M624.9,1213.4 Q624.7,1212.6 625.4,1211.6 L631.6,1204.0 Q632.3,1203.0 631.9,1201.9 L628.8,1192.9 Q628.4,1191.8 629.8,1190.3 L640.6,1178.4 Q642.0,1176.9 642.3,1177.3 L645.0,1180.1 Q645.3,1180.5 645.7,1180.9 L648.4,1184.3 Q648.7,1184.7 649.2,1184.9 L652.5,1186.9 Q652.9,1187.1 653.8,1186.5 L660.4,1181.6 Q661.2,1181.0 661.6,1180.3 L664.9,1175.1 Q665.3,1174.4 665.9,1174.4 L670.6,1174.4 Q671.2,1174.4 677.6,1180.6 L729.0,1229.9 Q735.4,1236.0 735.4,1236.6 L735.3,1241.3 Q735.3,1241.9 735.0,1243.1 L732.9,1252.5 Q732.6,1253.6 731.1,1255.5 L719.1,1270.6 Q717.6,1272.4 716.2,1273.5 L704.9,1281.8 Q703.5,1282.9 702.6,1283.5 L695.3,1288.5 Q694.4,1289.1 688.6,1283.9 L642.5,1241.8 Q636.7,1236.6 635.7,1235.0 L627.7,1222.4 Q626.7,1220.8 626.5,1220.0 Z" fill="#161618" />
<path d="M637.6,1211.0 Q633.9,1207.1 636.1,1205.2 L668.3,1177.6 Q670.5,1175.7 674.3,1179.3 L730.2,1232.1 Q734.1,1235.7 731.8,1237.8 L698.6,1268.7 Q696.3,1270.8 692.6,1267.0 Z" fill="#27272a" />
<path d="M706.1,1265.6 Q706.0,1261.4 709.7,1258.4 L717.2,1252.4 Q721.0,1249.4 723.2,1250.1 L727.5,1251.6 Q729.7,1252.4 732.0,1254.8 L736.4,1259.6 Q738.6,1262.0 734.0,1267.9 L724.8,1279.6 Q720.2,1285.5 718.0,1285.3 L713.6,1285.1 Q711.3,1285.0 710.1,1283.3 L707.6,1279.9 Q706.4,1278.1 706.3,1274.0 Z" fill="#131315" />
<path d="M720.2,1273.3 Q716.9,1267.5 719.4,1265.1 L724.6,1260.2 Q727.2,1257.7 733.4,1262.3 L746.0,1271.5 Q752.3,1276.1 753.8,1277.8 L756.7,1281.1 Q758.2,1282.8 758.2,1285.3 L758.1,1290.4 Q758.0,1292.9 755.9,1294.4 L751.8,1297.5 Q749.7,1299.0 747.3,1298.5 L742.6,1297.5 Q740.2,1297.0 737.7,1295.4 L732.7,1292.3 Q730.2,1290.8 726.8,1285.0 Z" fill="#0e0e10" />
<ellipse cx="723.2" cy="1265.3" rx="12.3" ry="5.0" fill="#111113" transform="rotate(-45.9 723.2 1265.3)"/>
<ellipse cx="723.8" cy="1263.7" rx="9.8" ry="1.5" fill="#343437" transform="rotate(-45.9 723.8 1263.7)"/>
<ellipse cx="729.8" cy="1272.9" rx="13.9" ry="5.3" fill="#111113" transform="rotate(-45.9 729.8 1272.9)"/>
<ellipse cx="730.4" cy="1271.3" rx="11.1" ry="1.6" fill="#343437" transform="rotate(-45.9 730.4 1271.3)"/>
<ellipse cx="736.4" cy="1278.4" rx="13.6" ry="5.3" fill="#111113" transform="rotate(-45.9 736.4 1278.4)"/>
<ellipse cx="737.0" cy="1276.8" rx="10.9" ry="1.6" fill="#343437" transform="rotate(-45.9 737.0 1276.8)"/>
<ellipse cx="743.7" cy="1285.3" rx="14.2" ry="6.6" fill="#111113" transform="rotate(-45.9 743.7 1285.3)"/>
<ellipse cx="744.3" cy="1283.7" rx="11.4" ry="2.0" fill="#343437" transform="rotate(-45.9 744.3 1283.7)"/>
<ellipse cx="748.8" cy="1290.3" rx="12.4" ry="9.5" fill="#1d1d20" transform="rotate(-45.9 748.8 1290.3)"/>
<ellipse cx="749.4" cy="1291.1" rx="7.1" ry="5.3" fill="#050506" transform="rotate(-45.9 748.8 1290.3)"/>
<path d="M649.9,1222.0 Q647.6,1220.0 649.5,1218.6 L678.1,1197.3 Q680.0,1195.8 682.3,1197.5 L716.4,1222.4 Q718.7,1224.1 716.7,1225.8 L687.7,1251.9 Q685.7,1253.7 683.4,1251.6 Z" fill="#222225" stroke="#0a0a0b" stroke-width="0.74"/>
<g transform="matrix(0.8020 -0.5973 0.7498 0.6617 647.57 1220.01)">
<text x="6.1" y="6.6" font-size="5.59" fill="#2a66d0" textLength="30.3" lengthAdjust="spacingAndGlyphs" font-weight="bold">CHNANMA</text>
<text x="4.9" y="13.2" font-size="7.12" fill="#f4f4f4" textLength="29.9" lengthAdjust="spacingAndGlyphs" font-weight="bold" font-style="italic">NM-8169</text>
<text x="2.4" y="18.6" font-size="5.85" fill="#f0f0f0" textLength="36.0" lengthAdjust="spacingAndGlyphs" font-weight="bold">LIMIT SWITCH</text>
<line x1="0.0" y1="20.6" x2="40.5" y2="20.6" stroke="#d8d8d8" stroke-width="0.61"/>
<text x="2.0" y="24.7" font-size="4.17" fill="#e4e4e4" textLength="22.3" lengthAdjust="spacingAndGlyphs" font-weight="bold">Ui:380V Ith:10A</text>
<text x="26.7" y="24.7" font-size="4.17" fill="#e4e4e4" textLength="12.5" lengthAdjust="spacingAndGlyphs" font-weight="bold">IP65</text>
<text x="2.0" y="28.7" font-size="4.17" fill="#e4e4e4" textLength="22.3" lengthAdjust="spacingAndGlyphs" font-weight="bold">AC-15 Ue:250V</text>
<text x="26.7" y="28.7" font-size="4.17" fill="#e4e4e4" textLength="12.5" lengthAdjust="spacingAndGlyphs" font-weight="bold">Ie:1.5A</text>
<text x="2.0" y="32.8" font-size="4.17" fill="#e4e4e4" textLength="22.3" lengthAdjust="spacingAndGlyphs" font-weight="bold">DC-13 Ue:220V</text>
<text x="26.7" y="32.8" font-size="4.17" fill="#e4e4e4" textLength="12.5" lengthAdjust="spacingAndGlyphs" font-weight="bold">Ie:0.3A</text>
<text x="2.0" y="36.9" font-size="4.17" fill="#e4e4e4" textLength="17.0" lengthAdjust="spacingAndGlyphs" font-weight="bold">NO(13,14)NO</text>
<text x="21.4" y="36.9" font-size="4.17" fill="#e4e4e4" textLength="17.8" lengthAdjust="spacingAndGlyphs" font-weight="bold">GB14048.5</text>
<text x="2.0" y="40.9" font-size="4.17" fill="#e4e4e4" textLength="17.0" lengthAdjust="spacingAndGlyphs" font-weight="bold">NC(11,12)NC</text>
<line x1="0.0" y1="44.5" x2="40.5" y2="44.5" stroke="#d8d8d8" stroke-width="0.61"/>
</g>
<circle cx="638.8" cy="1187.7" r="5.5" fill="#c4c4c6" stroke="#3a3a3a" stroke-width="0.6"/>
<circle cx="638.1" cy="1186.9" r="3.4" fill="#ededee"/>
<path d="M635.8,1188.8 L641.8,1186.6 M637.7,1184.7 L639.9,1190.7" stroke="#4a4a4a" stroke-width="1.2" fill="none"/>
<circle cx="725.8" cy="1234.0" r="5.5" fill="#c4c4c6" stroke="#3a3a3a" stroke-width="0.6"/>
<circle cx="725.1" cy="1233.1" r="3.4" fill="#ededee"/>
<path d="M722.8,1235.1 L728.8,1232.9 M724.7,1231.0 L726.9,1237.0" stroke="#4a4a4a" stroke-width="1.2" fill="none"/>
<circle cx="696.7" cy="1260.5" r="5.5" fill="#c4c4c6" stroke="#3a3a3a" stroke-width="0.6"/>
<circle cx="695.9" cy="1259.7" r="3.4" fill="#ededee"/>
<path d="M693.7,1261.6 L699.7,1259.4 M695.6,1257.5 L697.8,1263.5" stroke="#4a4a4a" stroke-width="1.2" fill="none"/>
<line x1="522.2" y1="1110.5" x2="582.0" y2="1160.5" stroke="#8d8d8d" stroke-width="0.80" />
<line x1="581.5" y1="1160.0" x2="613.0" y2="1185.2" stroke="#7d7d7d" stroke-width="7.50" />
<line x1="581.5" y1="1160.0" x2="613.0" y2="1185.2" stroke="#d0d0d0" stroke-width="3.00" />
<line x1="581.5" y1="1160.0" x2="613.0" y2="1185.2" stroke="#444" stroke-width="7.5" stroke-dasharray="0.7 1.3" opacity="0.5"/>
</svg>
<svg x="0" y="0" width="220" height="240" style="left:770px;top:1096px" viewBox="0 0 1000 1091">
<rect x="208" y="560" width="154" height="325" rx="6" fill="none" stroke="#222" stroke-width="4.3"/>
<polyline points="253,560 253,596 208,596" fill="none" stroke="#222" stroke-width="4.3"/>
<polyline points="317,560 317,596 362,596" fill="none" stroke="#222" stroke-width="4.3"/>
<circle cx="230" cy="578" r="11" fill="none" stroke="#222" stroke-width="4.3"/>
<circle cx="340" cy="578" r="11" fill="none" stroke="#222" stroke-width="4.3"/>
<circle cx="285" cy="578" r="14" fill="none" stroke="#222" stroke-width="4.3"/>
<circle cx="285" cy="578" r="7" fill="none" stroke="#222" stroke-width="3.44"/>
<line x1="275" y1="578" x2="295" y2="578" stroke="#222" stroke-width="3.87"/>
<line x1="285" y1="568" x2="285" y2="588" stroke="#222" stroke-width="3.87"/>
<rect x="222" y="668" width="126" height="137" rx="9" fill="none" stroke="#222" stroke-width="4.3"/>
<circle cx="230" cy="828" r="13" fill="none" stroke="#222" stroke-width="4.3"/>
<line x1="221" y1="828" x2="240" y2="828" stroke="#222" stroke-width="3.87"/>
<line x1="230" y1="818" x2="230" y2="838" stroke="#222" stroke-width="3.87"/>
<circle cx="230" cy="828" r="6" fill="none" stroke="#222" stroke-width="3.01"/>
<circle cx="230" cy="865" r="11" fill="none" stroke="#222" stroke-width="4.3"/>
<circle cx="340" cy="828" r="13" fill="none" stroke="#222" stroke-width="4.3"/>
<line x1="330" y1="828" x2="349" y2="828" stroke="#222" stroke-width="3.87"/>
<line x1="340" y1="818" x2="340" y2="838" stroke="#222" stroke-width="3.87"/>
<circle cx="340" cy="828" r="6" fill="none" stroke="#222" stroke-width="3.01"/>
<circle cx="340" cy="865" r="11" fill="none" stroke="#222" stroke-width="4.3"/>
<line x1="208" y1="848" x2="362" y2="848" stroke="#222" stroke-width="4.3"/>
<line x1="243" y1="848" x2="243" y2="885" stroke="#222" stroke-width="4.3"/>
<line x1="327" y1="848" x2="327" y2="885" stroke="#222" stroke-width="4.3"/>
<path d="M259,887 L248,893 Q242,897 248,902 L259,907 M311,887 L322,893 Q328,897 322,902 L311,907 M259,907 L311,907 M248,893 L322,893 M248,901 L322,901 M259,907 L248,913 Q242,917 248,922 L259,928 M311,907 L322,913 Q328,917 322,922 L311,928 M259,928 L311,928 M248,913 L322,913 M248,921 L322,921 M259,928 L248,933 Q242,938 248,942 L259,948 M311,928 L322,933 Q328,938 322,942 L311,948 M259,948 L311,948 M248,934 L322,934 M248,942 L322,942 " fill="none" stroke="#222" stroke-width="3.87"/>
<path d="M259,948 L250,952 L250,962 Q250,968 261,968 L309,968 Q320,968 320,962 L320,952 L311,948" fill="none" stroke="#222" stroke-width="4.3"/>
<path d="M235,560 L235,519 Q235,505 249,505 L321,505 Q335,505 335,519 L335,560" fill="none" stroke="#222" stroke-width="4.3"/>
<rect x="252" y="478" width="66" height="27" rx="5" fill="none" stroke="#222" stroke-width="4.3"/>
<line x1="255" y1="492" x2="315" y2="492" stroke="#222" stroke-width="3.44"/>
<rect x="268" y="340" width="30" height="138" rx="0" fill="#fff" stroke="#222" stroke-width="4.3"/>
<line x1="283" y1="340" x2="283" y2="478" stroke="#3a3a3a" stroke-width="28" stroke-dasharray="3 3"/>
<line x1="283" y1="345" x2="283" y2="478" stroke="#222" stroke-width="26" stroke-dasharray="3 3"/>
<rect x="280" y="78" width="8" height="262" rx="3" fill="none" stroke="#222" stroke-width="4.3"/>
<line x1="288" y1="78" x2="470" y2="78" stroke="#222" stroke-width="4.3"/>
<line x1="298" y1="340" x2="350" y2="340" stroke="#222" stroke-width="4.3"/>
<line x1="332" y1="78" x2="332" y2="340" stroke="#222" stroke-width="4.3"/>
<polygon points="332,78 335.2,93.0 328.8,93.0" fill="#222"/>
<polygon points="332,340 328.8,325.0 335.2,325.0" fill="#222"/>
<text x="318" y="210" font-size="24.5" text-anchor="middle" fill="#111" stroke="#111" stroke-width="0.7" transform="rotate(-90 318 210)">51.50</text>
<line x1="458" y1="78" x2="458" y2="576" stroke="#222" stroke-width="4.3"/>
<polygon points="458,78 461.2,93.0 454.8,93.0" fill="#222"/>
<polygon points="458,576 454.8,561.0 461.2,561.0" fill="#222"/>
<text x="444" y="335" font-size="24.5" text-anchor="middle" fill="#111" stroke="#111" stroke-width="0.7" transform="rotate(-90 444 335)">100 ± 1.5</text>
<line x1="362" y1="578" x2="475" y2="578" stroke="#222" stroke-width="4.3"/>
<polyline points="345,570 345,438 428,438" fill="none" stroke="#222" stroke-width="4.3"/>
<polygon points="345,570 341.8,555.0 348.2,555.0" fill="#222"/>
<text x="385" y="430" font-size="24.5" text-anchor="middle" fill="#111" stroke="#111" stroke-width="0.7">2 x M5</text>
<line x1="458" y1="582" x2="458" y2="865" stroke="#222" stroke-width="4.3"/>
<polygon points="458,582 461.2,597.0 454.8,597.0" fill="#222"/>
<polygon points="458,865 454.8,850.0 461.2,850.0" fill="#222"/>
<text x="444" y="735" font-size="24.5" text-anchor="middle" fill="#111" stroke="#111" stroke-width="0.7" transform="rotate(-90 444 735)">56.00</text>
<line x1="362" y1="865" x2="472" y2="865" stroke="#222" stroke-width="4.3"/>
<polyline points="352,835 390,892 462,892" fill="none" stroke="#222" stroke-width="4.3"/>
<polygon points="352,835 361.7,844.2 356.7,847.5" fill="#222"/>
<text x="428" y="890" font-size="24.5" text-anchor="middle" fill="#111" stroke="#111" stroke-width="0.7">3-M3</text>
<polyline points="352,872 385,945 455,945" fill="none" stroke="#222" stroke-width="4.3"/>
<polygon points="352,872 360.1,882.6 354.6,885.1" fill="#222"/>
<text x="422" y="943" font-size="24.5" text-anchor="middle" fill="#111" stroke="#111" stroke-width="0.7">2-M5</text>
<line x1="230" y1="878" x2="230" y2="1020" stroke="#222" stroke-width="3.87"/>
<line x1="342" y1="878" x2="342" y2="1020" stroke="#222" stroke-width="3.87"/>
<line x1="230" y1="1012" x2="342" y2="1012" stroke="#222" stroke-width="4.3"/>
<polygon points="230,1012 245.0,1008.8 245.0,1015.2" fill="#222"/>
<polygon points="342,1012 327.0,1015.2 327.0,1008.8" fill="#222"/>
<text x="288" y="1002" font-size="24.5" text-anchor="middle" fill="#111" stroke="#111" stroke-width="0.7">21 ± 0.2</text>
<line x1="208" y1="890" x2="208" y2="1072" stroke="#222" stroke-width="3.87"/>
<line x1="362" y1="890" x2="362" y2="1072" stroke="#222" stroke-width="3.87"/>
<line x1="208" y1="1062" x2="362" y2="1062" stroke="#222" stroke-width="4.3"/>
<polygon points="208,1062 223.0,1058.8 223.0,1065.2" fill="#222"/>
<polygon points="362,1062 347.0,1065.2 347.0,1058.8" fill="#222"/>
<text x="285" y="1052" font-size="24.5" text-anchor="middle" fill="#111" stroke="#111" stroke-width="0.7">29.00</text>
<line x1="695" y1="28" x2="695" y2="1082" stroke="#222" stroke-width="4.3"/>
<polyline points="695,590 568,590 562,596 562,878 656,878 656,728" fill="none" stroke="#222" stroke-width="4.3"/>
<line x1="562" y1="645" x2="587" y2="645" stroke="#222" stroke-width="4.3"/>
<line x1="587" y1="590" x2="587" y2="774" stroke="#222" stroke-width="4.3"/>
<path d="M587,645 C625,653 656,686 656,728" fill="none" stroke="#222" stroke-width="4.3"/>
<path d="M562,596 L556,596 Q552,596 552,602 L552,625 Q552,629 562,629" fill="none" stroke="#222" stroke-width="4.3"/>
<path d="M562,846 L556,846 Q552,846 552,852 L552,875 L562,875" fill="none" stroke="#222" stroke-width="4.3"/>
<polyline points="574,878 574,905 655,905 655,878" fill="none" stroke="#222" stroke-width="4.3"/>
<path d="M589,907 L579,913 Q573,918 579,923 L589,929 M639,907 L649,913 Q655,918 649,923 L639,929 M589,929 L639,929 M579,914 L649,914 M579,922 L649,922 M589,929 L579,935 Q573,940 579,945 L589,951 M639,929 L649,935 Q655,940 649,945 L639,951 M589,951 L639,951 M579,936 L649,936 M579,944 L649,944 M589,951 L579,957 Q573,962 579,967 L589,973 M639,951 L649,957 Q655,962 649,967 L639,973 M589,973 L639,973 M579,958 L649,958 M579,966 L649,966 " fill="none" stroke="#222" stroke-width="3.87"/>
<path d="M589,973 L581,978 L581,988 Q581,995 592,995 L637,995 Q647,995 647,988 L647,978 L639,973" fill="none" stroke="#222" stroke-width="4.3"/>
<line x1="640" y1="28" x2="640" y2="110" stroke="#222" stroke-width="3.44"/>
<line x1="640" y1="40" x2="695" y2="40" stroke="#222" stroke-width="4.3"/>
<polygon points="640,40 655.0,36.8 655.0,43.2" fill="#222"/>
<polygon points="695,40 680.0,43.2 680.0,36.8" fill="#222"/>
<text x="666" y="28" font-size="19" text-anchor="middle" fill="#111" stroke="#111" stroke-width="0.7">10.20</text>
<rect x="635" y="110" width="7" height="260" rx="3" fill="none" stroke="#222" stroke-width="4.3"/>
<line x1="638" y1="112" x2="638" y2="180" stroke="#222" stroke-width="6"/>
<polyline points="758,155 692,155 646,205" fill="none" stroke="#222" stroke-width="4.3"/>
<text x="732" y="146" font-size="24.5" text-anchor="middle" fill="#111" stroke="#111" stroke-width="0.7">ø 1.2</text>
<rect x="625" y="370" width="30" height="140" rx="0" fill="#fff" stroke="#222" stroke-width="4.3"/>
<line x1="640" y1="370" x2="640" y2="510" stroke="#3a3a3a" stroke-width="28" stroke-dasharray="3 3"/>
<line x1="640" y1="372" x2="640" y2="510" stroke="#222" stroke-width="26" stroke-dasharray="3 3"/>
<path d="M590,590 L590,549 Q590,535 604,535 L676,535 Q690,535 690,549 L690,590" fill="none" stroke="#222" stroke-width="4.3"/>
<rect x="610" y="510" width="60" height="25" rx="5" fill="none" stroke="#222" stroke-width="4.3"/>
<line x1="613" y1="522" x2="667" y2="522" stroke="#222" stroke-width="3.44"/>
<line x1="587" y1="730" x2="695" y2="730" stroke="#222" stroke-width="4.3"/>
<polygon points="587,730 602.1,726.8 602.1,733.2" fill="#222"/>
<polygon points="695,730 680.0,733.2 680.0,726.8" fill="#222"/>
<text x="640" y="720" font-size="24.5" text-anchor="middle" fill="#111" stroke="#111" stroke-width="0.7">20.3</text>
<line x1="700" y1="590" x2="785" y2="590" stroke="#222" stroke-width="4.3"/>
<line x1="655" y1="905" x2="785" y2="905" stroke="#222" stroke-width="4.3"/>
<line x1="655" y1="995" x2="785" y2="995" stroke="#222" stroke-width="4.3"/>
<line x1="770" y1="590" x2="770" y2="905" stroke="#222" stroke-width="4.3"/>
<polygon points="770,590 773.2,605.0 766.8,605.0" fill="#222"/>
<polygon points="770,905 766.8,890.0 773.2,890.0" fill="#222"/>
<text x="756" y="748" font-size="24.5" text-anchor="middle" fill="#111" stroke="#111" stroke-width="0.7" transform="rotate(-90 756 748)">63.90</text>
<line x1="770" y1="907" x2="770" y2="995" stroke="#222" stroke-width="4.3"/>
<polygon points="770,907 773.2,922.0 766.8,922.0" fill="#222"/>
<polygon points="770,995 766.8,980.0 773.2,980.0" fill="#222"/>
<text x="756" y="955" font-size="24.5" text-anchor="middle" fill="#111" stroke="#111" stroke-width="0.7" transform="rotate(-90 756 955)">16.70</text>
<text x="668" y="945" font-size="22" text-anchor="middle" fill="#111" stroke="#111" stroke-width="0.7">7.40</text>
<line x1="650" y1="950" x2="688" y2="950" stroke="#222" stroke-width="4.3"/>
<line x1="614" y1="878" x2="614" y2="1040" stroke="#222" stroke-width="3.44"/>
<line x1="614" y1="1035" x2="695" y2="1035" stroke="#222" stroke-width="4.3"/>
<polygon points="614,1035 629.2,1031.8 629.2,1038.2" fill="#222"/>
<polygon points="695,1035 680.0,1038.2 680.0,1031.8" fill="#222"/>
<text x="655" y="1028" font-size="24.5" text-anchor="middle" fill="#111" stroke="#111" stroke-width="0.7">15.20</text>
<line x1="552" y1="888" x2="552" y2="1082" stroke="#222" stroke-width="4.3"/>
<line x1="552" y1="1070" x2="695" y2="1070" stroke="#222" stroke-width="4.3"/>
<polygon points="552,1070 567.0,1066.8 567.0,1073.2" fill="#222"/>
<polygon points="695,1070 680.0,1073.2 680.0,1066.8" fill="#222"/>
<text x="625" y="1062" font-size="24.5" text-anchor="middle" fill="#111" stroke="#111" stroke-width="0.7">26.90</text>
</svg>
<div class="nm" style="left:20px;top:256.5px">NM-8104</div>
<div class="nm" style="left:523.5px;top:256.5px">NM-8107</div>
<div class="nm" style="left:20px;top:518.5px">NM-8108</div>
<div class="nm" style="left:523.5px;top:518.5px">NM-8111</div>
<div class="nm" style="left:20px;top:780.5px">NM-8112</div>
<div class="nm" style="left:523.5px;top:780.5px">NM-8122</div>
<div class="nm" style="left:20px;top:1042.5px">NM-8166</div>
<div class="nm" style="left:523.5px;top:1042.5px">NM-8167</div>
<div class="nm" style="left:20px;top:1304.5px">NM-8168</div>
<div class="nm" style="left:523.5px;top:1304.5px">NM-8169</div>
</body></html>
